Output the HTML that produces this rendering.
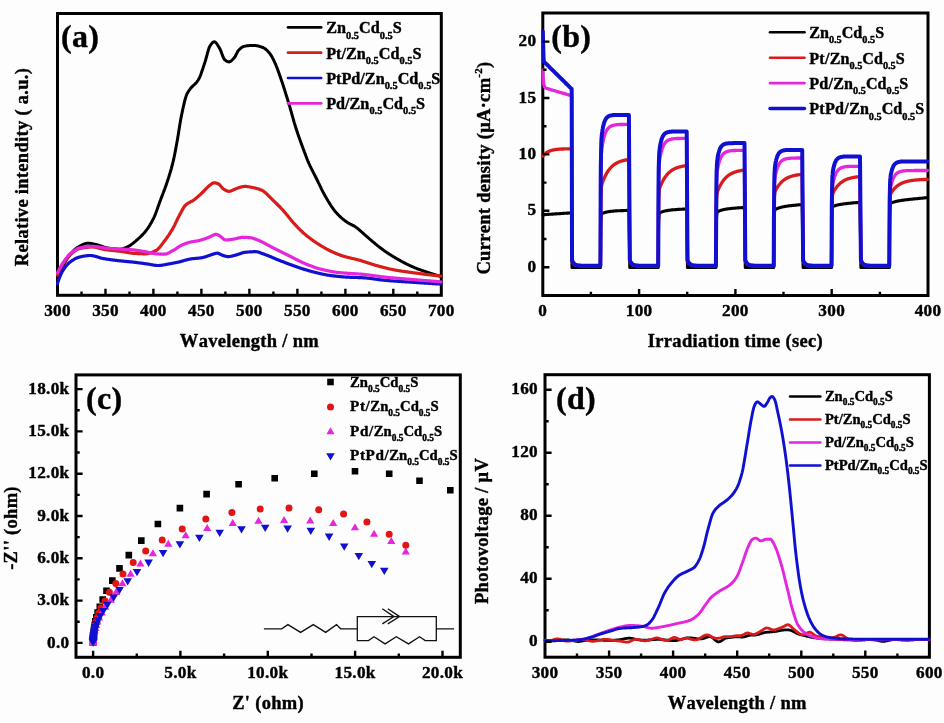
<!DOCTYPE html>
<html lang="en">
<head>
<meta charset="utf-8">
<title>Figure: PL spectra, photocurrent, EIS and SPV of Zn0.5Cd0.5S samples</title>
<style>
html,body{margin:0;padding:0;background:#fdfdfd;}
body{width:944px;height:723px;overflow:hidden;}
svg{display:block;}
svg text{font-family:"Liberation Serif", serif;font-weight:bold;fill:#000;font-kerning:none;letter-spacing:0.3px;stroke:#000;stroke-width:0.4px;stroke-linejoin:round;}
svg text.lg{letter-spacing:0;}
</style>
</head>
<body>
<svg width="944" height="723" viewBox="0 0 944 723">
<defs><filter id="soft" x="0" y="0" width="100%" height="100%" filterUnits="objectBoundingBox" color-interpolation-filters="sRGB"><feGaussianBlur stdDeviation="0.55"/></filter></defs>
<rect x="0" y="0" width="944" height="723" fill="#fdfdfd"/>
<g filter="url(#soft)">
<rect x="0" y="0" width="944" height="723" fill="#fdfdfd"/>
<g id="panel-a">
<rect x="57.5" y="13.5" width="383.8" height="281.8" fill="none" stroke="#000" stroke-width="3"/>
<clipPath id="clipA"><rect x="56" y="13.5" width="386.8" height="281.8"/></clipPath>
<g clip-path="url(#clipA)">
<polyline points="57.4,277.1 57.9,276 58.4,275 58.9,273.9 59.4,272.9 59.9,271.9 60.4,270.9 60.9,269.9 61.4,268.9 61.9,268 62.4,267 62.9,266.1 63.4,265.2 63.9,264.3 64.4,263.4 64.9,262.5 65.4,261.6 65.9,260.8 66.4,259.9 66.9,259.1 67.4,258.3 67.9,257.5 68.4,256.8 68.9,256.2 69.4,255.5 69.9,254.9 70.4,254.3 70.9,253.7 71.4,253.1 71.9,252.5 72.4,252 72.9,251.4 73.4,250.9 73.9,250.4 74.4,249.9 74.9,249.4 75.4,249 75.9,248.6 76.4,248.2 76.9,247.9 77.4,247.6 77.9,247.3 78.4,247 78.9,246.7 79.4,246.4 79.9,246.1 80.4,245.8 80.9,245.5 81.4,245.3 81.9,245 82.4,244.8 82.9,244.5 83.4,244.3 83.9,244.1 84.4,243.9 84.9,243.7 85.4,243.6 85.9,243.5 86.4,243.4 86.9,243.3 87.4,243.2 87.9,243.2 88.4,243.2 88.9,243.2 89.4,243.3 89.9,243.3 90.4,243.4 90.9,243.4 91.4,243.5 91.9,243.6 92.4,243.7 92.9,243.8 93.4,243.9 93.9,244.1 94.4,244.2 94.9,244.3 95.4,244.4 95.9,244.5 96.4,244.7 96.9,244.8 97.4,244.9 97.9,245 98.4,245.2 98.9,245.3 99.4,245.5 99.9,245.7 100.4,245.8 100.9,246 101.4,246.2 101.9,246.4 102.4,246.6 102.9,246.7 103.4,246.9 103.9,247.1 104.4,247.2 104.9,247.4 105.4,247.5 105.9,247.6 106.4,247.8 106.9,247.9 107.4,247.9 107.9,248 108.4,248.1 108.9,248.2 109.4,248.2 109.9,248.3 110.4,248.4 110.9,248.5 111.4,248.5 111.9,248.6 112.4,248.7 112.9,248.7 113.4,248.8 113.9,248.8 114.4,248.9 114.9,248.9 115.4,249 115.9,249 116.4,249.1 116.9,249.1 117.4,249.1 117.9,249.2 118.4,249.2 118.9,249.2 119.4,249.2 119.9,249.2 120.4,249.2 120.9,249.1 121.4,249.1 121.9,249 122.4,248.9 122.9,248.7 123.4,248.6 123.9,248.4 124.4,248.2 124.9,248 125.4,247.8 125.9,247.6 126.4,247.3 126.9,247.1 127.4,246.9 127.9,246.6 128.4,246.4 128.9,246.2 129.4,245.9 129.9,245.6 130.4,245.3 130.9,244.9 131.4,244.6 131.9,244.2 132.4,243.8 132.9,243.4 133.4,243 133.9,242.6 134.4,242.2 134.9,241.7 135.4,241.3 135.9,240.9 136.4,240.4 136.9,240 137.4,239.6 137.9,239.1 138.4,238.7 138.9,238.2 139.4,237.8 139.9,237.3 140.4,236.9 140.9,236.4 141.4,235.9 141.9,235.4 142.4,234.9 142.9,234.4 143.4,233.8 143.9,233.3 144.4,232.7 144.9,232.1 145.4,231.5 145.9,230.8 146.4,230.2 146.9,229.5 147.4,228.8 147.9,228.1 148.4,227.3 148.9,226.6 149.4,225.8 149.9,225 150.4,224.1 150.9,223.3 151.4,222.4 151.9,221.5 152.4,220.6 152.9,219.6 153.4,218.6 153.9,217.6 154.4,216.5 154.9,215.3 155.4,214.1 155.9,212.8 156.4,211.5 156.9,210.1 157.4,208.7 157.9,207.2 158.4,205.8 158.9,204.4 159.4,203 159.9,201.6 160.4,200.3 160.9,198.9 161.4,197.6 161.9,196.3 162.4,195.1 162.9,193.8 163.4,192.5 163.9,191.1 164.4,189.8 164.9,188.5 165.4,187.1 165.9,185.7 166.4,184.2 166.9,182.7 167.4,181.2 167.9,179.7 168.4,178.2 168.9,176.6 169.4,175 169.9,173.4 170.4,171.8 170.9,170 171.4,168.3 171.9,166.4 172.4,164.5 172.9,162.5 173.4,160.4 173.9,158.1 174.4,155.7 174.9,153.2 175.4,150.6 175.9,147.9 176.4,145.2 176.9,142.5 177.4,139.7 177.9,136.8 178.4,133.7 178.9,130.5 179.4,127.4 179.9,124.3 180.4,121.3 180.9,118.5 181.4,115.9 181.9,113.5 182.4,111.1 182.9,108.8 183.4,106.5 183.9,104.3 184.4,102.2 184.9,100.2 185.4,98.5 185.9,96.8 186.4,95.4 186.9,94.2 187.4,93.2 187.9,92.3 188.4,91.5 188.9,90.7 189.4,90 189.9,89.3 190.4,88.6 190.9,88 191.4,87.4 191.9,86.9 192.4,86.4 192.9,85.9 193.4,85.5 193.9,85 194.4,84.5 194.9,84.1 195.4,83.6 195.9,83 196.4,82.5 196.9,81.9 197.4,81.2 197.9,80.5 198.4,79.7 198.9,78.8 199.4,77.8 199.9,76.7 200.4,75.5 200.9,74.2 201.4,72.8 201.9,71.3 202.4,69.9 202.9,68.4 203.4,66.9 203.9,65.4 204.4,63.9 204.9,62.4 205.4,60.8 205.9,59 206.4,57.1 206.9,55.3 207.4,53.4 207.9,51.6 208.4,49.9 208.9,48.4 209.4,47.1 209.9,46.2 210.4,45.4 210.9,44.7 211.4,44 211.9,43.3 212.4,42.8 212.9,42.3 213.4,42 213.9,41.8 214.4,41.8 214.9,42 215.4,42.3 215.9,42.8 216.4,43.3 216.9,44 217.4,44.7 217.9,45.5 218.4,46.3 218.9,47.1 219.4,47.9 219.9,48.8 220.4,49.9 220.9,51.1 221.4,52.4 221.9,53.8 222.4,55.1 222.9,56.4 223.4,57.6 223.9,58.6 224.4,59.4 224.9,59.9 225.4,60.3 225.9,60.6 226.4,61 226.9,61.3 227.4,61.5 227.9,61.7 228.4,61.8 228.9,61.9 229.4,61.9 229.9,61.7 230.4,61.5 230.9,61.1 231.4,60.7 231.9,60.3 232.4,59.8 232.9,59.3 233.4,58.7 233.9,58.1 234.4,57.6 234.9,56.9 235.4,56 235.9,55.1 236.4,54.1 236.9,53.1 237.4,52.1 237.9,51.2 238.4,50.5 238.9,50 239.4,49.5 239.9,49 240.4,48.5 240.9,48.1 241.4,47.7 241.9,47.3 242.4,47 242.9,46.8 243.4,46.5 243.9,46.4 244.4,46.3 244.9,46.2 245.4,46.1 245.9,46 246.4,45.9 246.9,45.8 247.4,45.8 247.9,45.7 248.4,45.7 248.9,45.6 249.4,45.6 249.9,45.6 250.4,45.6 250.9,45.6 251.4,45.6 251.9,45.6 252.4,45.6 252.9,45.6 253.4,45.6 253.9,45.6 254.4,45.6 254.9,45.6 255.4,45.6 255.9,45.6 256.4,45.7 256.9,45.8 257.4,45.8 257.9,45.9 258.4,46.1 258.9,46.2 259.4,46.3 259.9,46.5 260.4,46.6 260.9,46.8 261.4,47 261.9,47.2 262.4,47.3 262.9,47.5 263.4,47.7 263.9,48 264.4,48.3 264.9,48.6 265.4,49 265.9,49.4 266.4,49.8 266.9,50.3 267.4,50.8 267.9,51.3 268.4,51.9 268.9,52.5 269.4,53 269.9,53.6 270.4,54.3 270.9,55.1 271.4,55.9 271.9,56.7 272.4,57.7 272.9,58.6 273.4,59.6 273.9,60.7 274.4,61.7 274.9,62.8 275.4,63.9 275.9,65 276.4,66.3 276.9,67.5 277.4,68.8 277.9,70.2 278.4,71.6 278.9,73 279.4,74.4 279.9,75.8 280.4,77.3 280.9,78.7 281.4,80.2 281.9,81.7 282.4,83.1 282.9,84.6 283.4,86.2 283.9,87.7 284.4,89.3 284.9,90.9 285.4,92.5 285.9,94.1 286.4,95.7 286.9,97.3 287.4,98.9 287.9,100.6 288.4,102.2 288.9,103.9 289.4,105.5 289.9,107.2 290.4,109 290.9,110.7 291.4,112.5 291.9,114.3 292.4,116.1 292.9,117.8 293.4,119.6 293.9,121.3 294.4,123.1 294.9,124.7 295.4,126.4 295.9,128 296.4,129.5 296.9,131 297.4,132.5 297.9,134 298.4,135.5 298.9,136.9 299.4,138.3 299.9,139.7 300.4,141.1 300.9,142.5 301.4,143.9 301.9,145.2 302.4,146.6 302.9,147.9 303.4,149.3 303.9,150.6 304.4,152 304.9,153.3 305.4,154.6 305.9,156 306.4,157.3 306.9,158.6 307.4,159.8 307.9,161.1 308.4,162.2 308.9,163.4 309.4,164.5 309.9,165.6 310.4,166.6 310.9,167.7 311.4,168.7 311.9,169.7 312.4,170.7 312.9,171.7 313.4,172.7 313.9,173.6 314.4,174.6 314.9,175.6 315.4,176.5 315.9,177.5 316.4,178.5 316.9,179.5 317.4,180.5 317.9,181.5 318.4,182.6 318.9,183.6 319.4,184.6 319.9,185.7 320.4,186.7 320.9,187.7 321.4,188.8 321.9,189.8 322.4,190.8 322.9,191.8 323.4,192.8 323.9,193.7 324.4,194.6 324.9,195.5 325.4,196.4 325.9,197.3 326.4,198.1 326.9,199 327.4,199.8 327.9,200.7 328.4,201.5 328.9,202.3 329.4,203.1 329.9,203.9 330.4,204.7 330.9,205.5 331.4,206.3 331.9,207 332.4,207.7 332.9,208.4 333.4,209.1 333.9,209.8 334.4,210.5 334.9,211.1 335.4,211.7 335.9,212.3 336.4,212.8 336.9,213.4 337.4,213.9 337.9,214.4 338.4,215 338.9,215.5 339.4,216 339.9,216.4 340.4,216.9 340.9,217.4 341.4,217.8 341.9,218.3 342.4,218.7 342.9,219.1 343.4,219.5 343.9,219.9 344.4,220.3 344.9,220.7 345.4,221.1 345.9,221.4 346.4,221.8 346.9,222.1 347.4,222.5 347.9,222.8 348.4,223 348.9,223.3 349.4,223.6 349.9,223.8 350.4,224.1 350.9,224.3 351.4,224.6 351.9,224.8 352.4,225.1 352.9,225.3 353.4,225.6 353.9,225.9 354.4,226.2 354.9,226.5 355.4,226.8 355.9,227.2 356.4,227.5 356.9,227.9 357.4,228.3 357.9,228.7 358.4,229.1 358.9,229.6 359.4,230 359.9,230.4 360.4,230.9 360.9,231.3 361.4,231.8 361.9,232.2 362.4,232.7 362.9,233.1 363.4,233.5 363.9,234 364.4,234.4 364.9,234.8 365.4,235.3 365.9,235.7 366.4,236.1 366.9,236.6 367.4,237 367.9,237.5 368.4,237.9 368.9,238.3 369.4,238.8 369.9,239.2 370.4,239.7 370.9,240.1 371.4,240.5 371.9,240.9 372.4,241.4 372.9,241.8 373.4,242.2 373.9,242.6 374.4,243 374.9,243.4 375.4,243.9 375.9,244.3 376.4,244.7 376.9,245.1 377.4,245.5 377.9,245.9 378.4,246.3 378.9,246.7 379.4,247.1 379.9,247.5 380.4,247.9 380.9,248.3 381.4,248.6 381.9,249 382.4,249.4 382.9,249.7 383.4,250.1 383.9,250.5 384.4,250.8 384.9,251.2 385.4,251.5 385.9,251.8 386.4,252.2 386.9,252.5 387.4,252.9 387.9,253.2 388.4,253.5 388.9,253.9 389.4,254.2 389.9,254.5 390.4,254.8 390.9,255.1 391.4,255.5 391.9,255.8 392.4,256.1 392.9,256.4 393.4,256.7 393.9,257 394.4,257.3 394.9,257.6 395.4,257.9 395.9,258.2 396.4,258.5 396.9,258.8 397.4,259 397.9,259.3 398.4,259.6 398.9,259.9 399.4,260.2 399.9,260.4 400.4,260.7 400.9,261 401.4,261.3 401.9,261.5 402.4,261.8 402.9,262.1 403.4,262.3 403.9,262.6 404.4,262.8 404.9,263.1 405.4,263.4 405.9,263.6 406.4,263.9 406.9,264.1 407.4,264.4 407.9,264.6 408.4,264.9 408.9,265.1 409.4,265.3 409.9,265.6 410.4,265.8 410.9,266 411.4,266.3 411.9,266.5 412.4,266.7 412.9,266.9 413.4,267.1 413.9,267.3 414.4,267.6 414.9,267.8 415.4,268 415.9,268.2 416.4,268.4 416.9,268.6 417.4,268.8 417.9,269 418.4,269.1 418.9,269.3 419.4,269.5 419.9,269.7 420.4,269.9 420.9,270.1 421.4,270.2 421.9,270.4 422.4,270.6 422.9,270.8 423.4,270.9 423.9,271.1 424.4,271.3 424.9,271.4 425.4,271.6 425.9,271.8 426.4,271.9 426.9,272.1 427.4,272.3 427.9,272.4 428.4,272.6 428.9,272.8 429.4,272.9 429.9,273.1 430.4,273.3 430.9,273.4 431.4,273.6 431.9,273.7 432.4,273.9 432.9,274.1 433.4,274.2 433.9,274.4 434.4,274.5 434.9,274.7 435.4,274.8 435.9,275 436.4,275.1 436.9,275.3 437.4,275.4 437.9,275.6 438.4,275.7 438.9,275.9 439.4,276 439.9,276.2 440.4,276.3 440.9,276.5 441,276.5" fill="none" stroke="#000000" stroke-width="3" stroke-linejoin="round" stroke-linecap="round" />
<polyline points="57.4,275 57.9,273.9 58.4,272.7 58.9,271.6 59.4,270.6 59.9,269.5 60.4,268.5 60.9,267.5 61.4,266.6 61.9,265.7 62.4,264.9 62.9,264.1 63.4,263.3 63.9,262.6 64.4,261.8 64.9,261.1 65.4,260.4 65.9,259.7 66.4,259 66.9,258.4 67.4,257.8 67.9,257.2 68.4,256.6 68.9,256 69.4,255.5 69.9,255 70.4,254.5 70.9,254.1 71.4,253.6 71.9,253.2 72.4,252.8 72.9,252.4 73.4,252 73.9,251.6 74.4,251.2 74.9,250.9 75.4,250.5 75.9,250.2 76.4,249.9 76.9,249.6 77.4,249.3 77.9,249.1 78.4,248.9 78.9,248.7 79.4,248.6 79.9,248.5 80.4,248.4 80.9,248.3 81.4,248.2 81.9,248.1 82.4,248 82.9,247.9 83.4,247.8 83.9,247.7 84.4,247.6 84.9,247.6 85.4,247.5 85.9,247.4 86.4,247.4 86.9,247.3 87.4,247.3 87.9,247.2 88.4,247.2 88.9,247.1 89.4,247.1 89.9,247.1 90.4,247 90.9,247 91.4,247 91.9,247 92.4,247 92.9,247 93.4,247 93.9,247.1 94.4,247.1 94.9,247.2 95.4,247.3 95.9,247.4 96.4,247.5 96.9,247.6 97.4,247.7 97.9,247.8 98.4,248 98.9,248.1 99.4,248.2 99.9,248.4 100.4,248.5 100.9,248.7 101.4,248.8 101.9,248.9 102.4,249 102.9,249.2 103.4,249.3 103.9,249.4 104.4,249.5 104.9,249.6 105.4,249.6 105.9,249.7 106.4,249.8 106.9,249.9 107.4,249.9 107.9,250 108.4,250 108.9,250.1 109.4,250.2 109.9,250.2 110.4,250.3 110.9,250.3 111.4,250.4 111.9,250.4 112.4,250.5 112.9,250.5 113.4,250.6 113.9,250.6 114.4,250.7 114.9,250.7 115.4,250.8 115.9,250.8 116.4,250.9 116.9,250.9 117.4,251 117.9,251.1 118.4,251.1 118.9,251.2 119.4,251.2 119.9,251.3 120.4,251.4 120.9,251.4 121.4,251.5 121.9,251.6 122.4,251.7 122.9,251.7 123.4,251.8 123.9,251.9 124.4,252 124.9,252.1 125.4,252.2 125.9,252.2 126.4,252.3 126.9,252.4 127.4,252.5 127.9,252.6 128.4,252.7 128.9,252.7 129.4,252.8 129.9,252.9 130.4,253 130.9,253 131.4,253.1 131.9,253.2 132.4,253.2 132.9,253.3 133.4,253.3 133.9,253.3 134.4,253.4 134.9,253.4 135.4,253.4 135.9,253.5 136.4,253.5 136.9,253.5 137.4,253.6 137.9,253.6 138.4,253.6 138.9,253.6 139.4,253.7 139.9,253.7 140.4,253.7 140.9,253.7 141.4,253.7 141.9,253.7 142.4,253.8 142.9,253.8 143.4,253.8 143.9,253.8 144.4,253.8 144.9,253.8 145.4,253.8 145.9,253.8 146.4,253.8 146.9,253.7 147.4,253.6 147.9,253.6 148.4,253.5 148.9,253.3 149.4,253.2 149.9,253.1 150.4,252.9 150.9,252.7 151.4,252.6 151.9,252.4 152.4,252.2 152.9,252 153.4,251.8 153.9,251.5 154.4,251.3 154.9,251.1 155.4,250.8 155.9,250.6 156.4,250.3 156.9,250 157.4,249.6 157.9,249.2 158.4,248.7 158.9,248.2 159.4,247.6 159.9,247 160.4,246.4 160.9,245.7 161.4,245.1 161.9,244.4 162.4,243.8 162.9,243.1 163.4,242.4 163.9,241.7 164.4,241.1 164.9,240.5 165.4,239.8 165.9,239.1 166.4,238.4 166.9,237.8 167.4,237 167.9,236.3 168.4,235.6 168.9,234.9 169.4,234.1 169.9,233.3 170.4,232.5 170.9,231.7 171.4,230.9 171.9,230.1 172.4,229.3 172.9,228.4 173.4,227.5 173.9,226.6 174.4,225.6 174.9,224.6 175.4,223.5 175.9,222.4 176.4,221.4 176.9,220.3 177.4,219.3 177.9,218.2 178.4,217.2 178.9,216.3 179.4,215.3 179.9,214.4 180.4,213.5 180.9,212.5 181.4,211.5 181.9,210.6 182.4,209.7 182.9,208.8 183.4,208 183.9,207.2 184.4,206.5 184.9,205.8 185.4,205.3 185.9,204.8 186.4,204.4 186.9,204 187.4,203.7 187.9,203.3 188.4,203 188.9,202.8 189.4,202.5 189.9,202.2 190.4,202 190.9,201.7 191.4,201.4 191.9,201.2 192.4,200.9 192.9,200.6 193.4,200.3 193.9,199.9 194.4,199.6 194.9,199.2 195.4,198.8 195.9,198.4 196.4,198 196.9,197.6 197.4,197.1 197.9,196.7 198.4,196.2 198.9,195.8 199.4,195.3 199.9,194.8 200.4,194.4 200.9,193.9 201.4,193.4 201.9,193 202.4,192.5 202.9,192 203.4,191.5 203.9,191 204.4,190.5 204.9,189.9 205.4,189.4 205.9,188.8 206.4,188.3 206.9,187.8 207.4,187.3 207.9,186.8 208.4,186.4 208.9,186 209.4,185.6 209.9,185.2 210.4,184.8 210.9,184.4 211.4,184 211.9,183.7 212.4,183.4 212.9,183.1 213.4,182.9 213.9,182.8 214.4,182.8 214.9,182.8 215.4,182.9 215.9,183 216.4,183.2 216.9,183.3 217.4,183.5 217.9,183.7 218.4,183.9 218.9,184.2 219.4,184.6 219.9,185.1 220.4,185.6 220.9,186.3 221.4,186.9 221.9,187.5 222.4,188.1 222.9,188.6 223.4,189 223.9,189.3 224.4,189.6 224.9,189.9 225.4,190.2 225.9,190.4 226.4,190.6 226.9,190.9 227.4,191 227.9,191.2 228.4,191.3 228.9,191.3 229.4,191.3 229.9,191.2 230.4,191.1 230.9,191 231.4,190.8 231.9,190.6 232.4,190.4 232.9,190.1 233.4,189.9 233.9,189.6 234.4,189.4 234.9,189.2 235.4,189 235.9,188.8 236.4,188.6 236.9,188.4 237.4,188.3 237.9,188.1 238.4,187.9 238.9,187.8 239.4,187.6 239.9,187.4 240.4,187.3 240.9,187.1 241.4,187 241.9,186.8 242.4,186.7 242.9,186.6 243.4,186.5 243.9,186.5 244.4,186.4 244.9,186.4 245.4,186.4 245.9,186.4 246.4,186.5 246.9,186.5 247.4,186.6 247.9,186.6 248.4,186.7 248.9,186.8 249.4,186.9 249.9,187 250.4,187.1 250.9,187.2 251.4,187.3 251.9,187.4 252.4,187.5 252.9,187.6 253.4,187.7 253.9,187.8 254.4,187.9 254.9,188 255.4,188.1 255.9,188.2 256.4,188.4 256.9,188.5 257.4,188.7 257.9,188.8 258.4,189 258.9,189.1 259.4,189.3 259.9,189.5 260.4,189.7 260.9,189.9 261.4,190.1 261.9,190.3 262.4,190.5 262.9,190.8 263.4,191.1 263.9,191.5 264.4,191.9 264.9,192.3 265.4,192.7 265.9,193.1 266.4,193.6 266.9,194.1 267.4,194.6 267.9,195.1 268.4,195.6 268.9,196.1 269.4,196.7 269.9,197.2 270.4,197.7 270.9,198.2 271.4,198.7 271.9,199.2 272.4,199.7 272.9,200.2 273.4,200.7 273.9,201.1 274.4,201.6 274.9,202.1 275.4,202.6 275.9,203 276.4,203.5 276.9,204 277.4,204.5 277.9,205 278.4,205.5 278.9,206 279.4,206.5 279.9,207 280.4,207.5 280.9,208.1 281.4,208.6 281.9,209.1 282.4,209.6 282.9,210.2 283.4,210.7 283.9,211.3 284.4,211.9 284.9,212.5 285.4,213 285.9,213.6 286.4,214.3 286.9,214.9 287.4,215.5 287.9,216.1 288.4,216.7 288.9,217.4 289.4,218 289.9,218.6 290.4,219.2 290.9,219.9 291.4,220.5 291.9,221 292.4,221.6 292.9,222.2 293.4,222.8 293.9,223.3 294.4,223.9 294.9,224.4 295.4,224.9 295.9,225.5 296.4,226 296.9,226.5 297.4,227.1 297.9,227.6 298.4,228.1 298.9,228.6 299.4,229.1 299.9,229.6 300.4,230.1 300.9,230.6 301.4,231.1 301.9,231.5 302.4,232 302.9,232.5 303.4,232.9 303.9,233.4 304.4,233.8 304.9,234.2 305.4,234.6 305.9,235 306.4,235.5 306.9,235.9 307.4,236.3 307.9,236.7 308.4,237.1 308.9,237.4 309.4,237.8 309.9,238.2 310.4,238.6 310.9,239 311.4,239.3 311.9,239.7 312.4,240.1 312.9,240.4 313.4,240.8 313.9,241.1 314.4,241.5 314.9,241.8 315.4,242.1 315.9,242.5 316.4,242.8 316.9,243.1 317.4,243.5 317.9,243.8 318.4,244.1 318.9,244.4 319.4,244.7 319.9,245.1 320.4,245.4 320.9,245.7 321.4,246 321.9,246.3 322.4,246.6 322.9,246.9 323.4,247.2 323.9,247.5 324.4,247.8 324.9,248.1 325.4,248.3 325.9,248.6 326.4,248.9 326.9,249.2 327.4,249.4 327.9,249.7 328.4,250 328.9,250.2 329.4,250.5 329.9,250.7 330.4,250.9 330.9,251.2 331.4,251.4 331.9,251.6 332.4,251.9 332.9,252.1 333.4,252.3 333.9,252.6 334.4,252.8 334.9,253 335.4,253.2 335.9,253.4 336.4,253.6 336.9,253.8 337.4,254.1 337.9,254.2 338.4,254.4 338.9,254.6 339.4,254.8 339.9,255 340.4,255.2 340.9,255.4 341.4,255.5 341.9,255.7 342.4,255.9 342.9,256 343.4,256.2 343.9,256.3 344.4,256.5 344.9,256.6 345.4,256.8 345.9,256.9 346.4,257 346.9,257.2 347.4,257.3 347.9,257.4 348.4,257.5 348.9,257.6 349.4,257.8 349.9,257.9 350.4,258 350.9,258.1 351.4,258.2 351.9,258.4 352.4,258.5 352.9,258.6 353.4,258.7 353.9,258.8 354.4,258.9 354.9,259 355.4,259.2 355.9,259.3 356.4,259.4 356.9,259.5 357.4,259.7 357.9,259.8 358.4,259.9 358.9,260.1 359.4,260.2 359.9,260.3 360.4,260.5 360.9,260.6 361.4,260.8 361.9,260.9 362.4,261.1 362.9,261.2 363.4,261.4 363.9,261.6 364.4,261.7 364.9,261.9 365.4,262 365.9,262.2 366.4,262.4 366.9,262.5 367.4,262.7 367.9,262.9 368.4,263 368.9,263.2 369.4,263.3 369.9,263.5 370.4,263.7 370.9,263.8 371.4,264 371.9,264.2 372.4,264.3 372.9,264.5 373.4,264.6 373.9,264.8 374.4,264.9 374.9,265.1 375.4,265.2 375.9,265.4 376.4,265.5 376.9,265.6 377.4,265.8 377.9,265.9 378.4,266.1 378.9,266.2 379.4,266.3 379.9,266.5 380.4,266.6 380.9,266.7 381.4,266.9 381.9,267 382.4,267.1 382.9,267.3 383.4,267.4 383.9,267.5 384.4,267.7 384.9,267.8 385.4,267.9 385.9,268 386.4,268.2 386.9,268.3 387.4,268.4 387.9,268.5 388.4,268.7 388.9,268.8 389.4,268.9 389.9,269 390.4,269.1 390.9,269.2 391.4,269.3 391.9,269.4 392.4,269.5 392.9,269.6 393.4,269.7 393.9,269.8 394.4,269.9 394.9,270 395.4,270.1 395.9,270.2 396.4,270.3 396.9,270.3 397.4,270.4 397.9,270.5 398.4,270.6 398.9,270.7 399.4,270.8 399.9,270.8 400.4,270.9 400.9,271 401.4,271.1 401.9,271.1 402.4,271.2 402.9,271.3 403.4,271.4 403.9,271.4 404.4,271.5 404.9,271.6 405.4,271.7 405.9,271.7 406.4,271.8 406.9,271.9 407.4,271.9 407.9,272 408.4,272.1 408.9,272.1 409.4,272.2 409.9,272.3 410.4,272.3 410.9,272.4 411.4,272.5 411.9,272.6 412.4,272.6 412.9,272.7 413.4,272.8 413.9,272.8 414.4,272.9 414.9,273 415.4,273 415.9,273.1 416.4,273.2 416.9,273.2 417.4,273.3 417.9,273.4 418.4,273.4 418.9,273.5 419.4,273.5 419.9,273.6 420.4,273.7 420.9,273.7 421.4,273.8 421.9,273.9 422.4,273.9 422.9,274 423.4,274.1 423.9,274.1 424.4,274.2 424.9,274.3 425.4,274.3 425.9,274.4 426.4,274.4 426.9,274.5 427.4,274.6 427.9,274.6 428.4,274.7 428.9,274.7 429.4,274.8 429.9,274.9 430.4,274.9 430.9,275 431.4,275 431.9,275.1 432.4,275.2 432.9,275.2 433.4,275.3 433.9,275.3 434.4,275.4 434.9,275.4 435.4,275.5 435.9,275.6 436.4,275.6 436.9,275.7 437.4,275.7 437.9,275.8 438.4,275.8 438.9,275.9 439.4,275.9 439.9,276 440.4,276 440.9,276.1 441,276.1" fill="none" stroke="#d81c1c" stroke-width="3.2" stroke-linejoin="round" stroke-linecap="round" />
<polyline points="57.4,283.5 57.9,282.1 58.4,280.7 58.9,279.3 59.4,277.9 59.9,276.7 60.4,275.4 60.9,274.3 61.4,273.2 61.9,272.2 62.4,271.3 62.9,270.5 63.4,269.7 63.9,269 64.4,268.3 64.9,267.6 65.4,266.9 65.9,266.3 66.4,265.7 66.9,265.1 67.4,264.6 67.9,264 68.4,263.5 68.9,263.1 69.4,262.6 69.9,262.2 70.4,261.8 70.9,261.4 71.4,261.1 71.9,260.7 72.4,260.4 72.9,260.1 73.4,259.8 73.9,259.5 74.4,259.2 74.9,258.9 75.4,258.6 75.9,258.4 76.4,258.1 76.9,257.9 77.4,257.7 77.9,257.5 78.4,257.4 78.9,257.2 79.4,257.1 79.9,257 80.4,256.8 80.9,256.7 81.4,256.6 81.9,256.5 82.4,256.4 82.9,256.3 83.4,256.2 83.9,256.1 84.4,256 84.9,256 85.4,255.9 85.9,255.8 86.4,255.8 86.9,255.7 87.4,255.6 87.9,255.6 88.4,255.6 88.9,255.5 89.4,255.5 89.9,255.5 90.4,255.5 90.9,255.5 91.4,255.5 91.9,255.6 92.4,255.7 92.9,255.8 93.4,255.8 93.9,256 94.4,256.1 94.9,256.2 95.4,256.3 95.9,256.5 96.4,256.6 96.9,256.8 97.4,257 97.9,257.1 98.4,257.3 98.9,257.4 99.4,257.6 99.9,257.7 100.4,257.9 100.9,258 101.4,258.2 101.9,258.3 102.4,258.4 102.9,258.5 103.4,258.6 103.9,258.7 104.4,258.7 104.9,258.8 105.4,258.9 105.9,259 106.4,259.1 106.9,259.1 107.4,259.2 107.9,259.3 108.4,259.4 108.9,259.4 109.4,259.5 109.9,259.6 110.4,259.7 110.9,259.7 111.4,259.8 111.9,259.9 112.4,259.9 112.9,260 113.4,260.1 113.9,260.1 114.4,260.2 114.9,260.2 115.4,260.3 115.9,260.4 116.4,260.4 116.9,260.5 117.4,260.6 117.9,260.6 118.4,260.7 118.9,260.7 119.4,260.8 119.9,260.8 120.4,260.9 120.9,260.9 121.4,261 121.9,261 122.4,261.1 122.9,261.1 123.4,261.2 123.9,261.2 124.4,261.3 124.9,261.3 125.4,261.4 125.9,261.4 126.4,261.5 126.9,261.5 127.4,261.6 127.9,261.6 128.4,261.7 128.9,261.7 129.4,261.8 129.9,261.8 130.4,261.8 130.9,261.9 131.4,261.9 131.9,262 132.4,262 132.9,262.1 133.4,262.2 133.9,262.2 134.4,262.3 134.9,262.3 135.4,262.4 135.9,262.4 136.4,262.5 136.9,262.6 137.4,262.6 137.9,262.7 138.4,262.8 138.9,262.8 139.4,262.9 139.9,263 140.4,263 140.9,263.1 141.4,263.2 141.9,263.2 142.4,263.3 142.9,263.4 143.4,263.4 143.9,263.5 144.4,263.6 144.9,263.6 145.4,263.7 145.9,263.8 146.4,263.8 146.9,263.9 147.4,264 147.9,264.1 148.4,264.1 148.9,264.2 149.4,264.3 149.9,264.4 150.4,264.5 150.9,264.6 151.4,264.7 151.9,264.8 152.4,264.9 152.9,264.9 153.4,265 153.9,265.1 154.4,265.2 154.9,265.3 155.4,265.3 155.9,265.4 156.4,265.4 156.9,265.5 157.4,265.5 157.9,265.5 158.4,265.5 158.9,265.5 159.4,265.5 159.9,265.4 160.4,265.4 160.9,265.3 161.4,265.3 161.9,265.2 162.4,265.1 162.9,265 163.4,265 163.9,264.9 164.4,264.8 164.9,264.7 165.4,264.6 165.9,264.5 166.4,264.4 166.9,264.3 167.4,264.2 167.9,264.1 168.4,264 168.9,263.9 169.4,263.9 169.9,263.8 170.4,263.7 170.9,263.6 171.4,263.5 171.9,263.4 172.4,263.3 172.9,263.2 173.4,263.1 173.9,263 174.4,262.9 174.9,262.8 175.4,262.7 175.9,262.6 176.4,262.5 176.9,262.4 177.4,262.3 177.9,262.2 178.4,262.1 178.9,262 179.4,261.9 179.9,261.7 180.4,261.6 180.9,261.5 181.4,261.3 181.9,261.2 182.4,261 182.9,260.9 183.4,260.7 183.9,260.6 184.4,260.4 184.9,260.3 185.4,260.2 185.9,260 186.4,259.9 186.9,259.7 187.4,259.6 187.9,259.5 188.4,259.4 188.9,259.3 189.4,259.2 189.9,259.1 190.4,259 190.9,258.9 191.4,258.9 191.9,258.8 192.4,258.7 192.9,258.7 193.4,258.6 193.9,258.6 194.4,258.5 194.9,258.5 195.4,258.4 195.9,258.4 196.4,258.3 196.9,258.3 197.4,258.3 197.9,258.2 198.4,258.2 198.9,258.1 199.4,258 199.9,258 200.4,257.9 200.9,257.9 201.4,257.8 201.9,257.7 202.4,257.6 202.9,257.5 203.4,257.4 203.9,257.3 204.4,257.1 204.9,257 205.4,256.8 205.9,256.7 206.4,256.5 206.9,256.3 207.4,256.1 207.9,255.9 208.4,255.8 208.9,255.6 209.4,255.4 209.9,255.2 210.4,255.1 210.9,254.9 211.4,254.8 211.9,254.6 212.4,254.4 212.9,254.3 213.4,254.1 213.9,253.9 214.4,253.8 214.9,253.6 215.4,253.5 215.9,253.4 216.4,253.3 216.9,253.2 217.4,253.2 217.9,253.2 218.4,253.4 218.9,253.6 219.4,253.8 219.9,254.1 220.4,254.4 220.9,254.6 221.4,254.8 221.9,255 222.4,255.2 222.9,255.4 223.4,255.5 223.9,255.7 224.4,255.9 224.9,256 225.4,256.2 225.9,256.3 226.4,256.4 226.9,256.5 227.4,256.6 227.9,256.6 228.4,256.6 228.9,256.6 229.4,256.5 229.9,256.5 230.4,256.4 230.9,256.3 231.4,256.2 231.9,256.1 232.4,256 232.9,255.8 233.4,255.7 233.9,255.6 234.4,255.4 234.9,255.3 235.4,255.2 235.9,255 236.4,254.9 236.9,254.8 237.4,254.6 237.9,254.5 238.4,254.3 238.9,254.1 239.4,253.9 239.9,253.7 240.4,253.5 240.9,253.4 241.4,253.2 241.9,253 242.4,252.8 242.9,252.7 243.4,252.6 243.9,252.4 244.4,252.4 244.9,252.3 245.4,252.3 245.9,252.2 246.4,252.2 246.9,252.1 247.4,252.1 247.9,252 248.4,252 248.9,252 249.4,251.9 249.9,251.9 250.4,251.9 250.9,251.8 251.4,251.8 251.9,251.8 252.4,251.8 252.9,251.7 253.4,251.7 253.9,251.7 254.4,251.7 254.9,251.7 255.4,251.7 255.9,251.7 256.4,251.7 256.9,251.8 257.4,251.9 257.9,252 258.4,252.1 258.9,252.3 259.4,252.4 259.9,252.6 260.4,252.8 260.9,253 261.4,253.2 261.9,253.4 262.4,253.6 262.9,253.8 263.4,254 263.9,254.1 264.4,254.3 264.9,254.5 265.4,254.7 265.9,254.8 266.4,255 266.9,255.2 267.4,255.4 267.9,255.6 268.4,255.8 268.9,256 269.4,256.2 269.9,256.4 270.4,256.6 270.9,256.8 271.4,257.1 271.9,257.3 272.4,257.5 272.9,257.7 273.4,257.9 273.9,258.1 274.4,258.3 274.9,258.6 275.4,258.8 275.9,259 276.4,259.2 276.9,259.4 277.4,259.6 277.9,259.8 278.4,260 278.9,260.2 279.4,260.4 279.9,260.6 280.4,260.8 280.9,261 281.4,261.2 281.9,261.4 282.4,261.6 282.9,261.8 283.4,261.9 283.9,262.1 284.4,262.3 284.9,262.5 285.4,262.7 285.9,262.9 286.4,263.1 286.9,263.3 287.4,263.5 287.9,263.7 288.4,263.8 288.9,264 289.4,264.2 289.9,264.4 290.4,264.6 290.9,264.8 291.4,265 291.9,265.1 292.4,265.3 292.9,265.5 293.4,265.7 293.9,265.8 294.4,266 294.9,266.2 295.4,266.4 295.9,266.5 296.4,266.7 296.9,266.9 297.4,267 297.9,267.2 298.4,267.4 298.9,267.6 299.4,267.7 299.9,267.9 300.4,268.1 300.9,268.2 301.4,268.4 301.9,268.6 302.4,268.7 302.9,268.9 303.4,269 303.9,269.2 304.4,269.4 304.9,269.5 305.4,269.7 305.9,269.8 306.4,270 306.9,270.1 307.4,270.3 307.9,270.4 308.4,270.6 308.9,270.7 309.4,270.9 309.9,271 310.4,271.2 310.9,271.3 311.4,271.4 311.9,271.6 312.4,271.7 312.9,271.8 313.4,272 313.9,272.1 314.4,272.2 314.9,272.3 315.4,272.5 315.9,272.6 316.4,272.7 316.9,272.8 317.4,272.9 317.9,273.1 318.4,273.2 318.9,273.3 319.4,273.4 319.9,273.5 320.4,273.7 320.9,273.8 321.4,273.9 321.9,274 322.4,274.1 322.9,274.2 323.4,274.3 323.9,274.4 324.4,274.5 324.9,274.6 325.4,274.7 325.9,274.8 326.4,274.9 326.9,275 327.4,275.1 327.9,275.1 328.4,275.2 328.9,275.3 329.4,275.4 329.9,275.4 330.4,275.5 330.9,275.6 331.4,275.6 331.9,275.7 332.4,275.8 332.9,275.8 333.4,275.9 333.9,275.9 334.4,276 334.9,276.1 335.4,276.1 335.9,276.2 336.4,276.2 336.9,276.3 337.4,276.3 337.9,276.4 338.4,276.4 338.9,276.5 339.4,276.5 339.9,276.6 340.4,276.6 340.9,276.7 341.4,276.7 341.9,276.8 342.4,276.8 342.9,276.8 343.4,276.9 343.9,276.9 344.4,277 344.9,277 345.4,277 345.9,277.1 346.4,277.1 346.9,277.1 347.4,277.1 347.9,277.2 348.4,277.2 348.9,277.2 349.4,277.2 349.9,277.3 350.4,277.3 350.9,277.3 351.4,277.3 351.9,277.3 352.4,277.4 352.9,277.4 353.4,277.4 353.9,277.4 354.4,277.4 354.9,277.4 355.4,277.5 355.9,277.5 356.4,277.5 356.9,277.5 357.4,277.5 357.9,277.5 358.4,277.6 358.9,277.6 359.4,277.6 359.9,277.6 360.4,277.6 360.9,277.7 361.4,277.7 361.9,277.7 362.4,277.7 362.9,277.8 363.4,277.8 363.9,277.8 364.4,277.9 364.9,277.9 365.4,277.9 365.9,278 366.4,278 366.9,278.1 367.4,278.1 367.9,278.2 368.4,278.2 368.9,278.3 369.4,278.3 369.9,278.4 370.4,278.5 370.9,278.5 371.4,278.6 371.9,278.7 372.4,278.7 372.9,278.8 373.4,278.9 373.9,278.9 374.4,279 374.9,279.1 375.4,279.1 375.9,279.2 376.4,279.3 376.9,279.3 377.4,279.4 377.9,279.5 378.4,279.6 378.9,279.6 379.4,279.7 379.9,279.8 380.4,279.8 380.9,279.9 381.4,279.9 381.9,280 382.4,280.1 382.9,280.1 383.4,280.2 383.9,280.2 384.4,280.3 384.9,280.3 385.4,280.4 385.9,280.4 386.4,280.4 386.9,280.5 387.4,280.5 387.9,280.6 388.4,280.6 388.9,280.6 389.4,280.7 389.9,280.7 390.4,280.8 390.9,280.8 391.4,280.8 391.9,280.9 392.4,280.9 392.9,281 393.4,281 393.9,281 394.4,281.1 394.9,281.1 395.4,281.1 395.9,281.2 396.4,281.2 396.9,281.2 397.4,281.3 397.9,281.3 398.4,281.3 398.9,281.4 399.4,281.4 399.9,281.5 400.4,281.5 400.9,281.5 401.4,281.5 401.9,281.6 402.4,281.6 402.9,281.6 403.4,281.7 403.9,281.7 404.4,281.7 404.9,281.8 405.4,281.8 405.9,281.8 406.4,281.9 406.9,281.9 407.4,281.9 407.9,282 408.4,282 408.9,282 409.4,282.1 409.9,282.1 410.4,282.1 410.9,282.2 411.4,282.2 411.9,282.2 412.4,282.3 412.9,282.3 413.4,282.3 413.9,282.4 414.4,282.4 414.9,282.4 415.4,282.5 415.9,282.5 416.4,282.5 416.9,282.6 417.4,282.6 417.9,282.6 418.4,282.7 418.9,282.7 419.4,282.7 419.9,282.8 420.4,282.8 420.9,282.8 421.4,282.9 421.9,282.9 422.4,282.9 422.9,283 423.4,283 423.9,283 424.4,283.1 424.9,283.1 425.4,283.1 425.9,283.2 426.4,283.2 426.9,283.2 427.4,283.2 427.9,283.3 428.4,283.3 428.9,283.3 429.4,283.4 429.9,283.4 430.4,283.4 430.9,283.5 431.4,283.5 431.9,283.5 432.4,283.6 432.9,283.6 433.4,283.6 433.9,283.7 434.4,283.7 434.9,283.7 435.4,283.8 435.9,283.8 436.4,283.8 436.9,283.8 437.4,283.9 437.9,283.9 438.4,283.9 438.9,284 439.4,284 439.9,284 440.4,284.1 440.9,284.1 441,284.1" fill="none" stroke="#1010d0" stroke-width="3.2" stroke-linejoin="round" stroke-linecap="round" />
<polyline points="57.4,272.9 57.9,271.9 58.4,270.9 58.9,269.9 59.4,269 59.9,268 60.4,267.1 60.9,266.2 61.4,265.4 61.9,264.5 62.4,263.8 62.9,263 63.4,262.3 63.9,261.5 64.4,260.8 64.9,260.1 65.4,259.4 65.9,258.7 66.4,258 66.9,257.4 67.4,256.7 67.9,256.1 68.4,255.5 68.9,255 69.4,254.4 69.9,253.9 70.4,253.5 70.9,253 71.4,252.6 71.9,252.3 72.4,251.9 72.9,251.5 73.4,251.1 73.9,250.8 74.4,250.4 74.9,250.1 75.4,249.8 75.9,249.5 76.4,249.2 76.9,248.9 77.4,248.7 77.9,248.5 78.4,248.3 78.9,248.1 79.4,248 79.9,247.9 80.4,247.8 80.9,247.7 81.4,247.6 81.9,247.5 82.4,247.4 82.9,247.3 83.4,247.2 83.9,247.1 84.4,247.1 84.9,247 85.4,246.9 85.9,246.8 86.4,246.8 86.9,246.7 87.4,246.7 87.9,246.6 88.4,246.6 88.9,246.5 89.4,246.5 89.9,246.5 90.4,246.4 90.9,246.4 91.4,246.4 91.9,246.4 92.4,246.4 92.9,246.4 93.4,246.4 93.9,246.4 94.4,246.5 94.9,246.5 95.4,246.5 95.9,246.6 96.4,246.6 96.9,246.7 97.4,246.8 97.9,246.8 98.4,246.9 98.9,247 99.4,247.1 99.9,247.1 100.4,247.2 100.9,247.3 101.4,247.4 101.9,247.5 102.4,247.6 102.9,247.6 103.4,247.7 103.9,247.8 104.4,247.9 104.9,248 105.4,248 105.9,248.1 106.4,248.2 106.9,248.3 107.4,248.3 107.9,248.4 108.4,248.4 108.9,248.5 109.4,248.5 109.9,248.5 110.4,248.6 110.9,248.6 111.4,248.6 111.9,248.7 112.4,248.7 112.9,248.7 113.4,248.8 113.9,248.8 114.4,248.8 114.9,248.8 115.4,248.9 115.9,248.9 116.4,248.9 116.9,248.9 117.4,248.9 117.9,249 118.4,249 118.9,249 119.4,249 119.9,249 120.4,249.1 120.9,249.1 121.4,249.1 121.9,249.1 122.4,249.1 122.9,249.2 123.4,249.2 123.9,249.2 124.4,249.2 124.9,249.3 125.4,249.3 125.9,249.3 126.4,249.3 126.9,249.4 127.4,249.4 127.9,249.4 128.4,249.5 128.9,249.5 129.4,249.5 129.9,249.6 130.4,249.6 130.9,249.6 131.4,249.7 131.9,249.7 132.4,249.8 132.9,249.8 133.4,249.9 133.9,249.9 134.4,250 134.9,250.1 135.4,250.1 135.9,250.2 136.4,250.3 136.9,250.3 137.4,250.4 137.9,250.5 138.4,250.6 138.9,250.6 139.4,250.7 139.9,250.8 140.4,250.9 140.9,251 141.4,251 141.9,251.1 142.4,251.2 142.9,251.3 143.4,251.4 143.9,251.5 144.4,251.5 144.9,251.6 145.4,251.7 145.9,251.8 146.4,251.9 146.9,252 147.4,252.1 147.9,252.2 148.4,252.3 148.9,252.5 149.4,252.6 149.9,252.7 150.4,252.8 150.9,252.9 151.4,253.1 151.9,253.2 152.4,253.3 152.9,253.4 153.4,253.5 153.9,253.6 154.4,253.6 154.9,253.7 155.4,253.8 155.9,253.8 156.4,253.8 156.9,253.9 157.4,253.9 157.9,253.9 158.4,254 158.9,254 159.4,254 159.9,254.1 160.4,254.1 160.9,254.1 161.4,254.1 161.9,254.2 162.4,254.2 162.9,254.2 163.4,254.2 163.9,254.2 164.4,254.2 164.9,254.2 165.4,254.1 165.9,254 166.4,253.9 166.9,253.7 167.4,253.5 167.9,253.3 168.4,253.1 168.9,252.8 169.4,252.5 169.9,252.3 170.4,252 170.9,251.7 171.4,251.4 171.9,251.1 172.4,250.9 172.9,250.6 173.4,250.3 173.9,250.1 174.4,249.8 174.9,249.4 175.4,249.1 175.9,248.8 176.4,248.4 176.9,248.1 177.4,247.7 177.9,247.4 178.4,247.1 178.9,246.7 179.4,246.4 179.9,246.1 180.4,245.8 180.9,245.5 181.4,245.3 181.9,245.1 182.4,244.8 182.9,244.6 183.4,244.4 183.9,244.2 184.4,244 184.9,243.8 185.4,243.6 185.9,243.4 186.4,243.2 186.9,243 187.4,242.9 187.9,242.7 188.4,242.6 188.9,242.4 189.4,242.3 189.9,242.2 190.4,242.1 190.9,242 191.4,241.9 191.9,241.8 192.4,241.7 192.9,241.6 193.4,241.5 193.9,241.5 194.4,241.4 194.9,241.3 195.4,241.2 195.9,241.2 196.4,241.1 196.9,241 197.4,240.9 197.9,240.8 198.4,240.7 198.9,240.6 199.4,240.4 199.9,240.3 200.4,240.2 200.9,240 201.4,239.9 201.9,239.7 202.4,239.6 202.9,239.4 203.4,239.2 203.9,239.1 204.4,238.9 204.9,238.7 205.4,238.6 205.9,238.4 206.4,238.2 206.9,238 207.4,237.8 207.9,237.7 208.4,237.5 208.9,237.3 209.4,237.1 209.9,236.9 210.4,236.6 210.9,236.4 211.4,236.1 211.9,235.8 212.4,235.6 212.9,235.3 213.4,235.1 213.9,234.9 214.4,234.7 214.9,234.5 215.4,234.4 215.9,234.3 216.4,234.3 216.9,234.4 217.4,234.6 217.9,234.8 218.4,235.1 218.9,235.4 219.4,235.7 219.9,236 220.4,236.4 220.9,236.8 221.4,237.2 221.9,237.7 222.4,238.1 222.9,238.5 223.4,238.9 223.9,239.3 224.4,239.6 224.9,239.8 225.4,240 225.9,240 226.4,240 226.9,240 227.4,239.9 227.9,239.9 228.4,239.9 228.9,239.8 229.4,239.7 229.9,239.7 230.4,239.6 230.9,239.5 231.4,239.5 231.9,239.4 232.4,239.3 232.9,239.2 233.4,239.1 233.9,239.1 234.4,239 234.9,238.9 235.4,238.8 235.9,238.7 236.4,238.6 236.9,238.4 237.4,238.3 237.9,238.2 238.4,238 238.9,237.9 239.4,237.8 239.9,237.7 240.4,237.6 240.9,237.5 241.4,237.4 241.9,237.3 242.4,237.3 242.9,237.3 243.4,237.3 243.9,237.3 244.4,237.3 244.9,237.3 245.4,237.4 245.9,237.4 246.4,237.4 246.9,237.4 247.4,237.5 247.9,237.5 248.4,237.6 248.9,237.6 249.4,237.6 249.9,237.7 250.4,237.7 250.9,237.8 251.4,237.9 251.9,238 252.4,238.1 252.9,238.3 253.4,238.4 253.9,238.6 254.4,238.8 254.9,239 255.4,239.1 255.9,239.3 256.4,239.5 256.9,239.7 257.4,239.9 257.9,240.1 258.4,240.3 258.9,240.5 259.4,240.7 259.9,240.9 260.4,241.1 260.9,241.4 261.4,241.6 261.9,241.9 262.4,242.1 262.9,242.4 263.4,242.6 263.9,242.9 264.4,243.2 264.9,243.4 265.4,243.7 265.9,244 266.4,244.3 266.9,244.5 267.4,244.8 267.9,245.1 268.4,245.4 268.9,245.6 269.4,245.9 269.9,246.1 270.4,246.4 270.9,246.7 271.4,246.9 271.9,247.2 272.4,247.4 272.9,247.7 273.4,247.9 273.9,248.2 274.4,248.4 274.9,248.7 275.4,248.9 275.9,249.2 276.4,249.4 276.9,249.7 277.4,249.9 277.9,250.2 278.4,250.4 278.9,250.7 279.4,250.9 279.9,251.2 280.4,251.4 280.9,251.7 281.4,251.9 281.9,252.2 282.4,252.4 282.9,252.7 283.4,252.9 283.9,253.2 284.4,253.4 284.9,253.7 285.4,253.9 285.9,254.2 286.4,254.4 286.9,254.7 287.4,254.9 287.9,255.2 288.4,255.4 288.9,255.7 289.4,255.9 289.9,256.2 290.4,256.4 290.9,256.7 291.4,257 291.9,257.2 292.4,257.5 292.9,257.7 293.4,258 293.9,258.3 294.4,258.5 294.9,258.8 295.4,259 295.9,259.3 296.4,259.6 296.9,259.8 297.4,260.1 297.9,260.3 298.4,260.6 298.9,260.8 299.4,261.1 299.9,261.3 300.4,261.6 300.9,261.8 301.4,262 301.9,262.3 302.4,262.5 302.9,262.7 303.4,262.9 303.9,263.1 304.4,263.3 304.9,263.5 305.4,263.8 305.9,264 306.4,264.2 306.9,264.4 307.4,264.6 307.9,264.8 308.4,265 308.9,265.2 309.4,265.4 309.9,265.6 310.4,265.8 310.9,265.9 311.4,266.1 311.9,266.3 312.4,266.5 312.9,266.7 313.4,266.9 313.9,267 314.4,267.2 314.9,267.4 315.4,267.6 315.9,267.7 316.4,267.9 316.9,268.1 317.4,268.2 317.9,268.4 318.4,268.5 318.9,268.7 319.4,268.8 319.9,268.9 320.4,269.1 320.9,269.2 321.4,269.3 321.9,269.4 322.4,269.6 322.9,269.7 323.4,269.8 323.9,269.9 324.4,270 324.9,270.2 325.4,270.3 325.9,270.4 326.4,270.5 326.9,270.6 327.4,270.7 327.9,270.8 328.4,270.9 328.9,271 329.4,271.1 329.9,271.2 330.4,271.3 330.9,271.4 331.4,271.5 331.9,271.6 332.4,271.7 332.9,271.8 333.4,271.8 333.9,271.9 334.4,272 334.9,272.1 335.4,272.1 335.9,272.2 336.4,272.3 336.9,272.3 337.4,272.4 337.9,272.5 338.4,272.5 338.9,272.6 339.4,272.6 339.9,272.7 340.4,272.7 340.9,272.8 341.4,272.8 341.9,272.9 342.4,272.9 342.9,272.9 343.4,273 343.9,273 344.4,273.1 344.9,273.1 345.4,273.1 345.9,273.2 346.4,273.2 346.9,273.2 347.4,273.3 347.9,273.3 348.4,273.3 348.9,273.4 349.4,273.4 349.9,273.4 350.4,273.5 350.9,273.5 351.4,273.5 351.9,273.6 352.4,273.6 352.9,273.6 353.4,273.7 353.9,273.7 354.4,273.7 354.9,273.7 355.4,273.8 355.9,273.8 356.4,273.8 356.9,273.9 357.4,273.9 357.9,273.9 358.4,274 358.9,274 359.4,274 359.9,274.1 360.4,274.1 360.9,274.2 361.4,274.2 361.9,274.2 362.4,274.3 362.9,274.3 363.4,274.4 363.9,274.4 364.4,274.5 364.9,274.5 365.4,274.6 365.9,274.6 366.4,274.7 366.9,274.8 367.4,274.8 367.9,274.9 368.4,274.9 368.9,275 369.4,275.1 369.9,275.1 370.4,275.2 370.9,275.3 371.4,275.3 371.9,275.4 372.4,275.5 372.9,275.5 373.4,275.6 373.9,275.7 374.4,275.8 374.9,275.8 375.4,275.9 375.9,276 376.4,276 376.9,276.1 377.4,276.2 377.9,276.2 378.4,276.3 378.9,276.4 379.4,276.4 379.9,276.5 380.4,276.6 380.9,276.6 381.4,276.7 381.9,276.8 382.4,276.8 382.9,276.9 383.4,276.9 383.9,277 384.4,277.1 384.9,277.1 385.4,277.2 385.9,277.2 386.4,277.3 386.9,277.3 387.4,277.4 387.9,277.4 388.4,277.5 388.9,277.5 389.4,277.6 389.9,277.6 390.4,277.7 390.9,277.7 391.4,277.8 391.9,277.8 392.4,277.8 392.9,277.9 393.4,277.9 393.9,278 394.4,278 394.9,278.1 395.4,278.1 395.9,278.2 396.4,278.2 396.9,278.2 397.4,278.3 397.9,278.3 398.4,278.4 398.9,278.4 399.4,278.5 399.9,278.5 400.4,278.5 400.9,278.6 401.4,278.6 401.9,278.7 402.4,278.7 402.9,278.8 403.4,278.8 403.9,278.8 404.4,278.9 404.9,278.9 405.4,279 405.9,279 406.4,279 406.9,279.1 407.4,279.1 407.9,279.2 408.4,279.2 408.9,279.2 409.4,279.3 409.9,279.3 410.4,279.4 410.9,279.4 411.4,279.4 411.9,279.5 412.4,279.5 412.9,279.6 413.4,279.6 413.9,279.7 414.4,279.7 414.9,279.7 415.4,279.8 415.9,279.8 416.4,279.9 416.9,279.9 417.4,279.9 417.9,280 418.4,280 418.9,280.1 419.4,280.1 419.9,280.1 420.4,280.2 420.9,280.2 421.4,280.3 421.9,280.3 422.4,280.3 422.9,280.4 423.4,280.4 423.9,280.5 424.4,280.5 424.9,280.5 425.4,280.6 425.9,280.6 426.4,280.7 426.9,280.7 427.4,280.7 427.9,280.8 428.4,280.8 428.9,280.9 429.4,280.9 429.9,280.9 430.4,281 430.9,281 431.4,281.1 431.9,281.1 432.4,281.1 432.9,281.2 433.4,281.2 433.9,281.3 434.4,281.3 434.9,281.3 435.4,281.4 435.9,281.4 436.4,281.5 436.9,281.5 437.4,281.5 437.9,281.6 438.4,281.6 438.9,281.6 439.4,281.7 439.9,281.7 440.4,281.8 440.9,281.8 441,281.8" fill="none" stroke="#e426dc" stroke-width="3.2" stroke-linejoin="round" stroke-linecap="round" />
</g>
<path d="M105.5 295.3V288.7M153.4 295.3V288.7M201.4 295.3V288.7M249.4 295.3V288.7M297.4 295.3V288.7M345.4 295.3V288.7M393.3 295.3V288.7" stroke="#000" stroke-width="2.4" fill="none"/>
<path d="M81.5 295.3V291.6M129.5 295.3V291.6M177.4 295.3V291.6M225.4 295.3V291.6M273.4 295.3V291.6M321.4 295.3V291.6M369.3 295.3V291.6M417.3 295.3V291.6" stroke="#000" stroke-width="2.4" fill="none"/>
<text x="57.5" y="316.4" font-size="17.2" text-anchor="middle" >300</text>
<text x="105.5" y="316.4" font-size="17.2" text-anchor="middle" >350</text>
<text x="153.4" y="316.4" font-size="17.2" text-anchor="middle" >400</text>
<text x="201.4" y="316.4" font-size="17.2" text-anchor="middle" >450</text>
<text x="249.4" y="316.4" font-size="17.2" text-anchor="middle" >500</text>
<text x="297.4" y="316.4" font-size="17.2" text-anchor="middle" >550</text>
<text x="345.4" y="316.4" font-size="17.2" text-anchor="middle" >600</text>
<text x="393.3" y="316.4" font-size="17.2" text-anchor="middle" >650</text>
<text x="441.3" y="316.4" font-size="17.2" text-anchor="middle" >700</text>
<text x="249.4" y="347.4" font-size="18.5" text-anchor="middle" >Wavelength / nm</text>
<text transform="translate(28 167) rotate(-90)" font-size="18.5" text-anchor="middle">Relative intendity ( a.u.)</text>
<text x="61" y="47" font-size="32" text-anchor="start" >(a)</text>
<line x1="288" y1="27.4" x2="321.2" y2="27.4" stroke="#000000" stroke-width="2.7" stroke-linecap="round"/>
<text x="326.2" y="33.2" font-size="16.2" text-anchor="start" class="lg">Zn<tspan font-size="10.4" dy="5.3">0.5</tspan><tspan dy="-5.3">Cd</tspan><tspan font-size="10.4" dy="5.3">0.5</tspan><tspan dy="-5.3">S</tspan></text>
<line x1="288" y1="52.7" x2="321.2" y2="52.7" stroke="#d81c1c" stroke-width="2.7" stroke-linecap="round"/>
<text x="326.2" y="58.5" font-size="16.2" text-anchor="start" class="lg">Pt/Zn<tspan font-size="10.4" dy="5.3">0.5</tspan><tspan dy="-5.3">Cd</tspan><tspan font-size="10.4" dy="5.3">0.5</tspan><tspan dy="-5.3">S</tspan></text>
<line x1="288" y1="78" x2="321.2" y2="78" stroke="#1010d0" stroke-width="2.7" stroke-linecap="round"/>
<text x="326.2" y="83.8" font-size="16.2" text-anchor="start" class="lg">PtPd/Zn<tspan font-size="10.4" dy="5.3">0.5</tspan><tspan dy="-5.3">Cd</tspan><tspan font-size="10.4" dy="5.3">0.5</tspan><tspan dy="-5.3">S</tspan></text>
<line x1="288" y1="103.3" x2="321.2" y2="103.3" stroke="#e426dc" stroke-width="2.7" stroke-linecap="round"/>
<text x="326.2" y="109.1" font-size="16.2" text-anchor="start" class="lg">Pd/Zn<tspan font-size="10.4" dy="5.3">0.5</tspan><tspan dy="-5.3">Cd</tspan><tspan font-size="10.4" dy="5.3">0.5</tspan><tspan dy="-5.3">S</tspan></text>
</g>
<g id="panel-b">
<rect x="542.8" y="13" width="385.2" height="282.5" fill="none" stroke="#000" stroke-width="3"/>
<clipPath id="clipB"><rect x="541.3" y="13" width="388.2" height="282.5"/></clipPath>
<g clip-path="url(#clipB)">
<polyline points="542.8,214.7 543,214.7 543.3,214.7 543.5,214.7 543.8,214.7 544,214.7 544.2,214.7 544.5,214.6 544.7,214.6 545,214.6 545.2,214.6 545.4,214.6 545.7,214.6 545.9,214.5 546.2,214.5 546.4,214.5 546.7,214.5 546.9,214.5 547.1,214.5 547.4,214.4 547.6,214.4 547.9,214.4 548.1,214.4 548.3,214.4 548.6,214.4 548.8,214.3 549.1,214.3 549.3,214.3 549.5,214.3 549.8,214.3 550,214.3 550.3,214.3 550.5,214.2 550.7,214.2 551,214.2 551.2,214.2 551.5,214.2 551.7,214.2 551.9,214.1 552.2,214.1 552.4,214.1 552.7,214.1 552.9,214.1 553.2,214.1 553.4,214 553.6,214 553.9,214 554.1,214 554.4,214 554.6,214 554.8,213.9 555.1,213.9 555.3,213.9 555.6,213.9 555.8,213.9 556,213.9 556.3,213.9 556.5,213.8 556.8,213.8 557,213.8 557.2,213.8 557.5,213.8 557.7,213.8 558,213.7 558.2,213.7 558.4,213.7 558.7,213.7 558.9,213.7 559.2,213.7 559.4,213.6 559.7,213.6 559.9,213.6 560.1,213.6 560.4,213.6 560.6,213.6 560.9,213.5 561.1,213.5 561.3,213.5 561.6,213.5 561.8,213.5 562.1,213.5 562.3,213.5 562.5,213.4 562.8,213.4 563,213.4 563.3,213.4 563.5,213.4 563.7,213.4 564,213.3 564.2,213.3 564.5,213.3 564.7,213.3 564.9,213.3 565.2,213.3 565.4,213.2 565.7,213.2 565.9,213.2 566.2,213.2 566.4,213.2 566.6,213.2 566.9,213.1 567.1,213.1 567.4,213.1 567.6,213.1 567.8,213.1 568.1,213.1 568.3,213.1 568.6,213 568.8,213 569,213 569.3,213 569.5,213 569.8,213 570,212.9 570.2,212.9 570.5,212.9 570.7,212.9 571,212.9 571.2,212.9 571.4,212.8 571.7,212.8 572,267.5 572.5,267.5 572.9,267.5 573.4,267.5 573.9,267.5 574.4,267.5 574.9,267.5 575.3,267.5 575.8,267.5 576.3,267.5 576.8,267.5 577.3,267.5 577.8,267.5 578.2,267.5 578.7,267.5 579.2,267.5 579.7,267.5 580.2,267.5 580.6,267.5 581.1,267.5 581.6,267.5 582.1,267.5 582.6,267.5 583.1,267.5 583.5,267.5 584,267.5 584.5,267.5 585,267.5 585.5,267.5 585.9,267.5 586.4,267.5 586.9,267.5 587.4,267.5 587.9,267.5 588.3,267.5 588.8,267.5 589.3,267.5 589.8,267.5 590.3,267.5 590.8,267.5 591.2,267.5 591.7,267.5 592.2,267.5 592.7,267.5 593.2,267.5 593.6,267.5 594.1,267.5 594.6,267.5 595.1,267.5 595.6,267.5 596.1,267.5 596.5,267.5 597,267.5 597.5,267.5 598,267.5 598.5,267.5 598.9,267.5 599.4,267.5 599.9,267.5 600.4,267.5 600.5,257.6 600.6,240.6 600.7,230.2 600.8,223.9 601,220 601.1,217.6 601.2,216.2 601.3,215.2 601.4,214.7 601.6,214.3 601.7,214 601.8,213.9 601.9,213.7 602,213.6 602.2,213.5 602.3,213.5 602.4,213.4 602.5,213.4 602.7,213.3 602.8,213.2 602.9,213.2 603,213.1 603.1,213.1 603.3,213 603.4,213 603.6,212.9 603.9,212.8 604.1,212.7 604.3,212.7 604.6,212.6 604.8,212.5 605.1,212.4 605.3,212.4 605.5,212.3 605.8,212.2 606,212.2 606.3,212.1 606.5,212.1 606.7,212 607,212 607.2,211.9 607.5,211.9 607.7,211.8 607.9,211.8 608.2,211.7 608.4,211.7 608.7,211.7 608.9,211.6 609.2,211.6 609.4,211.5 609.6,211.5 609.9,211.5 610.1,211.4 610.4,211.4 610.6,211.4 610.8,211.3 611.1,211.3 611.3,211.3 611.6,211.3 611.8,211.2 612,211.2 612.3,211.2 612.5,211.2 612.8,211.1 613,211.1 613.2,211.1 613.5,211.1 613.7,211.1 614,211 614.2,211 614.4,211 614.7,211 614.9,211 615.2,210.9 615.4,210.9 615.7,210.9 615.9,210.9 616.1,210.9 616.4,210.9 616.6,210.9 616.9,210.8 617.1,210.8 617.3,210.8 617.6,210.8 617.8,210.8 618.1,210.8 618.3,210.8 618.5,210.8 618.8,210.7 619,210.7 619.3,210.7 619.5,210.7 619.7,210.7 620,210.7 620.2,210.7 620.5,210.7 620.7,210.7 620.9,210.6 621.2,210.6 621.4,210.6 621.7,210.6 621.9,210.6 622.2,210.6 622.4,210.6 622.6,210.6 622.9,210.6 623.1,210.6 623.4,210.6 623.6,210.5 623.8,210.5 624.1,210.5 624.3,210.5 624.6,210.5 624.8,210.5 625,210.5 625.3,210.5 625.5,210.5 625.8,210.5 626,210.5 626.2,210.5 626.5,210.5 626.7,210.4 627,210.4 627.2,210.4 627.4,210.4 627.7,210.4 627.9,210.4 628.2,210.4 628.4,210.4 628.7,210.4 628.9,210.4 629.8,267.5 630.2,267.5 630.7,267.5 631.2,267.5 631.7,267.5 632.2,267.5 632.6,267.5 633.1,267.5 633.6,267.5 634.1,267.5 634.6,267.5 635.1,267.5 635.5,267.5 636,267.5 636.5,267.5 637,267.5 637.5,267.5 637.9,267.5 638.4,267.5 638.9,267.5 639.4,267.5 639.9,267.5 640.4,267.5 640.8,267.5 641.3,267.5 641.8,267.5 642.3,267.5 642.8,267.5 643.2,267.5 643.7,267.5 644.2,267.5 644.7,267.5 645.2,267.5 645.6,267.5 646.1,267.5 646.6,267.5 647.1,267.5 647.6,267.5 648.1,267.5 648.5,267.5 649,267.5 649.5,267.5 650,267.5 650.5,267.5 650.9,267.5 651.4,267.5 651.9,267.5 652.4,267.5 652.9,267.5 653.4,267.5 653.8,267.5 654.3,267.5 654.8,267.5 655.3,267.5 655.8,267.5 656.2,267.5 656.7,267.5 657.2,267.5 657.7,267.5 658.2,267.5 658.3,257.5 658.4,240.2 658.5,229.7 658.6,223.3 658.7,219.3 658.9,216.9 659,215.4 659.1,214.5 659.2,213.9 659.3,213.5 659.5,213.3 659.6,213.1 659.7,212.9 659.8,212.8 659.9,212.8 660.1,212.7 660.2,212.6 660.3,212.5 660.4,212.5 660.6,212.4 660.7,212.4 660.8,212.3 660.9,212.3 661,212.2 661.2,212.2 661.4,212.1 661.6,212 661.9,211.9 662.1,211.8 662.4,211.7 662.6,211.6 662.8,211.6 663.1,211.5 663.3,211.4 663.6,211.4 663.8,211.3 664,211.2 664.3,211.2 664.5,211.1 664.8,211 665,211 665.2,210.9 665.5,210.9 665.7,210.8 666,210.8 666.2,210.7 666.4,210.7 666.7,210.6 666.9,210.6 667.2,210.6 667.4,210.5 667.7,210.5 667.9,210.4 668.1,210.4 668.4,210.4 668.6,210.3 668.9,210.3 669.1,210.3 669.3,210.2 669.6,210.2 669.8,210.2 670.1,210.1 670.3,210.1 670.5,210.1 670.8,210 671,210 671.3,210 671.5,210 671.7,209.9 672,209.9 672.2,209.9 672.5,209.9 672.7,209.8 672.9,209.8 673.2,209.8 673.4,209.8 673.7,209.8 673.9,209.7 674.2,209.7 674.4,209.7 674.6,209.7 674.9,209.7 675.1,209.6 675.4,209.6 675.6,209.6 675.8,209.6 676.1,209.6 676.3,209.5 676.6,209.5 676.8,209.5 677,209.5 677.3,209.5 677.5,209.5 677.8,209.4 678,209.4 678.2,209.4 678.5,209.4 678.7,209.4 679,209.4 679.2,209.3 679.4,209.3 679.7,209.3 679.9,209.3 680.2,209.3 680.4,209.3 680.7,209.3 680.9,209.2 681.1,209.2 681.4,209.2 681.6,209.2 681.9,209.2 682.1,209.2 682.3,209.2 682.6,209.1 682.8,209.1 683.1,209.1 683.3,209.1 683.5,209.1 683.8,209.1 684,209.1 684.3,209.1 684.5,209 684.7,209 685,209 685.2,209 685.5,209 685.7,209 685.9,209 686.2,209 686.4,208.9 686.7,208.9 687.5,267.5 688,267.5 688.5,267.5 689,267.5 689.5,267.5 689.9,267.5 690.4,267.5 690.9,267.5 691.4,267.5 691.9,267.5 692.4,267.5 692.8,267.5 693.3,267.5 693.8,267.5 694.3,267.5 694.8,267.5 695.2,267.5 695.7,267.5 696.2,267.5 696.7,267.5 697.2,267.5 697.7,267.5 698.1,267.5 698.6,267.5 699.1,267.5 699.6,267.5 700.1,267.5 700.5,267.5 701,267.5 701.5,267.5 702,267.5 702.5,267.5 702.9,267.5 703.4,267.5 703.9,267.5 704.4,267.5 704.9,267.5 705.4,267.5 705.8,267.5 706.3,267.5 706.8,267.5 707.3,267.5 707.8,267.5 708.2,267.5 708.7,267.5 709.2,267.5 709.7,267.5 710.2,267.5 710.7,267.5 711.1,267.5 711.6,267.5 712.1,267.5 712.6,267.5 713.1,267.5 713.5,267.5 714,267.5 714.5,267.5 715,267.5 715.5,267.5 715.9,267.5 716,257.3 716.2,239.7 716.3,228.9 716.4,222.4 716.5,218.4 716.6,215.9 716.8,214.4 716.9,213.4 717,212.8 717.1,212.4 717.2,212.2 717.4,212 717.5,211.9 717.6,211.7 717.7,211.7 717.8,211.6 718,211.5 718.1,211.4 718.2,211.4 718.3,211.3 718.5,211.3 718.6,211.2 718.7,211.2 718.8,211.1 718.9,211.1 719.2,211 719.4,210.9 719.7,210.8 719.9,210.7 720.1,210.6 720.4,210.5 720.6,210.4 720.9,210.3 721.1,210.3 721.3,210.2 721.6,210.1 721.8,210.1 722.1,210 722.3,209.9 722.5,209.9 722.8,209.8 723,209.7 723.3,209.7 723.5,209.6 723.7,209.6 724,209.5 724.2,209.5 724.5,209.4 724.7,209.4 725,209.3 725.2,209.3 725.4,209.2 725.7,209.2 725.9,209.2 726.2,209.1 726.4,209.1 726.6,209 726.9,209 727.1,209 727.4,208.9 727.6,208.9 727.8,208.9 728.1,208.8 728.3,208.8 728.6,208.8 728.8,208.7 729,208.7 729.3,208.7 729.5,208.7 729.8,208.6 730,208.6 730.2,208.6 730.5,208.5 730.7,208.5 731,208.5 731.2,208.5 731.5,208.4 731.7,208.4 731.9,208.4 732.2,208.4 732.4,208.4 732.7,208.3 732.9,208.3 733.1,208.3 733.4,208.3 733.6,208.2 733.9,208.2 734.1,208.2 734.3,208.2 734.6,208.2 734.8,208.1 735.1,208.1 735.3,208.1 735.5,208.1 735.8,208.1 736,208 736.3,208 736.5,208 736.7,208 737,208 737.2,208 737.5,207.9 737.7,207.9 738,207.9 738.2,207.9 738.4,207.9 738.7,207.9 738.9,207.8 739.2,207.8 739.4,207.8 739.6,207.8 739.9,207.8 740.1,207.8 740.4,207.7 740.6,207.7 740.8,207.7 741.1,207.7 741.3,207.7 741.6,207.7 741.8,207.6 742,207.6 742.3,207.6 742.5,207.6 742.8,207.6 743,207.6 743.2,207.5 743.5,207.5 743.7,207.5 744,207.5 744.2,207.5 744.5,207.5 745.3,267.5 745.8,267.5 746.3,267.5 746.8,267.5 747.2,267.5 747.7,267.5 748.2,267.5 748.7,267.5 749.2,267.5 749.7,267.5 750.1,267.5 750.6,267.5 751.1,267.5 751.6,267.5 752.1,267.5 752.5,267.5 753,267.5 753.5,267.5 754,267.5 754.5,267.5 754.9,267.5 755.4,267.5 755.9,267.5 756.4,267.5 756.9,267.5 757.4,267.5 757.8,267.5 758.3,267.5 758.8,267.5 759.3,267.5 759.8,267.5 760.2,267.5 760.7,267.5 761.2,267.5 761.7,267.5 762.2,267.5 762.7,267.5 763.1,267.5 763.6,267.5 764.1,267.5 764.6,267.5 765.1,267.5 765.5,267.5 766,267.5 766.5,267.5 767,267.5 767.5,267.5 767.9,267.5 768.4,267.5 768.9,267.5 769.4,267.5 769.9,267.5 770.4,267.5 770.8,267.5 771.3,267.5 771.8,267.5 772.3,267.5 772.8,267.5 773.2,267.5 773.7,267.5 773.8,256.9 773.9,238.6 774.1,227.4 774.2,220.6 774.3,216.5 774.4,213.9 774.5,212.3 774.7,211.3 774.8,210.7 774.9,210.3 775,210 775.1,209.8 775.3,209.7 775.4,209.6 775.5,209.5 775.6,209.4 775.7,209.3 775.9,209.2 776,209.2 776.1,209.1 776.2,209 776.4,209 776.5,208.9 776.6,208.9 776.7,208.8 777,208.7 777.2,208.6 777.4,208.5 777.7,208.4 777.9,208.3 778.2,208.2 778.4,208.1 778.6,208 778.9,207.9 779.1,207.9 779.4,207.8 779.6,207.7 779.8,207.6 780.1,207.6 780.3,207.5 780.6,207.4 780.8,207.4 781,207.3 781.3,207.2 781.5,207.2 781.8,207.1 782,207.1 782.2,207 782.5,206.9 782.7,206.9 783,206.8 783.2,206.8 783.5,206.7 783.7,206.7 783.9,206.7 784.2,206.6 784.4,206.6 784.7,206.5 784.9,206.5 785.1,206.4 785.4,206.4 785.6,206.4 785.9,206.3 786.1,206.3 786.3,206.2 786.6,206.2 786.8,206.2 787.1,206.1 787.3,206.1 787.5,206.1 787.8,206 788,206 788.3,206 788.5,205.9 788.8,205.9 789,205.9 789.2,205.8 789.5,205.8 789.7,205.8 790,205.8 790.2,205.7 790.4,205.7 790.7,205.7 790.9,205.6 791.2,205.6 791.4,205.6 791.6,205.6 791.9,205.5 792.1,205.5 792.4,205.5 792.6,205.5 792.8,205.4 793.1,205.4 793.3,205.4 793.6,205.4 793.8,205.3 794,205.3 794.3,205.3 794.5,205.3 794.8,205.2 795,205.2 795.3,205.2 795.5,205.2 795.7,205.1 796,205.1 796.2,205.1 796.5,205.1 796.7,205 796.9,205 797.2,205 797.4,205 797.7,205 797.9,204.9 798.1,204.9 798.4,204.9 798.6,204.9 798.9,204.8 799.1,204.8 799.3,204.8 799.6,204.8 799.8,204.8 800.1,204.7 800.3,204.7 800.5,204.7 800.8,204.7 801,204.7 801.3,204.6 801.5,204.6 801.8,204.6 802,204.6 802.2,204.5 803.1,267.5 803.6,267.5 804.1,267.5 804.5,267.5 805,267.5 805.5,267.5 806,267.5 806.5,267.5 807,267.5 807.4,267.5 807.9,267.5 808.4,267.5 808.9,267.5 809.4,267.5 809.8,267.5 810.3,267.5 810.8,267.5 811.3,267.5 811.8,267.5 812.2,267.5 812.7,267.5 813.2,267.5 813.7,267.5 814.2,267.5 814.7,267.5 815.1,267.5 815.6,267.5 816.1,267.5 816.6,267.5 817.1,267.5 817.5,267.5 818,267.5 818.5,267.5 819,267.5 819.5,267.5 820,267.5 820.4,267.5 820.9,267.5 821.4,267.5 821.9,267.5 822.4,267.5 822.8,267.5 823.3,267.5 823.8,267.5 824.3,267.5 824.8,267.5 825.2,267.5 825.7,267.5 826.2,267.5 826.7,267.5 827.2,267.5 827.7,267.5 828.1,267.5 828.6,267.5 829.1,267.5 829.6,267.5 830.1,267.5 830.5,267.5 831,267.5 831.5,267.5 831.6,256.3 831.7,236.9 831.8,225.1 832,217.9 832.1,213.5 832.2,210.9 832.3,209.2 832.4,208.2 832.6,207.5 832.7,207.1 832.8,206.9 832.9,206.7 833,206.6 833.2,206.5 833.3,206.4 833.4,206.3 833.5,206.2 833.7,206.2 833.8,206.1 833.9,206.1 834,206.1 834.1,206 834.3,206 834.4,205.9 834.5,205.9 834.7,205.8 835,205.7 835.2,205.6 835.5,205.6 835.7,205.5 835.9,205.4 836.2,205.4 836.4,205.3 836.7,205.2 836.9,205.2 837.1,205.1 837.4,205 837.6,205 837.9,204.9 838.1,204.9 838.3,204.8 838.6,204.8 838.8,204.7 839.1,204.7 839.3,204.6 839.5,204.6 839.8,204.5 840,204.5 840.3,204.4 840.5,204.4 840.8,204.4 841,204.3 841.2,204.3 841.5,204.2 841.7,204.2 842,204.2 842.2,204.1 842.4,204.1 842.7,204.1 842.9,204 843.2,204 843.4,204 843.6,203.9 843.9,203.9 844.1,203.9 844.4,203.8 844.6,203.8 844.8,203.8 845.1,203.7 845.3,203.7 845.6,203.7 845.8,203.6 846,203.6 846.3,203.6 846.5,203.6 846.8,203.5 847,203.5 847.3,203.5 847.5,203.5 847.7,203.4 848,203.4 848.2,203.4 848.5,203.3 848.7,203.3 848.9,203.3 849.2,203.3 849.4,203.2 849.7,203.2 849.9,203.2 850.1,203.2 850.4,203.2 850.6,203.1 850.9,203.1 851.1,203.1 851.3,203.1 851.6,203 851.8,203 852.1,203 852.3,203 852.5,202.9 852.8,202.9 853,202.9 853.3,202.9 853.5,202.9 853.8,202.8 854,202.8 854.2,202.8 854.5,202.8 854.7,202.7 855,202.7 855.2,202.7 855.4,202.7 855.7,202.7 855.9,202.6 856.2,202.6 856.4,202.6 856.6,202.6 856.9,202.6 857.1,202.5 857.4,202.5 857.6,202.5 857.8,202.5 858.1,202.5 858.3,202.4 858.6,202.4 858.8,202.4 859,202.4 859.3,202.3 859.5,202.3 859.8,202.3 860,202.3 860.9,267.5 861.4,267.5 861.8,267.5 862.3,267.5 862.8,267.5 863.3,267.5 863.8,267.5 864.2,267.5 864.7,267.5 865.2,267.5 865.7,267.5 866.2,267.5 866.7,267.5 867.1,267.5 867.6,267.5 868.1,267.5 868.6,267.5 869.1,267.5 869.5,267.5 870,267.5 870.5,267.5 871,267.5 871.5,267.5 872,267.5 872.4,267.5 872.9,267.5 873.4,267.5 873.9,267.5 874.4,267.5 874.8,267.5 875.3,267.5 875.8,267.5 876.3,267.5 876.8,267.5 877.2,267.5 877.7,267.5 878.2,267.5 878.7,267.5 879.2,267.5 879.7,267.5 880.1,267.5 880.6,267.5 881.1,267.5 881.6,267.5 882.1,267.5 882.5,267.5 883,267.5 883.5,267.5 884,267.5 884.5,267.5 885,267.5 885.4,267.5 885.9,267.5 886.4,267.5 886.9,267.5 887.4,267.5 887.8,267.5 888.3,267.5 888.8,267.5 889.3,267.5 889.4,255.7 889.5,235.3 889.6,222.8 889.7,215.3 889.9,210.6 890,207.8 890.1,206.1 890.2,205 890.3,204.3 890.5,203.9 890.6,203.6 890.7,203.4 890.8,203.3 890.9,203.2 891.1,203.1 891.2,203 891.3,202.9 891.4,202.9 891.6,202.8 891.7,202.8 891.8,202.7 891.9,202.7 892,202.6 892.2,202.6 892.3,202.5 892.5,202.5 892.8,202.4 893,202.3 893.2,202.2 893.5,202.1 893.7,202.1 894,202 894.2,201.9 894.4,201.8 894.7,201.8 894.9,201.7 895.2,201.6 895.4,201.6 895.6,201.5 895.9,201.5 896.1,201.4 896.4,201.3 896.6,201.3 896.8,201.2 897.1,201.2 897.3,201.1 897.6,201.1 897.8,201 898.1,201 898.3,200.9 898.5,200.9 898.8,200.9 899,200.8 899.3,200.8 899.5,200.7 899.7,200.7 900,200.6 900.2,200.6 900.5,200.6 900.7,200.5 900.9,200.5 901.2,200.4 901.4,200.4 901.7,200.4 901.9,200.3 902.1,200.3 902.4,200.3 902.6,200.2 902.9,200.2 903.1,200.2 903.3,200.1 903.6,200.1 903.8,200.1 904.1,200 904.3,200 904.6,200 904.8,200 905,199.9 905.3,199.9 905.5,199.9 905.8,199.8 906,199.8 906.2,199.8 906.5,199.7 906.7,199.7 907,199.7 907.2,199.7 907.4,199.6 907.7,199.6 907.9,199.6 908.2,199.6 908.4,199.5 908.6,199.5 908.9,199.5 909.1,199.4 909.4,199.4 909.6,199.4 909.8,199.4 910.1,199.3 910.3,199.3 910.6,199.3 910.8,199.3 911.1,199.2 911.3,199.2 911.5,199.2 911.8,199.2 912,199.1 912.3,199.1 912.5,199.1 912.7,199.1 913,199 913.2,199 913.5,199 913.7,199 913.9,198.9 914.2,198.9 914.4,198.9 914.7,198.9 914.9,198.9 915.1,198.8 915.4,198.8 915.6,198.8 915.9,198.8 916.1,198.7 916.3,198.7 916.6,198.7 916.8,198.7 917.1,198.6 917.3,198.6 917.6,198.6 917.8,198.6 918,198.5 918.3,198.5 918.5,198.5 918.8,198.5 919,198.5 919.2,198.4 919.5,198.4 919.7,198.4 920,198.4 920.2,198.3 920.4,198.3 920.7,198.3 920.9,198.3 921.2,198.2 921.4,198.2 921.6,198.2 921.9,198.2 922.1,198.2 922.4,198.1 922.6,198.1 922.8,198.1 923.1,198.1 923.3,198 923.6,198 923.8,198 924.1,198 924.3,197.9 924.5,197.9 924.8,197.9 925,197.9 925.3,197.9 925.5,197.8 925.7,197.8 926,197.8 926.2,197.8 926.5,197.7 926.7,197.7 926.9,197.7 927.2,197.7 927.4,197.7" fill="none" stroke="#000000" stroke-width="3.1" stroke-linejoin="round" stroke-linecap="round" />
<polyline points="542.8,156.1 543,155.8 543.3,155.5 543.5,155.2 543.8,155 544,154.7 544.2,154.5 544.5,154.2 544.7,154 545,153.8 545.2,153.6 545.4,153.4 545.7,153.2 545.9,153 546.2,152.9 546.4,152.7 546.7,152.5 546.9,152.4 547.1,152.2 547.4,152.1 547.6,151.9 547.9,151.8 548.1,151.7 548.3,151.6 548.6,151.5 548.8,151.3 549.1,151.2 549.3,151.1 549.5,151 549.8,151 550,150.9 550.3,150.8 550.5,150.7 550.7,150.6 551,150.5 551.2,150.5 551.5,150.4 551.7,150.3 551.9,150.3 552.2,150.2 552.4,150.1 552.7,150.1 552.9,150 553.2,150 553.4,149.9 553.6,149.9 553.9,149.8 554.1,149.8 554.4,149.8 554.6,149.7 554.8,149.7 555.1,149.6 555.3,149.6 555.6,149.6 555.8,149.5 556,149.5 556.3,149.5 556.5,149.4 556.8,149.4 557,149.4 557.2,149.4 557.5,149.3 557.7,149.3 558,149.3 558.2,149.3 558.4,149.2 558.7,149.2 558.9,149.2 559.2,149.2 559.4,149.2 559.7,149.2 559.9,149.1 560.1,149.1 560.4,149.1 560.6,149.1 560.9,149.1 561.1,149.1 561.3,149.1 561.6,149 561.8,149 562.1,149 562.3,149 562.5,149 562.8,149 563,149 563.3,149 563.5,149 563.7,149 564,148.9 564.2,148.9 564.5,148.9 564.7,148.9 564.9,148.9 565.2,148.9 565.4,148.9 565.7,148.9 565.9,148.9 566.2,148.9 566.4,148.9 566.6,148.9 566.9,148.9 567.1,148.9 567.4,148.9 567.6,148.9 567.8,148.9 568.1,148.9 568.3,148.8 568.6,148.8 568.8,148.8 569,148.8 569.3,148.8 569.5,148.8 569.8,148.8 570,148.8 570.2,148.8 570.5,148.8 570.7,148.8 571,148.8 571.2,148.8 571.4,148.8 571.7,148.8 572,261.3 572.5,262.3 572.9,263 573.4,263.6 573.9,264 574.4,264.4 574.9,264.7 575.3,264.9 575.8,265.1 576.3,265.3 576.8,265.4 577.3,265.5 577.8,265.6 578.2,265.6 578.7,265.7 579.2,265.7 579.7,265.7 580.2,265.8 580.6,265.8 581.1,265.8 581.6,265.8 582.1,265.8 582.6,265.8 583.1,265.8 583.5,265.8 584,265.8 584.5,265.8 585,265.8 585.5,265.8 585.9,265.8 586.4,265.8 586.9,265.8 587.4,265.8 587.9,265.8 588.3,265.8 588.8,265.8 589.3,265.8 589.8,265.8 590.3,265.8 590.8,265.8 591.2,265.8 591.7,265.8 592.2,265.8 592.7,265.8 593.2,265.8 593.6,265.8 594.1,265.8 594.6,265.8 595.1,265.8 595.6,265.8 596.1,265.8 596.5,265.8 597,265.8 597.5,265.8 598,265.8 598.5,265.8 598.9,265.8 599.4,265.8 599.9,265.8 600.4,265.8 600.5,253 600.6,227.5 600.7,211.8 600.8,202.1 601,196 601.1,192.2 601.2,189.7 601.3,188 601.4,186.8 601.6,186 601.7,185.3 601.8,184.8 601.9,184.3 602,183.9 602.2,183.5 602.3,183.1 602.4,182.8 602.5,182.4 602.7,182.1 602.8,181.8 602.9,181.4 603,181.1 603.1,180.8 603.3,180.5 603.4,180.2 603.6,179.6 603.9,179 604.1,178.4 604.3,177.9 604.6,177.4 604.8,176.8 605.1,176.3 605.3,175.8 605.5,175.4 605.8,174.9 606,174.4 606.3,174 606.5,173.6 606.7,173.2 607,172.7 607.2,172.4 607.5,172 607.7,171.6 607.9,171.2 608.2,170.9 608.4,170.5 608.7,170.2 608.9,169.9 609.2,169.6 609.4,169.3 609.6,169 609.9,168.7 610.1,168.4 610.4,168.1 610.6,167.8 610.8,167.6 611.1,167.3 611.3,167.1 611.6,166.8 611.8,166.6 612,166.4 612.3,166.2 612.5,165.9 612.8,165.7 613,165.5 613.2,165.3 613.5,165.1 613.7,165 614,164.8 614.2,164.6 614.4,164.4 614.7,164.3 614.9,164.1 615.2,163.9 615.4,163.8 615.7,163.6 615.9,163.5 616.1,163.4 616.4,163.2 616.6,163.1 616.9,163 617.1,162.8 617.3,162.7 617.6,162.6 617.8,162.5 618.1,162.4 618.3,162.2 618.5,162.1 618.8,162 619,161.9 619.3,161.8 619.5,161.7 619.7,161.7 620,161.6 620.2,161.5 620.5,161.4 620.7,161.3 620.9,161.2 621.2,161.1 621.4,161.1 621.7,161 621.9,160.9 622.2,160.8 622.4,160.8 622.6,160.7 622.9,160.6 623.1,160.6 623.4,160.5 623.6,160.5 623.8,160.4 624.1,160.4 624.3,160.3 624.6,160.2 624.8,160.2 625,160.1 625.3,160.1 625.5,160 625.8,160 626,160 626.2,159.9 626.5,159.9 626.7,159.8 627,159.8 627.2,159.7 627.4,159.7 627.7,159.7 627.9,159.6 628.2,159.6 628.4,159.6 628.7,159.5 628.9,159.5 629.8,261.3 630.2,262.3 630.7,263 631.2,263.6 631.7,264 632.2,264.4 632.6,264.7 633.1,264.9 633.6,265.1 634.1,265.3 634.6,265.4 635.1,265.5 635.5,265.6 636,265.6 636.5,265.7 637,265.7 637.5,265.7 637.9,265.8 638.4,265.8 638.9,265.8 639.4,265.8 639.9,265.8 640.4,265.8 640.8,265.8 641.3,265.8 641.8,265.8 642.3,265.8 642.8,265.8 643.2,265.8 643.7,265.8 644.2,265.8 644.7,265.8 645.2,265.8 645.6,265.8 646.1,265.8 646.6,265.8 647.1,265.8 647.6,265.8 648.1,265.8 648.5,265.8 649,265.8 649.5,265.8 650,265.8 650.5,265.8 650.9,265.8 651.4,265.8 651.9,265.8 652.4,265.8 652.9,265.8 653.4,265.8 653.8,265.8 654.3,265.8 654.8,265.8 655.3,265.8 655.8,265.8 656.2,265.8 656.7,265.8 657.2,265.8 657.7,265.8 658.2,265.8 658.3,253.6 658.4,229.3 658.5,214.3 658.6,205 658.7,199.2 658.9,195.6 659,193.2 659.1,191.6 659.2,190.5 659.3,189.7 659.5,189.1 659.6,188.6 659.7,188.2 659.8,187.8 659.9,187.4 660.1,187.1 660.2,186.8 660.3,186.5 660.4,186.1 660.6,185.8 660.7,185.5 660.8,185.3 660.9,185 661,184.7 661.2,184.4 661.4,183.9 661.6,183.3 661.9,182.8 662.1,182.3 662.4,181.8 662.6,181.4 662.8,180.9 663.1,180.5 663.3,180 663.6,179.6 663.8,179.2 664,178.8 664.3,178.4 664.5,178 664.8,177.6 665,177.3 665.2,176.9 665.5,176.6 665.7,176.3 666,175.9 666.2,175.6 666.4,175.3 666.7,175 666.9,174.7 667.2,174.5 667.4,174.2 667.7,173.9 667.9,173.7 668.1,173.4 668.4,173.2 668.6,172.9 668.9,172.7 669.1,172.5 669.3,172.3 669.6,172.1 669.8,171.9 670.1,171.7 670.3,171.5 670.5,171.3 670.8,171.1 671,170.9 671.3,170.7 671.5,170.6 671.7,170.4 672,170.2 672.2,170.1 672.5,169.9 672.7,169.8 672.9,169.6 673.2,169.5 673.4,169.4 673.7,169.2 673.9,169.1 674.2,169 674.4,168.9 674.6,168.7 674.9,168.6 675.1,168.5 675.4,168.4 675.6,168.3 675.8,168.2 676.1,168.1 676.3,168 676.6,167.9 676.8,167.8 677,167.7 677.3,167.6 677.5,167.6 677.8,167.5 678,167.4 678.2,167.3 678.5,167.2 678.7,167.2 679,167.1 679.2,167 679.4,167 679.7,166.9 679.9,166.8 680.2,166.8 680.4,166.7 680.7,166.6 680.9,166.6 681.1,166.5 681.4,166.5 681.6,166.4 681.9,166.4 682.1,166.3 682.3,166.3 682.6,166.2 682.8,166.2 683.1,166.1 683.3,166.1 683.5,166.1 683.8,166 684,166 684.3,165.9 684.5,165.9 684.7,165.9 685,165.8 685.2,165.8 685.5,165.8 685.7,165.7 685.9,165.7 686.2,165.7 686.4,165.6 686.7,165.6 687.5,261.3 688,262.3 688.5,263 689,263.6 689.5,264 689.9,264.4 690.4,264.7 690.9,264.9 691.4,265.1 691.9,265.3 692.4,265.4 692.8,265.5 693.3,265.6 693.8,265.6 694.3,265.7 694.8,265.7 695.2,265.7 695.7,265.8 696.2,265.8 696.7,265.8 697.2,265.8 697.7,265.8 698.1,265.8 698.6,265.8 699.1,265.8 699.6,265.8 700.1,265.8 700.5,265.8 701,265.8 701.5,265.8 702,265.8 702.5,265.8 702.9,265.8 703.4,265.8 703.9,265.8 704.4,265.8 704.9,265.8 705.4,265.8 705.8,265.8 706.3,265.8 706.8,265.8 707.3,265.8 707.8,265.8 708.2,265.8 708.7,265.8 709.2,265.8 709.7,265.8 710.2,265.8 710.7,265.8 711.1,265.8 711.6,265.8 712.1,265.8 712.6,265.8 713.1,265.8 713.5,265.8 714,265.8 714.5,265.8 715,265.8 715.5,265.8 715.9,265.8 716,254.2 716.2,231 716.3,216.6 716.4,207.8 716.5,202.2 716.6,198.7 716.8,196.4 716.9,194.9 717,193.9 717.1,193.1 717.2,192.5 717.4,192.1 717.5,191.6 717.6,191.3 717.7,190.9 717.8,190.6 718,190.3 718.1,190 718.2,189.7 718.3,189.4 718.5,189.1 718.6,188.9 718.7,188.6 718.8,188.3 718.9,188.1 719.2,187.5 719.4,187 719.7,186.5 719.9,186.1 720.1,185.6 720.4,185.1 720.6,184.7 720.9,184.3 721.1,183.9 721.3,183.4 721.6,183.1 721.8,182.7 722.1,182.3 722.3,181.9 722.5,181.6 722.8,181.2 723,180.9 723.3,180.6 723.5,180.3 723.7,180 724,179.7 724.2,179.4 724.5,179.1 724.7,178.8 725,178.5 725.2,178.3 725.4,178 725.7,177.8 725.9,177.5 726.2,177.3 726.4,177.1 726.6,176.9 726.9,176.7 727.1,176.4 727.4,176.2 727.6,176 727.8,175.9 728.1,175.7 728.3,175.5 728.6,175.3 728.8,175.1 729,175 729.3,174.8 729.5,174.7 729.8,174.5 730,174.4 730.2,174.2 730.5,174.1 730.7,173.9 731,173.8 731.2,173.7 731.5,173.5 731.7,173.4 731.9,173.3 732.2,173.2 732.4,173.1 732.7,173 732.9,172.9 733.1,172.8 733.4,172.6 733.6,172.6 733.9,172.5 734.1,172.4 734.3,172.3 734.6,172.2 734.8,172.1 735.1,172 735.3,171.9 735.5,171.9 735.8,171.8 736,171.7 736.3,171.6 736.5,171.6 736.7,171.5 737,171.4 737.2,171.4 737.5,171.3 737.7,171.2 738,171.2 738.2,171.1 738.4,171.1 738.7,171 738.9,171 739.2,170.9 739.4,170.9 739.6,170.8 739.9,170.8 740.1,170.7 740.4,170.7 740.6,170.6 740.8,170.6 741.1,170.5 741.3,170.5 741.6,170.5 741.8,170.4 742,170.4 742.3,170.3 742.5,170.3 742.8,170.3 743,170.2 743.2,170.2 743.5,170.2 743.7,170.2 744,170.1 744.2,170.1 744.5,170.1 745.3,261.3 745.8,262.3 746.3,263 746.8,263.6 747.2,264 747.7,264.4 748.2,264.7 748.7,264.9 749.2,265.1 749.7,265.3 750.1,265.4 750.6,265.5 751.1,265.6 751.6,265.6 752.1,265.7 752.5,265.7 753,265.7 753.5,265.8 754,265.8 754.5,265.8 754.9,265.8 755.4,265.8 755.9,265.8 756.4,265.8 756.9,265.8 757.4,265.8 757.8,265.8 758.3,265.8 758.8,265.8 759.3,265.8 759.8,265.8 760.2,265.8 760.7,265.8 761.2,265.8 761.7,265.8 762.2,265.8 762.7,265.8 763.1,265.8 763.6,265.8 764.1,265.8 764.6,265.8 765.1,265.8 765.5,265.8 766,265.8 766.5,265.8 767,265.8 767.5,265.8 767.9,265.8 768.4,265.8 768.9,265.8 769.4,265.8 769.9,265.8 770.4,265.8 770.8,265.8 771.3,265.8 771.8,265.8 772.3,265.8 772.8,265.8 773.2,265.8 773.7,265.8 773.8,254 773.9,230.3 774.1,215.8 774.2,206.8 774.3,201.3 774.4,197.8 774.5,195.6 774.7,194.1 774.8,193.1 774.9,192.4 775,191.9 775.1,191.5 775.3,191.2 775.4,190.9 775.5,190.6 775.6,190.3 775.7,190.1 775.9,189.9 776,189.6 776.1,189.4 776.2,189.2 776.4,189 776.5,188.8 776.6,188.5 776.7,188.3 777,187.9 777.2,187.5 777.4,187.2 777.7,186.8 777.9,186.4 778.2,186.1 778.4,185.7 778.6,185.4 778.9,185.1 779.1,184.8 779.4,184.4 779.6,184.2 779.8,183.9 780.1,183.6 780.3,183.3 780.6,183 780.8,182.8 781,182.5 781.3,182.3 781.5,182 781.8,181.8 782,181.6 782.2,181.4 782.5,181.2 782.7,180.9 783,180.7 783.2,180.5 783.5,180.4 783.7,180.2 783.9,180 784.2,179.8 784.4,179.6 784.7,179.5 784.9,179.3 785.1,179.2 785.4,179 785.6,178.9 785.9,178.7 786.1,178.6 786.3,178.4 786.6,178.3 786.8,178.2 787.1,178 787.3,177.9 787.5,177.8 787.8,177.7 788,177.6 788.3,177.5 788.5,177.4 788.8,177.3 789,177.2 789.2,177.1 789.5,177 789.7,176.9 790,176.8 790.2,176.7 790.4,176.6 790.7,176.5 790.9,176.4 791.2,176.4 791.4,176.3 791.6,176.2 791.9,176.1 792.1,176.1 792.4,176 792.6,175.9 792.8,175.9 793.1,175.8 793.3,175.7 793.6,175.7 793.8,175.6 794,175.6 794.3,175.5 794.5,175.5 794.8,175.4 795,175.4 795.3,175.3 795.5,175.3 795.7,175.2 796,175.2 796.2,175.1 796.5,175.1 796.7,175 796.9,175 797.2,175 797.4,174.9 797.7,174.9 797.9,174.9 798.1,174.8 798.4,174.8 798.6,174.8 798.9,174.7 799.1,174.7 799.3,174.7 799.6,174.6 799.8,174.6 800.1,174.6 800.3,174.5 800.5,174.5 800.8,174.5 801,174.5 801.3,174.4 801.5,174.4 801.8,174.4 802,174.4 802.2,174.4 803.1,261.3 803.6,262.3 804.1,263 804.5,263.6 805,264 805.5,264.4 806,264.7 806.5,264.9 807,265.1 807.4,265.3 807.9,265.4 808.4,265.5 808.9,265.6 809.4,265.6 809.8,265.7 810.3,265.7 810.8,265.7 811.3,265.8 811.8,265.8 812.2,265.8 812.7,265.8 813.2,265.8 813.7,265.8 814.2,265.8 814.7,265.8 815.1,265.8 815.6,265.8 816.1,265.8 816.6,265.8 817.1,265.8 817.5,265.8 818,265.8 818.5,265.8 819,265.8 819.5,265.8 820,265.8 820.4,265.8 820.9,265.8 821.4,265.8 821.9,265.8 822.4,265.8 822.8,265.8 823.3,265.8 823.8,265.8 824.3,265.8 824.8,265.8 825.2,265.8 825.7,265.8 826.2,265.8 826.7,265.8 827.2,265.8 827.7,265.8 828.1,265.8 828.6,265.8 829.1,265.8 829.6,265.8 830.1,265.8 830.5,265.8 831,265.8 831.5,265.8 831.6,254.3 831.7,231.2 831.8,217 832,208.3 832.1,202.9 832.2,199.5 832.3,197.3 832.4,195.9 832.6,194.9 832.7,194.2 832.8,193.7 832.9,193.3 833,193 833.2,192.7 833.3,192.4 833.4,192.2 833.5,191.9 833.7,191.7 833.8,191.5 833.9,191.3 834,191.1 834.1,190.8 834.3,190.6 834.4,190.4 834.5,190.2 834.7,189.8 835,189.5 835.2,189.1 835.5,188.7 835.7,188.4 835.9,188 836.2,187.7 836.4,187.4 836.7,187 836.9,186.7 837.1,186.4 837.4,186.2 837.6,185.9 837.9,185.6 838.1,185.3 838.3,185.1 838.6,184.8 838.8,184.6 839.1,184.3 839.3,184.1 839.5,183.9 839.8,183.6 840,183.4 840.3,183.2 840.5,183 840.8,182.8 841,182.6 841.2,182.4 841.5,182.3 841.7,182.1 842,181.9 842.2,181.8 842.4,181.6 842.7,181.4 842.9,181.3 843.2,181.1 843.4,181 843.6,180.8 843.9,180.7 844.1,180.6 844.4,180.4 844.6,180.3 844.8,180.2 845.1,180.1 845.3,180 845.6,179.8 845.8,179.7 846,179.6 846.3,179.5 846.5,179.4 846.8,179.3 847,179.2 847.3,179.1 847.5,179 847.7,179 848,178.9 848.2,178.8 848.5,178.7 848.7,178.6 848.9,178.6 849.2,178.5 849.4,178.4 849.7,178.3 849.9,178.3 850.1,178.2 850.4,178.1 850.6,178.1 850.9,178 851.1,178 851.3,177.9 851.6,177.8 851.8,177.8 852.1,177.7 852.3,177.7 852.5,177.6 852.8,177.6 853,177.5 853.3,177.5 853.5,177.4 853.8,177.4 854,177.4 854.2,177.3 854.5,177.3 854.7,177.2 855,177.2 855.2,177.2 855.4,177.1 855.7,177.1 855.9,177 856.2,177 856.4,177 856.6,177 856.9,176.9 857.1,176.9 857.4,176.9 857.6,176.8 857.8,176.8 858.1,176.8 858.3,176.8 858.6,176.7 858.8,176.7 859,176.7 859.3,176.7 859.5,176.6 859.8,176.6 860,176.6 860.9,261.3 861.4,262.3 861.8,263 862.3,263.6 862.8,264 863.3,264.4 863.8,264.7 864.2,264.9 864.7,265.1 865.2,265.3 865.7,265.4 866.2,265.5 866.7,265.6 867.1,265.6 867.6,265.7 868.1,265.7 868.6,265.7 869.1,265.8 869.5,265.8 870,265.8 870.5,265.8 871,265.8 871.5,265.8 872,265.8 872.4,265.8 872.9,265.8 873.4,265.8 873.9,265.8 874.4,265.8 874.8,265.8 875.3,265.8 875.8,265.8 876.3,265.8 876.8,265.8 877.2,265.8 877.7,265.8 878.2,265.8 878.7,265.8 879.2,265.8 879.7,265.8 880.1,265.8 880.6,265.8 881.1,265.8 881.6,265.8 882.1,265.8 882.5,265.8 883,265.8 883.5,265.8 884,265.8 884.5,265.8 885,265.8 885.4,265.8 885.9,265.8 886.4,265.8 886.9,265.8 887.4,265.8 887.8,265.8 888.3,265.8 888.8,265.8 889.3,265.8 889.4,254.3 889.5,231.2 889.6,217.1 889.7,208.4 889.9,203 890,199.7 890.1,197.6 890.2,196.2 890.3,195.3 890.5,194.6 890.6,194.2 890.7,193.8 890.8,193.5 890.9,193.3 891.1,193 891.2,192.8 891.3,192.6 891.4,192.4 891.6,192.2 891.7,192.1 891.8,191.9 891.9,191.7 892,191.5 892.2,191.4 892.3,191.2 892.5,190.9 892.8,190.5 893,190.2 893.2,189.9 893.5,189.6 893.7,189.4 894,189.1 894.2,188.8 894.4,188.5 894.7,188.3 894.9,188 895.2,187.8 895.4,187.6 895.6,187.3 895.9,187.1 896.1,186.9 896.4,186.7 896.6,186.5 896.8,186.3 897.1,186.1 897.3,185.9 897.6,185.7 897.8,185.5 898.1,185.4 898.3,185.2 898.5,185 898.8,184.9 899,184.7 899.3,184.6 899.5,184.4 899.7,184.3 900,184.1 900.2,184 900.5,183.9 900.7,183.7 900.9,183.6 901.2,183.5 901.4,183.4 901.7,183.3 901.9,183.2 902.1,183.1 902.4,182.9 902.6,182.8 902.9,182.7 903.1,182.6 903.3,182.6 903.6,182.5 903.8,182.4 904.1,182.3 904.3,182.2 904.6,182.1 904.8,182 905,182 905.3,181.9 905.5,181.8 905.8,181.7 906,181.7 906.2,181.6 906.5,181.5 906.7,181.5 907,181.4 907.2,181.4 907.4,181.3 907.7,181.2 907.9,181.2 908.2,181.1 908.4,181.1 908.6,181 908.9,181 909.1,180.9 909.4,180.9 909.6,180.8 909.8,180.8 910.1,180.7 910.3,180.7 910.6,180.7 910.8,180.6 911.1,180.6 911.3,180.6 911.5,180.5 911.8,180.5 912,180.4 912.3,180.4 912.5,180.4 912.7,180.3 913,180.3 913.2,180.3 913.5,180.3 913.7,180.2 913.9,180.2 914.2,180.2 914.4,180.1 914.7,180.1 914.9,180.1 915.1,180.1 915.4,180 915.6,180 915.9,180 916.1,180 916.3,180 916.6,179.9 916.8,179.9 917.1,179.9 917.3,179.9 917.6,179.9 917.8,179.8 918,179.8 918.3,179.8 918.5,179.8 918.8,179.8 919,179.8 919.2,179.7 919.5,179.7 919.7,179.7 920,179.7 920.2,179.7 920.4,179.7 920.7,179.7 920.9,179.7 921.2,179.6 921.4,179.6 921.6,179.6 921.9,179.6 922.1,179.6 922.4,179.6 922.6,179.6 922.8,179.6 923.1,179.6 923.3,179.5 923.6,179.5 923.8,179.5 924.1,179.5 924.3,179.5 924.5,179.5 924.8,179.5 925,179.5 925.3,179.5 925.5,179.5 925.7,179.5 926,179.5 926.2,179.5 926.5,179.4 926.7,179.4 926.9,179.4 927.2,179.4 927.4,179.4" fill="none" stroke="#d81c1c" stroke-width="3.3" stroke-linejoin="round" stroke-linecap="round" />
<polyline points="542.8,69.8 543,75.8 543.3,79.8 543.5,82.5 543.8,84.3 544,85.5 544.2,86.3 544.5,86.8 544.7,87.2 545,87.5 545.2,87.7 545.4,87.9 545.7,88 545.9,88.1 546.2,88.2 546.4,88.3 546.7,88.4 546.9,88.5 547.1,88.5 547.4,88.6 547.6,88.7 547.9,88.8 548.1,88.8 548.3,88.9 548.6,89 548.8,89 549.1,89.1 549.3,89.2 549.5,89.3 549.8,89.3 550,89.4 550.3,89.5 550.5,89.5 550.7,89.6 551,89.7 551.2,89.8 551.5,89.8 551.7,89.9 551.9,90 552.2,90 552.4,90.1 552.7,90.2 552.9,90.2 553.2,90.3 553.4,90.4 553.6,90.5 553.9,90.5 554.1,90.6 554.4,90.7 554.6,90.7 554.8,90.8 555.1,90.9 555.3,90.9 555.6,91 555.8,91.1 556,91.2 556.3,91.2 556.5,91.3 556.8,91.4 557,91.4 557.2,91.5 557.5,91.6 557.7,91.7 558,91.7 558.2,91.8 558.4,91.9 558.7,91.9 558.9,92 559.2,92.1 559.4,92.1 559.7,92.2 559.9,92.3 560.1,92.4 560.4,92.4 560.6,92.5 560.9,92.6 561.1,92.6 561.3,92.7 561.6,92.8 561.8,92.9 562.1,92.9 562.3,93 562.5,93.1 562.8,93.1 563,93.2 563.3,93.3 563.5,93.3 563.7,93.4 564,93.5 564.2,93.6 564.5,93.6 564.7,93.7 564.9,93.8 565.2,93.8 565.4,93.9 565.7,94 565.9,94.1 566.2,94.1 566.4,94.2 566.6,94.3 566.9,94.3 567.1,94.4 567.4,94.5 567.6,94.5 567.8,94.6 568.1,94.7 568.3,94.8 568.6,94.8 568.8,94.9 569,95 569.3,95 569.5,95.1 569.8,95.2 570,95.3 570.2,95.3 570.5,95.4 570.7,95.5 571,95.5 571.2,95.6 571.4,95.7 571.7,95.7 572,260.7 572.5,261.7 572.9,262.5 573.4,263.2 573.9,263.7 574.4,264.1 574.9,264.4 575.3,264.7 575.8,264.9 576.3,265.1 576.8,265.2 577.3,265.3 577.8,265.4 578.2,265.5 578.7,265.5 579.2,265.6 579.7,265.6 580.2,265.6 580.6,265.6 581.1,265.7 581.6,265.7 582.1,265.7 582.6,265.7 583.1,265.7 583.5,265.7 584,265.7 584.5,265.7 585,265.7 585.5,265.7 585.9,265.7 586.4,265.7 586.9,265.7 587.4,265.7 587.9,265.7 588.3,265.7 588.8,265.7 589.3,265.7 589.8,265.7 590.3,265.7 590.8,265.7 591.2,265.7 591.7,265.7 592.2,265.7 592.7,265.7 593.2,265.7 593.6,265.7 594.1,265.7 594.6,265.7 595.1,265.7 595.6,265.7 596.1,265.7 596.5,265.7 597,265.7 597.5,265.7 598,265.7 598.5,265.7 598.9,265.7 599.4,265.7 599.9,265.7 600.4,265.7 600.5,247.8 600.6,212.7 600.7,190.7 600.8,176.8 601,167.8 601.1,162 601.2,158 601.3,155.2 601.4,153.2 601.6,151.6 601.7,150.3 601.8,149.2 601.9,148.2 602,147.3 602.2,146.4 602.3,145.7 602.4,144.9 602.5,144.2 602.7,143.5 602.8,142.9 602.9,142.2 603,141.6 603.1,141 603.3,140.5 603.4,139.9 603.6,138.9 603.9,137.9 604.1,137 604.3,136.1 604.6,135.4 604.8,134.6 605.1,133.9 605.3,133.3 605.5,132.7 605.8,132.1 606,131.6 606.3,131.1 606.5,130.7 606.7,130.3 607,129.9 607.2,129.5 607.5,129.2 607.7,128.8 607.9,128.5 608.2,128.3 608.4,128 608.7,127.8 608.9,127.5 609.2,127.3 609.4,127.1 609.6,126.9 609.9,126.8 610.1,126.6 610.4,126.5 610.6,126.3 610.8,126.2 611.1,126.1 611.3,126 611.6,125.9 611.8,125.8 612,125.7 612.3,125.6 612.5,125.5 612.8,125.4 613,125.4 613.2,125.3 613.5,125.2 613.7,125.2 614,125.1 614.2,125.1 614.4,125 614.7,125 614.9,124.9 615.2,124.9 615.4,124.9 615.7,124.8 615.9,124.8 616.1,124.8 616.4,124.8 616.6,124.7 616.9,124.7 617.1,124.7 617.3,124.7 617.6,124.7 617.8,124.6 618.1,124.6 618.3,124.6 618.5,124.6 618.8,124.6 619,124.6 619.3,124.6 619.5,124.5 619.7,124.5 620,124.5 620.2,124.5 620.5,124.5 620.7,124.5 620.9,124.5 621.2,124.5 621.4,124.5 621.7,124.5 621.9,124.5 622.2,124.5 622.4,124.5 622.6,124.5 622.9,124.5 623.1,124.4 623.4,124.4 623.6,124.4 623.8,124.4 624.1,124.4 624.3,124.4 624.6,124.4 624.8,124.4 625,124.4 625.3,124.4 625.5,124.4 625.8,124.4 626,124.4 626.2,124.4 626.5,124.4 626.7,124.4 627,124.4 627.2,124.4 627.4,124.4 627.7,124.4 627.9,124.4 628.2,124.4 628.4,124.4 628.7,124.4 628.9,124.4 629.8,260.7 630.2,261.7 630.7,262.5 631.2,263.2 631.7,263.7 632.2,264.1 632.6,264.4 633.1,264.7 633.6,264.9 634.1,265.1 634.6,265.2 635.1,265.3 635.5,265.4 636,265.5 636.5,265.5 637,265.6 637.5,265.6 637.9,265.6 638.4,265.6 638.9,265.7 639.4,265.7 639.9,265.7 640.4,265.7 640.8,265.7 641.3,265.7 641.8,265.7 642.3,265.7 642.8,265.7 643.2,265.7 643.7,265.7 644.2,265.7 644.7,265.7 645.2,265.7 645.6,265.7 646.1,265.7 646.6,265.7 647.1,265.7 647.6,265.7 648.1,265.7 648.5,265.7 649,265.7 649.5,265.7 650,265.7 650.5,265.7 650.9,265.7 651.4,265.7 651.9,265.7 652.4,265.7 652.9,265.7 653.4,265.7 653.8,265.7 654.3,265.7 654.8,265.7 655.3,265.7 655.8,265.7 656.2,265.7 656.7,265.7 657.2,265.7 657.7,265.7 658.2,265.7 658.3,249.7 658.4,218 658.5,198.2 658.6,185.6 658.7,177.6 658.9,172.3 659,168.7 659.1,166.2 659.2,164.3 659.3,162.9 659.5,161.7 659.6,160.7 659.7,159.8 659.8,159 659.9,158.3 660.1,157.6 660.2,156.9 660.3,156.2 660.4,155.6 660.6,155 660.7,154.5 660.8,153.9 660.9,153.4 661,152.9 661.2,152.4 661.4,151.4 661.6,150.6 661.9,149.7 662.1,149 662.4,148.3 662.6,147.6 662.8,147 663.1,146.4 663.3,145.9 663.6,145.4 663.8,144.9 664,144.5 664.3,144.1 664.5,143.7 664.8,143.3 665,143 665.2,142.7 665.5,142.4 665.7,142.1 666,141.9 666.2,141.6 666.4,141.4 666.7,141.2 666.9,141 667.2,140.8 667.4,140.7 667.7,140.5 667.9,140.4 668.1,140.3 668.4,140.1 668.6,140 668.9,139.9 669.1,139.8 669.3,139.7 669.6,139.6 669.8,139.5 670.1,139.5 670.3,139.4 670.5,139.3 670.8,139.3 671,139.2 671.3,139.1 671.5,139.1 671.7,139 672,139 672.2,139 672.5,138.9 672.7,138.9 672.9,138.8 673.2,138.8 673.4,138.8 673.7,138.8 673.9,138.7 674.2,138.7 674.4,138.7 674.6,138.7 674.9,138.6 675.1,138.6 675.4,138.6 675.6,138.6 675.8,138.6 676.1,138.6 676.3,138.6 676.6,138.5 676.8,138.5 677,138.5 677.3,138.5 677.5,138.5 677.8,138.5 678,138.5 678.2,138.5 678.5,138.5 678.7,138.5 679,138.5 679.2,138.5 679.4,138.5 679.7,138.4 679.9,138.4 680.2,138.4 680.4,138.4 680.7,138.4 680.9,138.4 681.1,138.4 681.4,138.4 681.6,138.4 681.9,138.4 682.1,138.4 682.3,138.4 682.6,138.4 682.8,138.4 683.1,138.4 683.3,138.4 683.5,138.4 683.8,138.4 684,138.4 684.3,138.4 684.5,138.4 684.7,138.4 685,138.4 685.2,138.4 685.5,138.4 685.7,138.4 685.9,138.4 686.2,138.4 686.4,138.4 686.7,138.4 687.5,260.7 688,261.7 688.5,262.5 689,263.2 689.5,263.7 689.9,264.1 690.4,264.4 690.9,264.7 691.4,264.9 691.9,265.1 692.4,265.2 692.8,265.3 693.3,265.4 693.8,265.5 694.3,265.5 694.8,265.6 695.2,265.6 695.7,265.6 696.2,265.6 696.7,265.7 697.2,265.7 697.7,265.7 698.1,265.7 698.6,265.7 699.1,265.7 699.6,265.7 700.1,265.7 700.5,265.7 701,265.7 701.5,265.7 702,265.7 702.5,265.7 702.9,265.7 703.4,265.7 703.9,265.7 704.4,265.7 704.9,265.7 705.4,265.7 705.8,265.7 706.3,265.7 706.8,265.7 707.3,265.7 707.8,265.7 708.2,265.7 708.7,265.7 709.2,265.7 709.7,265.7 710.2,265.7 710.7,265.7 711.1,265.7 711.6,265.7 712.1,265.7 712.6,265.7 713.1,265.7 713.5,265.7 714,265.7 714.5,265.7 715,265.7 715.5,265.7 715.9,265.7 716,251.3 716.2,222.6 716.3,204.6 716.4,193.2 716.5,185.9 716.6,181.1 716.8,177.9 716.9,175.6 717,173.9 717.1,172.6 717.2,171.5 717.4,170.6 717.5,169.8 717.6,169.1 717.7,168.4 717.8,167.7 718,167.1 718.1,166.5 718.2,166 718.3,165.4 718.5,164.9 718.6,164.4 718.7,164 718.8,163.5 718.9,163 719.2,162.2 719.4,161.4 719.7,160.6 719.9,160 720.1,159.3 720.4,158.7 720.6,158.1 720.9,157.6 721.1,157.1 721.3,156.7 721.6,156.3 721.8,155.9 722.1,155.5 722.3,155.1 722.5,154.8 722.8,154.5 723,154.2 723.3,154 723.5,153.7 723.7,153.5 724,153.3 724.2,153.1 724.5,152.9 724.7,152.7 725,152.6 725.2,152.4 725.4,152.3 725.7,152.2 725.9,152 726.2,151.9 726.4,151.8 726.6,151.7 726.9,151.6 727.1,151.5 727.4,151.5 727.6,151.4 727.8,151.3 728.1,151.2 728.3,151.2 728.6,151.1 728.8,151.1 729,151 729.3,151 729.5,150.9 729.8,150.9 730,150.9 730.2,150.8 730.5,150.8 730.7,150.8 731,150.7 731.2,150.7 731.5,150.7 731.7,150.7 731.9,150.6 732.2,150.6 732.4,150.6 732.7,150.6 732.9,150.6 733.1,150.6 733.4,150.5 733.6,150.5 733.9,150.5 734.1,150.5 734.3,150.5 734.6,150.5 734.8,150.5 735.1,150.5 735.3,150.5 735.5,150.4 735.8,150.4 736,150.4 736.3,150.4 736.5,150.4 736.7,150.4 737,150.4 737.2,150.4 737.5,150.4 737.7,150.4 738,150.4 738.2,150.4 738.4,150.4 738.7,150.4 738.9,150.4 739.2,150.4 739.4,150.4 739.6,150.4 739.9,150.4 740.1,150.4 740.4,150.4 740.6,150.4 740.8,150.4 741.1,150.4 741.3,150.4 741.6,150.4 741.8,150.4 742,150.4 742.3,150.4 742.5,150.4 742.8,150.4 743,150.4 743.2,150.4 743.5,150.3 743.7,150.3 744,150.3 744.2,150.3 744.5,150.3 745.3,260.7 745.8,261.7 746.3,262.5 746.8,263.2 747.2,263.7 747.7,264.1 748.2,264.4 748.7,264.7 749.2,264.9 749.7,265.1 750.1,265.2 750.6,265.3 751.1,265.4 751.6,265.5 752.1,265.5 752.5,265.6 753,265.6 753.5,265.6 754,265.6 754.5,265.7 754.9,265.7 755.4,265.7 755.9,265.7 756.4,265.7 756.9,265.7 757.4,265.7 757.8,265.7 758.3,265.7 758.8,265.7 759.3,265.7 759.8,265.7 760.2,265.7 760.7,265.7 761.2,265.7 761.7,265.7 762.2,265.7 762.7,265.7 763.1,265.7 763.6,265.7 764.1,265.7 764.6,265.7 765.1,265.7 765.5,265.7 766,265.7 766.5,265.7 767,265.7 767.5,265.7 767.9,265.7 768.4,265.7 768.9,265.7 769.4,265.7 769.9,265.7 770.4,265.7 770.8,265.7 771.3,265.7 771.8,265.7 772.3,265.7 772.8,265.7 773.2,265.7 773.7,265.7 773.8,252.4 773.9,225.5 774.1,208.7 774.2,198.1 774.3,191.2 774.4,186.8 774.5,183.7 774.7,181.6 774.8,180 774.9,178.8 775,177.8 775.1,176.9 775.3,176.2 775.4,175.5 775.5,174.9 775.6,174.3 775.7,173.7 775.9,173.2 776,172.6 776.1,172.1 776.2,171.6 776.4,171.2 776.5,170.7 776.6,170.3 776.7,169.9 777,169.1 777.2,168.3 777.4,167.6 777.7,167 777.9,166.4 778.2,165.8 778.4,165.3 778.6,164.8 778.9,164.4 779.1,163.9 779.4,163.5 779.6,163.2 779.8,162.8 780.1,162.5 780.3,162.2 780.6,161.9 780.8,161.7 781,161.4 781.3,161.2 781.5,161 781.8,160.8 782,160.6 782.2,160.4 782.5,160.3 782.7,160.1 783,160 783.2,159.8 783.5,159.7 783.7,159.6 783.9,159.5 784.2,159.4 784.4,159.3 784.7,159.2 784.9,159.1 785.1,159.1 785.4,159 785.6,158.9 785.9,158.9 786.1,158.8 786.3,158.7 786.6,158.7 786.8,158.7 787.1,158.6 787.3,158.6 787.5,158.5 787.8,158.5 788,158.5 788.3,158.4 788.5,158.4 788.8,158.4 789,158.4 789.2,158.3 789.5,158.3 789.7,158.3 790,158.3 790.2,158.3 790.4,158.2 790.7,158.2 790.9,158.2 791.2,158.2 791.4,158.2 791.6,158.2 791.9,158.2 792.1,158.1 792.4,158.1 792.6,158.1 792.8,158.1 793.1,158.1 793.3,158.1 793.6,158.1 793.8,158.1 794,158.1 794.3,158.1 794.5,158.1 794.8,158.1 795,158.1 795.3,158.1 795.5,158.1 795.7,158.1 796,158.1 796.2,158.1 796.5,158 796.7,158 796.9,158 797.2,158 797.4,158 797.7,158 797.9,158 798.1,158 798.4,158 798.6,158 798.9,158 799.1,158 799.3,158 799.6,158 799.8,158 800.1,158 800.3,158 800.5,158 800.8,158 801,158 801.3,158 801.5,158 801.8,158 802,158 802.2,158 803.1,260.7 803.6,261.7 804.1,262.5 804.5,263.2 805,263.7 805.5,264.1 806,264.4 806.5,264.7 807,264.9 807.4,265.1 807.9,265.2 808.4,265.3 808.9,265.4 809.4,265.5 809.8,265.5 810.3,265.6 810.8,265.6 811.3,265.6 811.8,265.6 812.2,265.7 812.7,265.7 813.2,265.7 813.7,265.7 814.2,265.7 814.7,265.7 815.1,265.7 815.6,265.7 816.1,265.7 816.6,265.7 817.1,265.7 817.5,265.7 818,265.7 818.5,265.7 819,265.7 819.5,265.7 820,265.7 820.4,265.7 820.9,265.7 821.4,265.7 821.9,265.7 822.4,265.7 822.8,265.7 823.3,265.7 823.8,265.7 824.3,265.7 824.8,265.7 825.2,265.7 825.7,265.7 826.2,265.7 826.7,265.7 827.2,265.7 827.7,265.7 828.1,265.7 828.6,265.7 829.1,265.7 829.6,265.7 830.1,265.7 830.5,265.7 831,265.7 831.5,265.7 831.6,253.5 831.7,228.6 831.8,213.1 832,203.3 832.1,197 832.2,192.8 832.3,190 832.4,188 832.6,186.6 832.7,185.5 832.8,184.5 832.9,183.8 833,183.1 833.2,182.4 833.3,181.8 833.4,181.3 833.5,180.7 833.7,180.2 833.8,179.8 833.9,179.3 834,178.9 834.1,178.4 834.3,178 834.4,177.6 834.5,177.2 834.7,176.5 835,175.8 835.2,175.2 835.5,174.6 835.7,174 835.9,173.5 836.2,173 836.4,172.5 836.7,172.1 836.9,171.7 837.1,171.4 837.4,171 837.6,170.7 837.9,170.4 838.1,170.1 838.3,169.9 838.6,169.6 838.8,169.4 839.1,169.2 839.3,169 839.5,168.8 839.8,168.6 840,168.5 840.3,168.3 840.5,168.2 840.8,168 841,167.9 841.2,167.8 841.5,167.7 841.7,167.6 842,167.5 842.2,167.4 842.4,167.4 842.7,167.3 842.9,167.2 843.2,167.1 843.4,167.1 843.6,167 843.9,167 844.1,166.9 844.4,166.9 844.6,166.8 844.8,166.8 845.1,166.8 845.3,166.7 845.6,166.7 845.8,166.7 846,166.6 846.3,166.6 846.5,166.6 846.8,166.6 847,166.5 847.3,166.5 847.5,166.5 847.7,166.5 848,166.5 848.2,166.5 848.5,166.4 848.7,166.4 848.9,166.4 849.2,166.4 849.4,166.4 849.7,166.4 849.9,166.4 850.1,166.4 850.4,166.4 850.6,166.3 850.9,166.3 851.1,166.3 851.3,166.3 851.6,166.3 851.8,166.3 852.1,166.3 852.3,166.3 852.5,166.3 852.8,166.3 853,166.3 853.3,166.3 853.5,166.3 853.8,166.3 854,166.3 854.2,166.3 854.5,166.3 854.7,166.3 855,166.3 855.2,166.3 855.4,166.3 855.7,166.3 855.9,166.3 856.2,166.3 856.4,166.3 856.6,166.3 856.9,166.3 857.1,166.3 857.4,166.3 857.6,166.3 857.8,166.3 858.1,166.3 858.3,166.3 858.6,166.3 858.8,166.3 859,166.3 859.3,166.3 859.5,166.3 859.8,166.3 860,166.3 860.9,260.7 861.4,261.7 861.8,262.5 862.3,263.2 862.8,263.7 863.3,264.1 863.8,264.4 864.2,264.7 864.7,264.9 865.2,265.1 865.7,265.2 866.2,265.3 866.7,265.4 867.1,265.5 867.6,265.5 868.1,265.6 868.6,265.6 869.1,265.6 869.5,265.6 870,265.7 870.5,265.7 871,265.7 871.5,265.7 872,265.7 872.4,265.7 872.9,265.7 873.4,265.7 873.9,265.7 874.4,265.7 874.8,265.7 875.3,265.7 875.8,265.7 876.3,265.7 876.8,265.7 877.2,265.7 877.7,265.7 878.2,265.7 878.7,265.7 879.2,265.7 879.7,265.7 880.1,265.7 880.6,265.7 881.1,265.7 881.6,265.7 882.1,265.7 882.5,265.7 883,265.7 883.5,265.7 884,265.7 884.5,265.7 885,265.7 885.4,265.7 885.9,265.7 886.4,265.7 886.9,265.7 887.4,265.7 887.8,265.7 888.3,265.7 888.8,265.7 889.3,265.7 889.4,254.1 889.5,230.3 889.6,215.4 889.7,206 889.9,199.9 890,196 890.1,193.3 890.2,191.4 890.3,190 890.5,188.9 890.6,188 890.7,187.3 890.8,186.6 890.9,186 891.1,185.5 891.2,184.9 891.3,184.4 891.4,183.9 891.6,183.5 891.7,183 891.8,182.6 891.9,182.2 892,181.8 892.2,181.4 892.3,181 892.5,180.3 892.8,179.7 893,179.1 893.2,178.5 893.5,178 893.7,177.5 894,177 894.2,176.6 894.4,176.2 894.7,175.8 894.9,175.4 895.2,175.1 895.4,174.8 895.6,174.5 895.9,174.2 896.1,174 896.4,173.8 896.6,173.5 896.8,173.3 897.1,173.1 897.3,173 897.6,172.8 897.8,172.7 898.1,172.5 898.3,172.4 898.5,172.3 898.8,172.1 899,172 899.3,171.9 899.5,171.8 899.7,171.8 900,171.7 900.2,171.6 900.5,171.5 900.7,171.5 900.9,171.4 901.2,171.3 901.4,171.3 901.7,171.2 901.9,171.2 902.1,171.1 902.4,171.1 902.6,171.1 902.9,171 903.1,171 903.3,171 903.6,170.9 903.8,170.9 904.1,170.9 904.3,170.9 904.6,170.8 904.8,170.8 905,170.8 905.3,170.8 905.5,170.8 905.8,170.7 906,170.7 906.2,170.7 906.5,170.7 906.7,170.7 907,170.7 907.2,170.7 907.4,170.7 907.7,170.7 907.9,170.6 908.2,170.6 908.4,170.6 908.6,170.6 908.9,170.6 909.1,170.6 909.4,170.6 909.6,170.6 909.8,170.6 910.1,170.6 910.3,170.6 910.6,170.6 910.8,170.6 911.1,170.6 911.3,170.6 911.5,170.6 911.8,170.6 912,170.6 912.3,170.6 912.5,170.6 912.7,170.6 913,170.6 913.2,170.6 913.5,170.6 913.7,170.6 913.9,170.6 914.2,170.5 914.4,170.5 914.7,170.5 914.9,170.5 915.1,170.5 915.4,170.5 915.6,170.5 915.9,170.5 916.1,170.5 916.3,170.5 916.6,170.5 916.8,170.5 917.1,170.5 917.3,170.5 917.6,170.5 917.8,170.5 918,170.5 918.3,170.5 918.5,170.5 918.8,170.5 919,170.5 919.2,170.5 919.5,170.5 919.7,170.5 920,170.5 920.2,170.5 920.4,170.5 920.7,170.5 920.9,170.5 921.2,170.5 921.4,170.5 921.6,170.5 921.9,170.5 922.1,170.5 922.4,170.5 922.6,170.5 922.8,170.5 923.1,170.5 923.3,170.5 923.6,170.5 923.8,170.5 924.1,170.5 924.3,170.5 924.5,170.5 924.8,170.5 925,170.5 925.3,170.5 925.5,170.5 925.7,170.5 926,170.5 926.2,170.5 926.5,170.5 926.7,170.5 926.9,170.5 927.2,170.5 927.4,170.5" fill="none" stroke="#e426dc" stroke-width="3.3" stroke-linejoin="round" stroke-linecap="round" />
<polyline points="542.8,31.4 543,39.8 543.3,48.1 543.5,56.4 543.8,61.4 544,61.7 544.2,61.9 544.5,62.1 544.7,62.4 545,62.6 545.2,62.9 545.4,63.1 545.7,63.3 545.9,63.6 546.2,63.8 546.4,64 546.7,64.3 546.9,64.5 547.1,64.8 547.4,65 547.6,65.2 547.9,65.5 548.1,65.7 548.3,65.9 548.6,66.2 548.8,66.4 549.1,66.7 549.3,66.9 549.5,67.1 549.8,67.4 550,67.6 550.3,67.8 550.5,68.1 550.7,68.3 551,68.6 551.2,68.8 551.5,69 551.7,69.3 551.9,69.5 552.2,69.7 552.4,70 552.7,70.2 552.9,70.5 553.2,70.7 553.4,70.9 553.6,71.2 553.9,71.4 554.1,71.6 554.4,71.9 554.6,72.1 554.8,72.4 555.1,72.6 555.3,72.8 555.6,73.1 555.8,73.3 556,73.5 556.3,73.8 556.5,74 556.8,74.3 557,74.5 557.2,74.7 557.5,75 557.7,75.2 558,75.4 558.2,75.7 558.4,75.9 558.7,76.2 558.9,76.4 559.2,76.6 559.4,76.9 559.7,77.1 559.9,77.3 560.1,77.6 560.4,77.8 560.6,78.1 560.9,78.3 561.1,78.5 561.3,78.8 561.6,79 561.8,79.2 562.1,79.5 562.3,79.7 562.5,80 562.8,80.2 563,80.4 563.3,80.7 563.5,80.9 563.7,81.1 564,81.4 564.2,81.6 564.5,81.9 564.7,82.1 564.9,82.3 565.2,82.6 565.4,82.8 565.7,83 565.9,83.3 566.2,83.5 566.4,83.8 566.6,84 566.9,84.2 567.1,84.5 567.4,84.7 567.6,84.9 567.8,85.2 568.1,85.4 568.3,85.7 568.6,85.9 568.8,86.1 569,86.4 569.3,86.6 569.5,86.8 569.8,87.1 570,87.3 570.2,87.6 570.5,87.8 570.7,88 571,88.3 571.2,88.5 571.4,88.7 571.7,89 572,260.1 572.5,261.2 572.9,262.2 573.4,262.9 573.9,263.5 574.4,263.9 574.9,264.3 575.3,264.6 575.8,264.8 576.3,265 576.8,265.2 577.3,265.3 577.8,265.4 578.2,265.4 578.7,265.5 579.2,265.5 579.7,265.6 580.2,265.6 580.6,265.6 581.1,265.7 581.6,265.7 582.1,265.7 582.6,265.7 583.1,265.7 583.5,265.7 584,265.7 584.5,265.7 585,265.7 585.5,265.7 585.9,265.7 586.4,265.7 586.9,265.7 587.4,265.7 587.9,265.7 588.3,265.7 588.8,265.7 589.3,265.7 589.8,265.7 590.3,265.7 590.8,265.7 591.2,265.7 591.7,265.7 592.2,265.7 592.7,265.7 593.2,265.7 593.6,265.7 594.1,265.7 594.6,265.7 595.1,265.7 595.6,265.7 596.1,265.7 596.5,265.7 597,265.7 597.5,265.7 598,265.7 598.5,265.7 598.9,265.7 599.4,265.7 599.9,265.7 600.4,265.7 600.5,245.7 600.6,206.6 600.7,182.1 600.8,166.4 601,156.4 601.1,149.7 601.2,145.2 601.3,142 601.4,139.7 601.6,137.8 601.7,136.4 601.8,135.1 601.9,134 602,133 602.2,132.1 602.3,131.3 602.4,130.5 602.5,129.7 602.7,129 602.8,128.4 602.9,127.7 603,127.1 603.1,126.6 603.3,126 603.4,125.5 603.6,124.5 603.9,123.6 604.1,122.8 604.3,122.1 604.6,121.5 604.8,120.9 605.1,120.3 605.3,119.8 605.5,119.4 605.8,119 606,118.6 606.3,118.3 606.5,117.9 606.7,117.7 607,117.4 607.2,117.2 607.5,117 607.7,116.8 607.9,116.6 608.2,116.5 608.4,116.3 608.7,116.2 608.9,116.1 609.2,116 609.4,115.9 609.6,115.8 609.9,115.7 610.1,115.6 610.4,115.6 610.6,115.5 610.8,115.5 611.1,115.4 611.3,115.4 611.6,115.3 611.8,115.3 612,115.3 612.3,115.2 612.5,115.2 612.8,115.2 613,115.1 613.2,115.1 613.5,115.1 613.7,115.1 614,115.1 614.2,115.1 614.4,115 614.7,115 614.9,115 615.2,115 615.4,115 615.7,115 615.9,115 616.1,115 616.4,115 616.6,115 616.9,115 617.1,115 617.3,115 617.6,115 617.8,115 618.1,114.9 618.3,114.9 618.5,114.9 618.8,114.9 619,114.9 619.3,114.9 619.5,114.9 619.7,114.9 620,114.9 620.2,114.9 620.5,114.9 620.7,114.9 620.9,114.9 621.2,114.9 621.4,114.9 621.7,114.9 621.9,114.9 622.2,114.9 622.4,114.9 622.6,114.9 622.9,114.9 623.1,114.9 623.4,114.9 623.6,114.9 623.8,114.9 624.1,114.9 624.3,114.9 624.6,114.9 624.8,114.9 625,114.9 625.3,114.9 625.5,114.9 625.8,114.9 626,114.9 626.2,114.9 626.5,114.9 626.7,114.9 627,114.9 627.2,114.9 627.4,114.9 627.7,114.9 627.9,114.9 628.2,114.9 628.4,114.9 628.7,114.9 628.9,114.9 629.8,260.1 630.2,261.2 630.7,262.2 631.2,262.9 631.7,263.5 632.2,263.9 632.6,264.3 633.1,264.6 633.6,264.8 634.1,265 634.6,265.2 635.1,265.3 635.5,265.4 636,265.4 636.5,265.5 637,265.5 637.5,265.6 637.9,265.6 638.4,265.6 638.9,265.7 639.4,265.7 639.9,265.7 640.4,265.7 640.8,265.7 641.3,265.7 641.8,265.7 642.3,265.7 642.8,265.7 643.2,265.7 643.7,265.7 644.2,265.7 644.7,265.7 645.2,265.7 645.6,265.7 646.1,265.7 646.6,265.7 647.1,265.7 647.6,265.7 648.1,265.7 648.5,265.7 649,265.7 649.5,265.7 650,265.7 650.5,265.7 650.9,265.7 651.4,265.7 651.9,265.7 652.4,265.7 652.9,265.7 653.4,265.7 653.8,265.7 654.3,265.7 654.8,265.7 655.3,265.7 655.8,265.7 656.2,265.7 656.7,265.7 657.2,265.7 657.7,265.7 658.2,265.7 658.3,248 658.4,213.2 658.5,191.3 658.6,177.4 658.7,168.4 658.9,162.5 659,158.5 659.1,155.7 659.2,153.6 659.3,151.9 659.5,150.6 659.6,149.5 659.7,148.5 659.8,147.6 659.9,146.8 660.1,146.1 660.2,145.4 660.3,144.7 660.4,144.1 660.6,143.5 660.7,142.9 660.8,142.4 660.9,141.9 661,141.4 661.2,140.9 661.4,140.1 661.6,139.3 661.9,138.6 662.1,137.9 662.4,137.3 662.6,136.8 662.8,136.3 663.1,135.9 663.3,135.5 663.6,135.1 663.8,134.8 664,134.5 664.3,134.2 664.5,134 664.8,133.7 665,133.5 665.2,133.3 665.5,133.2 665.7,133 666,132.9 666.2,132.8 666.4,132.6 666.7,132.5 666.9,132.4 667.2,132.4 667.4,132.3 667.7,132.2 667.9,132.1 668.1,132.1 668.4,132 668.6,132 668.9,131.9 669.1,131.9 669.3,131.9 669.6,131.8 669.8,131.8 670.1,131.8 670.3,131.7 670.5,131.7 670.8,131.7 671,131.7 671.3,131.7 671.5,131.7 671.7,131.6 672,131.6 672.2,131.6 672.5,131.6 672.7,131.6 672.9,131.6 673.2,131.6 673.4,131.6 673.7,131.6 673.9,131.6 674.2,131.6 674.4,131.5 674.6,131.5 674.9,131.5 675.1,131.5 675.4,131.5 675.6,131.5 675.8,131.5 676.1,131.5 676.3,131.5 676.6,131.5 676.8,131.5 677,131.5 677.3,131.5 677.5,131.5 677.8,131.5 678,131.5 678.2,131.5 678.5,131.5 678.7,131.5 679,131.5 679.2,131.5 679.4,131.5 679.7,131.5 679.9,131.5 680.2,131.5 680.4,131.5 680.7,131.5 680.9,131.5 681.1,131.5 681.4,131.5 681.6,131.5 681.9,131.5 682.1,131.5 682.3,131.5 682.6,131.5 682.8,131.5 683.1,131.5 683.3,131.5 683.5,131.5 683.8,131.5 684,131.5 684.3,131.5 684.5,131.5 684.7,131.5 685,131.5 685.2,131.5 685.5,131.5 685.7,131.5 685.9,131.5 686.2,131.5 686.4,131.5 686.7,131.5 687.5,260.1 688,261.2 688.5,262.2 689,262.9 689.5,263.5 689.9,263.9 690.4,264.3 690.9,264.6 691.4,264.8 691.9,265 692.4,265.2 692.8,265.3 693.3,265.4 693.8,265.4 694.3,265.5 694.8,265.5 695.2,265.6 695.7,265.6 696.2,265.6 696.7,265.7 697.2,265.7 697.7,265.7 698.1,265.7 698.6,265.7 699.1,265.7 699.6,265.7 700.1,265.7 700.5,265.7 701,265.7 701.5,265.7 702,265.7 702.5,265.7 702.9,265.7 703.4,265.7 703.9,265.7 704.4,265.7 704.9,265.7 705.4,265.7 705.8,265.7 706.3,265.7 706.8,265.7 707.3,265.7 707.8,265.7 708.2,265.7 708.7,265.7 709.2,265.7 709.7,265.7 710.2,265.7 710.7,265.7 711.1,265.7 711.6,265.7 712.1,265.7 712.6,265.7 713.1,265.7 713.5,265.7 714,265.7 714.5,265.7 715,265.7 715.5,265.7 715.9,265.7 716,249.7 716.2,217.8 716.3,197.8 716.4,185.1 716.5,176.9 716.6,171.5 716.8,167.8 716.9,165.2 717,163.3 717.1,161.8 717.2,160.6 717.4,159.6 717.5,158.7 717.6,157.9 717.7,157.1 717.8,156.4 718,155.8 718.1,155.2 718.2,154.6 718.3,154.1 718.5,153.6 718.6,153.1 718.7,152.6 718.8,152.2 718.9,151.7 719.2,150.9 719.4,150.2 719.7,149.6 719.9,149 720.1,148.4 720.4,148 720.6,147.5 720.9,147.1 721.1,146.7 721.3,146.4 721.6,146.1 721.8,145.8 722.1,145.6 722.3,145.4 722.5,145.2 722.8,145 723,144.8 723.3,144.6 723.5,144.5 723.7,144.4 724,144.3 724.2,144.2 724.5,144.1 724.7,144 725,143.9 725.2,143.8 725.4,143.8 725.7,143.7 725.9,143.6 726.2,143.6 726.4,143.6 726.6,143.5 726.9,143.5 727.1,143.4 727.4,143.4 727.6,143.4 727.8,143.4 728.1,143.3 728.3,143.3 728.6,143.3 728.8,143.3 729,143.3 729.3,143.3 729.5,143.2 729.8,143.2 730,143.2 730.2,143.2 730.5,143.2 730.7,143.2 731,143.2 731.2,143.2 731.5,143.2 731.7,143.2 731.9,143.2 732.2,143.2 732.4,143.2 732.7,143.2 732.9,143.2 733.1,143.1 733.4,143.1 733.6,143.1 733.9,143.1 734.1,143.1 734.3,143.1 734.6,143.1 734.8,143.1 735.1,143.1 735.3,143.1 735.5,143.1 735.8,143.1 736,143.1 736.3,143.1 736.5,143.1 736.7,143.1 737,143.1 737.2,143.1 737.5,143.1 737.7,143.1 738,143.1 738.2,143.1 738.4,143.1 738.7,143.1 738.9,143.1 739.2,143.1 739.4,143.1 739.6,143.1 739.9,143.1 740.1,143.1 740.4,143.1 740.6,143.1 740.8,143.1 741.1,143.1 741.3,143.1 741.6,143.1 741.8,143.1 742,143.1 742.3,143.1 742.5,143.1 742.8,143.1 743,143.1 743.2,143.1 743.5,143.1 743.7,143.1 744,143.1 744.2,143.1 744.5,143.1 745.3,260.1 745.8,261.2 746.3,262.2 746.8,262.9 747.2,263.5 747.7,263.9 748.2,264.3 748.7,264.6 749.2,264.8 749.7,265 750.1,265.2 750.6,265.3 751.1,265.4 751.6,265.4 752.1,265.5 752.5,265.5 753,265.6 753.5,265.6 754,265.6 754.5,265.7 754.9,265.7 755.4,265.7 755.9,265.7 756.4,265.7 756.9,265.7 757.4,265.7 757.8,265.7 758.3,265.7 758.8,265.7 759.3,265.7 759.8,265.7 760.2,265.7 760.7,265.7 761.2,265.7 761.7,265.7 762.2,265.7 762.7,265.7 763.1,265.7 763.6,265.7 764.1,265.7 764.6,265.7 765.1,265.7 765.5,265.7 766,265.7 766.5,265.7 767,265.7 767.5,265.7 767.9,265.7 768.4,265.7 768.9,265.7 769.4,265.7 769.9,265.7 770.4,265.7 770.8,265.7 771.3,265.7 771.8,265.7 772.3,265.7 772.8,265.7 773.2,265.7 773.7,265.7 773.8,250.6 773.9,220.5 774.1,201.6 774.2,189.6 774.3,181.8 774.4,176.7 774.5,173.2 774.7,170.8 774.8,169 774.9,167.5 775,166.4 775.1,165.4 775.3,164.6 775.4,163.8 775.5,163.1 775.6,162.5 775.7,161.9 775.9,161.3 776,160.8 776.1,160.2 776.2,159.8 776.4,159.3 776.5,158.9 776.6,158.4 776.7,158 777,157.3 777.2,156.6 777.4,156 777.7,155.4 777.9,154.9 778.2,154.5 778.4,154 778.6,153.7 778.9,153.3 779.1,153 779.4,152.7 779.6,152.5 779.8,152.2 780.1,152 780.3,151.8 780.6,151.6 780.8,151.5 781,151.3 781.3,151.2 781.5,151.1 781.8,151 782,150.9 782.2,150.8 782.5,150.7 782.7,150.6 783,150.6 783.2,150.5 783.5,150.4 783.7,150.4 783.9,150.3 784.2,150.3 784.4,150.3 784.7,150.2 784.9,150.2 785.1,150.2 785.4,150.1 785.6,150.1 785.9,150.1 786.1,150.1 786.3,150.1 786.6,150 786.8,150 787.1,150 787.3,150 787.5,150 787.8,150 788,150 788.3,150 788.5,150 788.8,150 789,149.9 789.2,149.9 789.5,149.9 789.7,149.9 790,149.9 790.2,149.9 790.4,149.9 790.7,149.9 790.9,149.9 791.2,149.9 791.4,149.9 791.6,149.9 791.9,149.9 792.1,149.9 792.4,149.9 792.6,149.9 792.8,149.9 793.1,149.9 793.3,149.9 793.6,149.9 793.8,149.9 794,149.9 794.3,149.9 794.5,149.9 794.8,149.9 795,149.9 795.3,149.9 795.5,149.9 795.7,149.9 796,149.9 796.2,149.9 796.5,149.9 796.7,149.9 796.9,149.9 797.2,149.9 797.4,149.9 797.7,149.9 797.9,149.9 798.1,149.9 798.4,149.9 798.6,149.9 798.9,149.9 799.1,149.9 799.3,149.9 799.6,149.9 799.8,149.9 800.1,149.9 800.3,149.9 800.5,149.9 800.8,149.9 801,149.9 801.3,149.9 801.5,149.9 801.8,149.9 802,149.9 802.2,149.9 803.1,260.1 803.6,261.2 804.1,262.2 804.5,262.9 805,263.5 805.5,263.9 806,264.3 806.5,264.6 807,264.8 807.4,265 807.9,265.2 808.4,265.3 808.9,265.4 809.4,265.4 809.8,265.5 810.3,265.5 810.8,265.6 811.3,265.6 811.8,265.6 812.2,265.7 812.7,265.7 813.2,265.7 813.7,265.7 814.2,265.7 814.7,265.7 815.1,265.7 815.6,265.7 816.1,265.7 816.6,265.7 817.1,265.7 817.5,265.7 818,265.7 818.5,265.7 819,265.7 819.5,265.7 820,265.7 820.4,265.7 820.9,265.7 821.4,265.7 821.9,265.7 822.4,265.7 822.8,265.7 823.3,265.7 823.8,265.7 824.3,265.7 824.8,265.7 825.2,265.7 825.7,265.7 826.2,265.7 826.7,265.7 827.2,265.7 827.7,265.7 828.1,265.7 828.6,265.7 829.1,265.7 829.6,265.7 830.1,265.7 830.5,265.7 831,265.7 831.5,265.7 831.6,251.5 831.7,223.1 831.8,205.3 832,193.9 832.1,186.6 832.2,181.7 832.3,178.5 832.4,176.1 832.6,174.4 832.7,173.1 832.8,172 832.9,171.1 833,170.3 833.2,169.6 833.3,168.9 833.4,168.3 833.5,167.7 833.7,167.2 833.8,166.7 833.9,166.2 834,165.8 834.1,165.3 834.3,164.9 834.4,164.5 834.5,164.1 834.7,163.4 835,162.8 835.2,162.2 835.5,161.7 835.7,161.2 835.9,160.7 836.2,160.4 836.4,160 836.7,159.7 836.9,159.4 837.1,159.1 837.4,158.9 837.6,158.6 837.9,158.4 838.1,158.2 838.3,158.1 838.6,157.9 838.8,157.8 839.1,157.7 839.3,157.6 839.5,157.5 839.8,157.4 840,157.3 840.3,157.2 840.5,157.1 840.8,157.1 841,157 841.2,157 841.5,156.9 841.7,156.9 842,156.8 842.2,156.8 842.4,156.8 842.7,156.7 842.9,156.7 843.2,156.7 843.4,156.6 843.6,156.6 843.9,156.6 844.1,156.6 844.4,156.6 844.6,156.6 844.8,156.6 845.1,156.5 845.3,156.5 845.6,156.5 845.8,156.5 846,156.5 846.3,156.5 846.5,156.5 846.8,156.5 847,156.5 847.3,156.5 847.5,156.5 847.7,156.5 848,156.5 848.2,156.5 848.5,156.5 848.7,156.5 848.9,156.5 849.2,156.5 849.4,156.5 849.7,156.4 849.9,156.4 850.1,156.4 850.4,156.4 850.6,156.4 850.9,156.4 851.1,156.4 851.3,156.4 851.6,156.4 851.8,156.4 852.1,156.4 852.3,156.4 852.5,156.4 852.8,156.4 853,156.4 853.3,156.4 853.5,156.4 853.8,156.4 854,156.4 854.2,156.4 854.5,156.4 854.7,156.4 855,156.4 855.2,156.4 855.4,156.4 855.7,156.4 855.9,156.4 856.2,156.4 856.4,156.4 856.6,156.4 856.9,156.4 857.1,156.4 857.4,156.4 857.6,156.4 857.8,156.4 858.1,156.4 858.3,156.4 858.6,156.4 858.8,156.4 859,156.4 859.3,156.4 859.5,156.4 859.8,156.4 860,156.4 860.9,260.1 861.4,261.2 861.8,262.2 862.3,262.9 862.8,263.5 863.3,263.9 863.8,264.3 864.2,264.6 864.7,264.8 865.2,265 865.7,265.2 866.2,265.3 866.7,265.4 867.1,265.4 867.6,265.5 868.1,265.5 868.6,265.6 869.1,265.6 869.5,265.6 870,265.7 870.5,265.7 871,265.7 871.5,265.7 872,265.7 872.4,265.7 872.9,265.7 873.4,265.7 873.9,265.7 874.4,265.7 874.8,265.7 875.3,265.7 875.8,265.7 876.3,265.7 876.8,265.7 877.2,265.7 877.7,265.7 878.2,265.7 878.7,265.7 879.2,265.7 879.7,265.7 880.1,265.7 880.6,265.7 881.1,265.7 881.6,265.7 882.1,265.7 882.5,265.7 883,265.7 883.5,265.7 884,265.7 884.5,265.7 885,265.7 885.4,265.7 885.9,265.7 886.4,265.7 886.9,265.7 887.4,265.7 887.8,265.7 888.3,265.7 888.8,265.7 889.3,265.7 889.4,252.2 889.5,225.1 889.6,208 889.7,197.2 889.9,190.2 890,185.6 890.1,182.4 890.2,180.2 890.3,178.6 890.5,177.3 890.6,176.3 890.7,175.4 890.8,174.7 890.9,174 891.1,173.3 891.2,172.8 891.3,172.2 891.4,171.7 891.6,171.2 891.7,170.7 891.8,170.3 891.9,169.9 892,169.5 892.2,169.1 892.3,168.7 892.5,168.1 892.8,167.5 893,166.9 893.2,166.4 893.5,165.9 893.7,165.5 894,165.1 894.2,164.8 894.4,164.5 894.7,164.2 894.9,163.9 895.2,163.7 895.4,163.5 895.6,163.3 895.9,163.1 896.1,163 896.4,162.8 896.6,162.7 896.8,162.6 897.1,162.5 897.3,162.4 897.6,162.3 897.8,162.2 898.1,162.1 898.3,162.1 898.5,162 898.8,161.9 899,161.9 899.3,161.8 899.5,161.8 899.7,161.8 900,161.7 900.2,161.7 900.5,161.7 900.7,161.6 900.9,161.6 901.2,161.6 901.4,161.6 901.7,161.6 901.9,161.6 902.1,161.5 902.4,161.5 902.6,161.5 902.9,161.5 903.1,161.5 903.3,161.5 903.6,161.5 903.8,161.5 904.1,161.5 904.3,161.5 904.6,161.4 904.8,161.4 905,161.4 905.3,161.4 905.5,161.4 905.8,161.4 906,161.4 906.2,161.4 906.5,161.4 906.7,161.4 907,161.4 907.2,161.4 907.4,161.4 907.7,161.4 907.9,161.4 908.2,161.4 908.4,161.4 908.6,161.4 908.9,161.4 909.1,161.4 909.4,161.4 909.6,161.4 909.8,161.4 910.1,161.4 910.3,161.4 910.6,161.4 910.8,161.4 911.1,161.4 911.3,161.4 911.5,161.4 911.8,161.4 912,161.4 912.3,161.4 912.5,161.4 912.7,161.4 913,161.4 913.2,161.4 913.5,161.4 913.7,161.4 913.9,161.4 914.2,161.4 914.4,161.4 914.7,161.4 914.9,161.4 915.1,161.4 915.4,161.4 915.6,161.4 915.9,161.4 916.1,161.4 916.3,161.4 916.6,161.4 916.8,161.4 917.1,161.4 917.3,161.4 917.6,161.4 917.8,161.4 918,161.4 918.3,161.4 918.5,161.4 918.8,161.4 919,161.4 919.2,161.4 919.5,161.4 919.7,161.4 920,161.4 920.2,161.4 920.4,161.4 920.7,161.4 920.9,161.4 921.2,161.4 921.4,161.4 921.6,161.4 921.9,161.4 922.1,161.4 922.4,161.4 922.6,161.4 922.8,161.4 923.1,161.4 923.3,161.4 923.6,161.4 923.8,161.4 924.1,161.4 924.3,161.4 924.5,161.4 924.8,161.4 925,161.4 925.3,161.4 925.5,161.4 925.7,161.4 926,161.4 926.2,161.4 926.5,161.4 926.7,161.4 926.9,161.4 927.2,161.4 927.4,161.4" fill="none" stroke="#1010d0" stroke-width="4.0" stroke-linejoin="round" stroke-linecap="round" />
</g>
<path d="M639.1 295.5V288.9M735.4 295.5V288.9M831.7 295.5V288.9" stroke="#000" stroke-width="2.4" fill="none"/>
<path d="M590.9 295.5V291.8M687.2 295.5V291.8M783.5 295.5V291.8M879.9 295.5V291.8" stroke="#000" stroke-width="2.4" fill="none"/>
<path d="M542.8 267.2H549.4M542.8 210.8H549.4M542.8 154.4H549.4M542.8 98H549.4M542.8 41.6H549.4" stroke="#000" stroke-width="2.4" fill="none"/>
<path d="M542.8 239H546.5M542.8 182.6H546.5M542.8 126.2H546.5M542.8 69.8H546.5" stroke="#000" stroke-width="2.4" fill="none"/>
<text x="542.8" y="316.4" font-size="17.2" text-anchor="middle" >0</text>
<text x="639.1" y="316.4" font-size="17.2" text-anchor="middle" >100</text>
<text x="735.4" y="316.4" font-size="17.2" text-anchor="middle" >200</text>
<text x="831.7" y="316.4" font-size="17.2" text-anchor="middle" >300</text>
<text x="928" y="316.4" font-size="17.2" text-anchor="middle" >400</text>
<text x="536.3" y="271.8" font-size="17.2" text-anchor="end" >0</text>
<text x="536.3" y="215.4" font-size="17.2" text-anchor="end" >5</text>
<text x="536.3" y="159" font-size="17.2" text-anchor="end" >10</text>
<text x="536.3" y="102.6" font-size="17.2" text-anchor="end" >15</text>
<text x="536.3" y="46.2" font-size="17.2" text-anchor="end" >20</text>
<text x="735.4" y="347.4" font-size="18.5" text-anchor="middle" >Irradiation time (sec)</text>
<text transform="translate(490.3 168) rotate(-90)" font-size="18.5" text-anchor="middle">Current density (&#956;A&#183;cm<tspan font-size="11" dy="-8">-2</tspan><tspan dy="8">)</tspan></text>
<text x="551.2" y="47" font-size="32" text-anchor="start" >(b)</text>
<line x1="770" y1="32.2" x2="804.5" y2="32.2" stroke="#000000" stroke-width="2.6" stroke-linecap="round"/>
<text x="809.2" y="38" font-size="16.1" text-anchor="start" class="lg">Zn<tspan font-size="10.3" dy="5.3">0.5</tspan><tspan dy="-5.3">Cd</tspan><tspan font-size="10.3" dy="5.3">0.5</tspan><tspan dy="-5.3">S</tspan></text>
<line x1="770" y1="57.7" x2="804.5" y2="57.7" stroke="#d81c1c" stroke-width="2.6" stroke-linecap="round"/>
<text x="809.2" y="63.5" font-size="16.1" text-anchor="start" class="lg"><tspan letter-spacing="0.3" font-size="16.1">Pt/</tspan>Zn<tspan font-size="10.3" dy="5.3">0.5</tspan><tspan dy="-5.3">Cd</tspan><tspan font-size="10.3" dy="5.3">0.5</tspan><tspan dy="-5.3">S</tspan></text>
<line x1="770" y1="83.1" x2="804.5" y2="83.1" stroke="#e426dc" stroke-width="2.6" stroke-linecap="round"/>
<text x="809.2" y="88.9" font-size="16.1" text-anchor="start" class="lg"><tspan letter-spacing="0.3" font-size="16.1">Pd/</tspan>Zn<tspan font-size="10.3" dy="5.3">0.5</tspan><tspan dy="-5.3">Cd</tspan><tspan font-size="10.3" dy="5.3">0.5</tspan><tspan dy="-5.3">S</tspan></text>
<line x1="770" y1="108.5" x2="804.5" y2="108.5" stroke="#1010d0" stroke-width="3.4" stroke-linecap="round"/>
<text x="809.2" y="114.3" font-size="16.1" text-anchor="start" class="lg"><tspan letter-spacing="0.3" font-size="16.1">PtPd/</tspan>Zn<tspan font-size="10.3" dy="5.3">0.5</tspan><tspan dy="-5.3">Cd</tspan><tspan font-size="10.3" dy="5.3">0.5</tspan><tspan dy="-5.3">S</tspan></text>
</g>
<g id="panel-c">
<path d="M447 486.9h6.6v6.6h-6.6zM416.2 477.4h6.6v6.6h-6.6zM385.9 470.5h6.6v6.6h-6.6zM351.7 467.9h6.6v6.6h-6.6zM311 470.5h6.6v6.6h-6.6zM271.4 474.9h6.6v6.6h-6.6zM235.3 481h6.6v6.6h-6.6zM203.3 490.8h6.6v6.6h-6.6zM176.6 504.8h6.6v6.6h-6.6zM154.6 520.7h6.6v6.6h-6.6zM138 537.3h6.6v6.6h-6.6zM125.5 551.8h6.6v6.6h-6.6zM116.2 565.1h6.6v6.6h-6.6zM109 577.3h6.6v6.6h-6.6zM103.2 587.5h6.6v6.6h-6.6zM99.4 596.2h6.6v6.6h-6.6zM96.5 603.4h6.6v6.6h-6.6zM94.3 609.2h6.6v6.6h-6.6zM93 614.1h6.6v6.6h-6.6zM92 618.1h6.6v6.6h-6.6zM91.4 621.6h6.6v6.6h-6.6zM90.9 624.5h6.6v6.6h-6.6zM90.6 626.9h6.6v6.6h-6.6zM90.4 628.9h6.6v6.6h-6.6zM90.2 630.6h6.6v6.6h-6.6zM90.1 632.1h6.6v6.6h-6.6zM90 633.3h6.6v6.6h-6.6zM89.9 634.3h6.6v6.6h-6.6zM89.9 635.1h6.6v6.6h-6.6zM89.9 635.8h6.6v6.6h-6.6zM89.8 636.4h6.6v6.6h-6.6zM89.8 637h6.6v6.6h-6.6zM89.8 637.4h6.6v6.6h-6.6zM89.8 637.7h6.6v6.6h-6.6zM89.8 638h6.6v6.6h-6.6zM89.8 638.3h6.6v6.6h-6.6zM89.8 638.5h6.6v6.6h-6.6zM89.8 638.7h6.6v6.6h-6.6zM89.8 638.8h6.6v6.6h-6.6zM89.8 638.9h6.6v6.6h-6.6zM89.8 639h6.6v6.6h-6.6zM89.8 639.1h6.6v6.6h-6.6zM89.8 639.2h6.6v6.6h-6.6z" fill="#000000"/>
<path d="M402.3 545.3a3.5 3.5 0 1 0 7 0a3.5 3.5 0 1 0 -7 0zM385.7 534.2a3.5 3.5 0 1 0 7 0a3.5 3.5 0 1 0 -7 0zM363.4 522a3.5 3.5 0 1 0 7 0a3.5 3.5 0 1 0 -7 0zM340.1 513.9a3.5 3.5 0 1 0 7 0a3.5 3.5 0 1 0 -7 0zM315.2 509.8a3.5 3.5 0 1 0 7 0a3.5 3.5 0 1 0 -7 0zM285.5 508.1a3.5 3.5 0 1 0 7 0a3.5 3.5 0 1 0 -7 0zM256.7 508.9a3.5 3.5 0 1 0 7 0a3.5 3.5 0 1 0 -7 0zM228.4 512.4a3.5 3.5 0 1 0 7 0a3.5 3.5 0 1 0 -7 0zM202.3 519.1a3.5 3.5 0 1 0 7 0a3.5 3.5 0 1 0 -7 0zM178.7 529a3.5 3.5 0 1 0 7 0a3.5 3.5 0 1 0 -7 0zM158.7 540a3.5 3.5 0 1 0 7 0a3.5 3.5 0 1 0 -7 0zM142.2 551a3.5 3.5 0 1 0 7 0a3.5 3.5 0 1 0 -7 0zM129.7 562.6a3.5 3.5 0 1 0 7 0a3.5 3.5 0 1 0 -7 0zM119.5 573.9a3.5 3.5 0 1 0 7 0a3.5 3.5 0 1 0 -7 0zM112.3 583.5a3.5 3.5 0 1 0 7 0a3.5 3.5 0 1 0 -7 0zM105.9 592.2a3.5 3.5 0 1 0 7 0a3.5 3.5 0 1 0 -7 0zM101.5 601a3.5 3.5 0 1 0 7 0a3.5 3.5 0 1 0 -7 0zM97.5 607.7a3.5 3.5 0 1 0 7 0a3.5 3.5 0 1 0 -7 0zM95.2 613.3a3.5 3.5 0 1 0 7 0a3.5 3.5 0 1 0 -7 0zM93.6 618.1a3.5 3.5 0 1 0 7 0a3.5 3.5 0 1 0 -7 0zM92.4 622a3.5 3.5 0 1 0 7 0a3.5 3.5 0 1 0 -7 0zM91.6 625.4a3.5 3.5 0 1 0 7 0a3.5 3.5 0 1 0 -7 0zM91 628.2a3.5 3.5 0 1 0 7 0a3.5 3.5 0 1 0 -7 0zM90.6 630.5a3.5 3.5 0 1 0 7 0a3.5 3.5 0 1 0 -7 0zM90.3 632.5a3.5 3.5 0 1 0 7 0a3.5 3.5 0 1 0 -7 0zM90.1 634.2a3.5 3.5 0 1 0 7 0a3.5 3.5 0 1 0 -7 0zM89.9 635.6a3.5 3.5 0 1 0 7 0a3.5 3.5 0 1 0 -7 0zM89.8 636.7a3.5 3.5 0 1 0 7 0a3.5 3.5 0 1 0 -7 0zM89.8 637.7a3.5 3.5 0 1 0 7 0a3.5 3.5 0 1 0 -7 0zM89.7 638.6a3.5 3.5 0 1 0 7 0a3.5 3.5 0 1 0 -7 0zM89.7 639.3a3.5 3.5 0 1 0 7 0a3.5 3.5 0 1 0 -7 0zM89.7 639.8a3.5 3.5 0 1 0 7 0a3.5 3.5 0 1 0 -7 0zM89.6 640.3a3.5 3.5 0 1 0 7 0a3.5 3.5 0 1 0 -7 0zM89.6 640.7a3.5 3.5 0 1 0 7 0a3.5 3.5 0 1 0 -7 0zM89.6 641.1a3.5 3.5 0 1 0 7 0a3.5 3.5 0 1 0 -7 0zM89.6 641.4a3.5 3.5 0 1 0 7 0a3.5 3.5 0 1 0 -7 0zM89.6 641.6a3.5 3.5 0 1 0 7 0a3.5 3.5 0 1 0 -7 0zM89.6 641.8a3.5 3.5 0 1 0 7 0a3.5 3.5 0 1 0 -7 0zM89.6 642a3.5 3.5 0 1 0 7 0a3.5 3.5 0 1 0 -7 0zM89.6 642.1a3.5 3.5 0 1 0 7 0a3.5 3.5 0 1 0 -7 0zM89.6 642.3a3.5 3.5 0 1 0 7 0a3.5 3.5 0 1 0 -7 0zM89.6 642.4a3.5 3.5 0 1 0 7 0a3.5 3.5 0 1 0 -7 0zM89.6 642.4a3.5 3.5 0 1 0 7 0a3.5 3.5 0 1 0 -7 0zM89.6 642.5a3.5 3.5 0 1 0 7 0a3.5 3.5 0 1 0 -7 0z" fill="#e01515"/>
<path d="M405.8 547.4L409.9 554.4L401.7 554.4zM391.3 536.9L395.4 543.9L387.2 543.9zM374.1 529.7L378.2 536.7L370 536.7zM355 523.3L359.1 530.3L350.9 530.3zM333.2 518.9L337.3 525.9L329.1 525.9zM310.2 516.6L314.3 523.6L306.1 523.6zM284.1 516L288.2 523L280 523zM258.5 516.8L262.6 523.8L254.4 523.8zM232.7 518.9L236.8 525.9L228.6 525.9zM207.2 524.1L211.3 531.1L203.1 531.1zM185.7 531.3L189.8 538.3L181.6 538.3zM168.3 539.8L172.4 546.8L164.2 546.8zM152.9 549.3L157 556.3L148.8 556.3zM140.4 559.5L144.5 566.5L136.3 566.5zM130.6 569.7L134.7 576.7L126.5 576.7zM122.4 579.2L126.5 586.2L118.3 586.2zM116.1 588L120.2 595L112 595zM110.8 595.8L114.9 602.8L106.7 602.8zM105.2 602.7L109.3 609.7L101.1 609.7zM101.7 608.6L105.8 615.6L97.6 615.6zM99.1 613.5L103.2 620.5L95 620.5zM97.4 617.6L101.5 624.6L93.3 624.6zM96.1 621L100.2 628L92 628zM95.2 624L99.3 631L91.1 631zM94.6 626.4L98.7 633.4L90.5 633.4zM94.2 628.4L98.3 635.4L90.1 635.4zM93.8 630.2L97.9 637.2L89.7 637.2zM93.6 631.6L97.7 638.6L89.5 638.6zM93.5 632.8L97.6 639.8L89.4 639.8zM93.4 633.8L97.5 640.8L89.3 640.8zM93.3 634.7L97.4 641.7L89.2 641.7zM93.2 635.4L97.3 642.4L89.1 642.4zM93.2 636L97.3 643L89.1 643zM93.2 636.5L97.3 643.5L89.1 643.5zM93.1 637L97.2 644L89 644zM93.1 637.3L97.2 644.3L89 644.3zM93.1 637.6L97.2 644.6L89 644.6zM93.1 637.9L97.2 644.9L89 644.9zM93.1 638.1L97.2 645.1L89 645.1zM93.1 638.3L97.2 645.3L89 645.3zM93.1 638.4L97.2 645.4L89 645.4zM93.1 638.5L97.2 645.5L89 645.5zM93.1 638.6L97.2 645.6L89 645.6zM93.1 638.7L97.2 645.7L89 645.7zM93.1 638.8L97.2 645.8L89 645.8z" fill="#e426dc"/>
<path d="M384.3 575.1L388.6 567.8L380 567.8zM371.8 568.2L376.1 560.9L367.5 560.9zM358.8 560.3L363.1 553L354.5 553zM344.2 550.7L348.5 543.4L339.9 543.4zM329.1 540.9L333.4 533.6L324.8 533.6zM310.8 535L315.1 527.7L306.5 527.7zM287.6 532.7L291.9 525.4L283.3 525.4zM265.2 532.1L269.5 524.8L260.9 524.8zM241.5 533.5L245.8 526.2L237.2 526.2zM219.7 537L224 529.7L215.4 529.7zM199.4 542L203.7 534.7L195.1 534.7zM179.9 548.6L184.2 541.3L175.6 541.3zM163.1 557.3L167.4 550L158.8 550zM148.6 566.9L152.9 559.6L144.3 559.6zM137 576.2L141.3 568.9L132.7 568.9zM127.7 585.5L132 578.2L123.4 578.2zM119.5 594.2L123.8 586.9L115.2 586.9zM113.7 601.8L118 594.5L109.4 594.5zM107.4 609.1L111.7 601.8L103.1 601.8zM103.2 615.2L107.5 607.9L98.9 607.9zM100.2 620.3L104.5 613L95.9 613zM98.1 624.6L102.4 617.3L93.8 617.3zM96.6 628.2L100.9 620.9L92.3 620.9zM95.6 631.3L99.9 624L91.3 624zM94.9 633.8L99.2 626.5L90.6 626.5zM94.3 635.9L98.6 628.6L90 628.6zM94 637.7L98.3 630.4L89.7 630.4zM93.7 639.3L98 632L89.4 632zM93.5 640.5L97.8 633.2L89.2 633.2zM93.4 641.6L97.7 634.3L89.1 634.3zM93.3 642.5L97.6 635.2L89 635.2zM93.3 643.2L97.6 635.9L89 635.9zM93.2 643.9L97.5 636.6L88.9 636.6zM93.2 644.4L97.5 637.1L88.9 637.1zM93.2 644.9L97.5 637.6L88.9 637.6zM93.1 645.2L97.4 637.9L88.8 637.9zM93.1 645.5L97.4 638.2L88.8 638.2zM93.1 645.8L97.4 638.5L88.8 638.5zM93.1 646L97.4 638.7L88.8 638.7zM93.1 646.2L97.4 638.9L88.8 638.9zM93.1 646.4L97.4 639.1L88.8 639.1zM93.1 646.5L97.4 639.2L88.8 639.2zM93.1 646.6L97.4 639.3L88.8 639.3zM93.1 646.7L97.4 639.4L88.8 639.4zM93.1 646.8L97.4 639.5L88.8 639.5z" fill="#1010d0"/>
<rect x="76" y="374.9" width="384.3" height="282.4" fill="none" stroke="#000" stroke-width="3"/>
<path d="M93.1 657.3V650.7M180.4 657.3V650.7M267.8 657.3V650.7M355.1 657.3V650.7M442.5 657.3V650.7" stroke="#000" stroke-width="2.4" fill="none"/>
<path d="M136.8 657.3V653.6M224.1 657.3V653.6M311.5 657.3V653.6M398.8 657.3V653.6" stroke="#000" stroke-width="2.4" fill="none"/>
<path d="M76 642.9H82.6M76 600.6H82.6M76 558.3H82.6M76 516H82.6M76 473.7H82.6M76 431.4H82.6M76 389.1H82.6" stroke="#000" stroke-width="2.4" fill="none"/>
<path d="M76 621.8H79.7M76 579.4H79.7M76 537.1H79.7M76 494.9H79.7M76 452.5H79.7M76 410.2H79.7" stroke="#000" stroke-width="2.4" fill="none"/>
<text x="93.1" y="677.5" font-size="17.2" text-anchor="middle" >0.0</text>
<text x="180.4" y="677.5" font-size="17.2" text-anchor="middle" >5.0k</text>
<text x="267.8" y="677.5" font-size="17.2" text-anchor="middle" >10.0k</text>
<text x="355.1" y="677.5" font-size="17.2" text-anchor="middle" >15.0k</text>
<text x="442.5" y="677.5" font-size="17.2" text-anchor="middle" >20.0k</text>
<text x="69.4" y="647.5" font-size="17.2" text-anchor="end" >0.0</text>
<text x="69.4" y="605.2" font-size="17.2" text-anchor="end" >3.0k</text>
<text x="69.4" y="562.9" font-size="17.2" text-anchor="end" >6.0k</text>
<text x="69.4" y="520.6" font-size="17.2" text-anchor="end" >9.0k</text>
<text x="69.4" y="478.3" font-size="17.2" text-anchor="end" >12.0k</text>
<text x="69.4" y="436" font-size="17.2" text-anchor="end" >15.0k</text>
<text x="69.4" y="393.7" font-size="17.2" text-anchor="end" >18.0k</text>
<text x="268.1" y="708.5" font-size="18.5" text-anchor="middle" >Z' (ohm)</text>
<text transform="translate(17 528) rotate(-90)" font-size="18.5" text-anchor="middle">-Z'' (ohm)</text>
<text x="86" y="409" font-size="32" text-anchor="start" >(c)</text>
<path d="M327.2 378.7h6.6v6.6h-6.6z" fill="#000000"/>
<path d="M327 406.9a3.5 3.5 0 1 0 7 0a3.5 3.5 0 1 0 -7 0z" fill="#e01515"/>
<path d="M330.5 427.3L334.6 434.3L326.4 434.3z" fill="#e426dc"/>
<path d="M330.5 460.6L334.8 453.3L326.2 453.3z" fill="#1010d0"/>
<text x="350" y="386.8" font-size="14.7" text-anchor="start" class="lg">Zn<tspan font-size="9.4" dy="4.9">0.5</tspan><tspan dy="-4.9">Cd</tspan><tspan font-size="9.4" dy="4.9">0.5</tspan><tspan dy="-4.9">S</tspan></text>
<text x="350" y="411.3" font-size="14.7" text-anchor="start" class="lg"><tspan letter-spacing="0.6" font-size="15.2">Pt/</tspan>Zn<tspan font-size="9.4" dy="4.9">0.5</tspan><tspan dy="-4.9">Cd</tspan><tspan font-size="9.4" dy="4.9">0.5</tspan><tspan dy="-4.9">S</tspan></text>
<text x="350" y="435.8" font-size="14.7" text-anchor="start" class="lg"><tspan letter-spacing="0.6" font-size="15.2">Pd/</tspan>Zn<tspan font-size="9.4" dy="4.9">0.5</tspan><tspan dy="-4.9">Cd</tspan><tspan font-size="9.4" dy="4.9">0.5</tspan><tspan dy="-4.9">S</tspan></text>
<text x="350" y="460.3" font-size="14.7" text-anchor="start" class="lg"><tspan letter-spacing="0.6" font-size="15.2">PtPd/</tspan>Zn<tspan font-size="9.4" dy="4.9">0.5</tspan><tspan dy="-4.9">Cd</tspan><tspan font-size="9.4" dy="4.9">0.5</tspan><tspan dy="-4.9">S</tspan></text>
<path d="M263.9 628.8H281.7L287.9 624.6L300.6 632.4L313.3 624.6L325.7 632.4L336.5 624.6L340.7 628.8H357.3M357.3 616.6H436.3V640.6H425.2L419.6 636.8L408.5 643.9L396.3 636.8L385.1 643.9L374 636.8L368.5 640.6H357.3ZM436.3 628.8H454.1M382.3 608.8L394 616.6L382.3 623.9M387.8 608.8L399.6 616.6L387.8 623.9" fill="none" stroke="#111" stroke-width="1.3" stroke-linejoin="miter"/>
</g>
<g id="panel-d">
<rect x="545" y="374.7" width="384.4" height="282.5" fill="none" stroke="#000" stroke-width="3"/>
<clipPath id="clipD"><rect x="543.5" y="374.7" width="387.4" height="282.5"/></clipPath>
<g clip-path="url(#clipD)">
<polyline points="545,640.1 545.5,640.2 546,640.3 546.5,640.4 547,640.5 547.5,640.6 548,640.7 548.5,640.7 549,640.8 549.5,640.8 550,640.9 550.5,640.9 551,640.9 551.5,640.9 552,640.9 552.5,640.9 553,640.9 553.5,640.9 554,640.9 554.5,640.8 555,640.8 555.5,640.8 556,640.7 556.5,640.7 557,640.6 557.5,640.6 558,640.5 558.5,640.5 559,640.4 559.5,640.4 560,640.3 560.5,640.3 561,640.2 561.5,640.2 562,640.1 562.5,640.1 563,640 563.5,640 564,640 564.5,640 565,639.9 565.5,639.9 566,639.9 566.5,639.9 567,639.9 567.5,639.9 568,640 568.5,640 569,640 569.5,640.1 570,640.1 570.5,640.2 571,640.3 571.5,640.4 572,640.5 572.5,640.6 573,640.7 573.5,640.8 574,640.9 574.5,641 575,641.1 575.5,641.2 576,641.3 576.5,641.4 577,641.4 577.5,641.5 578,641.5 578.5,641.5 579,641.5 579.5,641.4 580,641.4 580.5,641.3 581,641.2 581.5,641.2 582,641.1 582.5,641 583,640.8 583.5,640.7 584,640.6 584.5,640.5 585,640.4 585.5,640.3 586,640.2 586.5,640.1 587,640.1 587.5,640 588,640 588.5,639.9 589,639.9 589.5,639.8 590,639.8 590.5,639.8 591,639.8 591.5,639.8 592,639.8 592.5,639.8 593,639.8 593.5,639.8 594,639.8 594.5,639.8 595,639.9 595.5,639.9 596,639.9 596.5,639.9 597,639.9 597.5,640 598,640 598.5,640 599,640 599.5,640.1 600,640.1 600.5,640.1 601,640.1 601.5,640.2 602,640.2 602.5,640.2 603,640.2 603.5,640.3 604,640.3 604.5,640.3 605,640.3 605.5,640.3 606,640.3 606.5,640.4 607,640.4 607.5,640.4 608,640.4 608.5,640.4 609,640.4 609.5,640.4 610,640.4 610.5,640.4 611,640.4 611.5,640.3 612,640.3 612.5,640.3 613,640.3 613.5,640.3 614,640.2 614.5,640.2 615,640.2 615.5,640.1 616,640.1 616.5,640 617,640 617.5,639.9 618,639.9 618.5,639.8 619,639.8 619.5,639.7 620,639.6 620.5,639.5 621,639.4 621.5,639.4 622,639.3 622.5,639.2 623,639.1 623.5,639 624,638.8 624.5,638.7 625,638.6 625.5,638.6 626,638.5 626.5,638.4 627,638.3 627.5,638.3 628,638.2 628.5,638.2 629,638.2 629.5,638.2 630,638.2 630.5,638.2 631,638.3 631.5,638.4 632,638.4 632.5,638.5 633,638.6 633.5,638.8 634,638.9 634.5,639 635,639.1 635.5,639.2 636,639.3 636.5,639.4 637,639.5 637.5,639.6 638,639.7 638.5,639.8 639,639.9 639.5,639.9 640,640 640.5,640 641,640.1 641.5,640.1 642,640.1 642.5,640.2 643,640.2 643.5,640.2 644,640.2 644.5,640.2 645,640.2 645.5,640.2 646,640.1 646.5,640.1 647,640.1 647.5,640.1 648,640 648.5,640 649,640 649.5,639.9 650,639.9 650.5,639.9 651,639.8 651.5,639.8 652,639.7 652.5,639.7 653,639.6 653.5,639.6 654,639.6 654.5,639.5 655,639.5 655.5,639.5 656,639.5 656.5,639.4 657,639.4 657.5,639.4 658,639.4 658.5,639.4 659,639.4 659.5,639.4 660,639.4 660.5,639.4 661,639.5 661.5,639.5 662,639.6 662.5,639.6 663,639.7 663.5,639.7 664,639.8 664.5,639.8 665,639.9 665.5,640 666,640 666.5,640.1 667,640.2 667.5,640.2 668,640.3 668.5,640.3 669,640.4 669.5,640.4 670,640.5 670.5,640.5 671,640.6 671.5,640.6 672,640.6 672.5,640.6 673,640.6 673.5,640.6 674,640.6 674.5,640.6 675,640.6 675.5,640.6 676,640.5 676.5,640.5 677,640.4 677.5,640.3 678,640.2 678.5,640.1 679,640 679.5,639.9 680,639.8 680.5,639.7 681,639.5 681.5,639.4 682,639.2 682.5,639 683,638.9 683.5,638.7 684,638.6 684.5,638.4 685,638.3 685.5,638.2 686,638.1 686.5,638 687,637.9 687.5,637.8 688,637.8 688.5,637.8 689,637.8 689.5,637.8 690,637.8 690.5,637.8 691,637.9 691.5,637.9 692,638 692.5,638.1 693,638.1 693.5,638.2 694,638.3 694.5,638.4 695,638.5 695.5,638.5 696,638.6 696.5,638.7 697,638.8 697.5,638.8 698,638.9 698.5,638.9 699,638.9 699.5,638.9 700,638.9 700.5,638.9 701,638.9 701.5,638.8 702,638.8 702.5,638.7 703,638.6 703.5,638.4 704,638.3 704.5,638.1 705,637.9 705.5,637.7 706,637.5 706.5,637.3 707,637.2 707.5,637 708,636.8 708.5,636.7 709,636.6 709.5,636.6 710,636.6 710.5,636.7 711,636.8 711.5,637 712,637.3 712.5,637.7 713,638.1 713.5,638.5 714,638.9 714.5,639.4 715,639.9 715.5,640.3 716,640.7 716.5,641.1 717,641.4 717.5,641.7 718,641.8 718.5,641.9 719,641.8 719.5,641.7 720,641.5 720.5,641.3 721,641 721.5,640.7 722,640.4 722.5,640 723,639.7 723.5,639.3 724,639 724.5,638.7 725,638.5 725.5,638.3 726,638.1 726.5,638 727,637.9 727.5,637.8 728,637.7 728.5,637.6 729,637.6 729.5,637.5 730,637.5 730.5,637.4 731,637.4 731.5,637.3 732,637.2 732.5,637.2 733,637.1 733.5,637 734,637 734.5,636.9 735,636.9 735.5,636.8 736,636.8 736.5,636.8 737,636.8 737.5,636.8 738,636.8 738.5,636.8 739,636.8 739.5,636.9 740,636.9 740.5,637 741,637 741.5,637 742,637 742.5,637 743,637 743.5,636.9 744,636.9 744.5,636.7 745,636.6 745.5,636.5 746,636.3 746.5,636.2 747,636 747.5,635.8 748,635.7 748.5,635.5 749,635.4 749.5,635.3 750,635.2 750.5,635.1 751,635.1 751.5,635 752,635 752.5,635 753,635 753.5,635 754,635 754.5,635 755,635 755.5,635 756,634.9 756.5,634.9 757,634.8 757.5,634.7 758,634.5 758.5,634.4 759,634.2 759.5,634.1 760,633.9 760.5,633.7 761,633.6 761.5,633.4 762,633.2 762.5,633.1 763,632.9 763.5,632.8 764,632.7 764.5,632.6 765,632.5 765.5,632.4 766,632.4 766.5,632.3 767,632.2 767.5,632.2 768,632.1 768.5,632.1 769,632.1 769.5,632 770,632 770.5,631.9 771,631.9 771.5,631.9 772,631.8 772.5,631.8 773,631.7 773.5,631.7 774,631.6 774.5,631.6 775,631.5 775.5,631.4 776,631.3 776.5,631.3 777,631.2 777.5,631.1 778,631 778.5,630.9 779,630.8 779.5,630.7 780,630.6 780.5,630.5 781,630.4 781.5,630.3 782,630.2 782.5,630.2 783,630.1 783.5,630 784,630 784.5,629.9 785,629.9 785.5,629.8 786,629.8 786.5,629.8 787,629.8 787.5,629.8 788,629.9 788.5,629.9 789,630 789.5,630.1 790,630.2 790.5,630.3 791,630.5 791.5,630.6 792,630.8 792.5,631.1 793,631.3 793.5,631.6 794,631.8 794.5,632.1 795,632.4 795.5,632.7 796,632.9 796.5,633.2 797,633.4 797.5,633.6 798,633.9 798.5,634 799,634.2 799.5,634.4 800,634.5 800.5,634.7 801,634.8 801.5,634.9 802,635 802.5,635.2 803,635.3 803.5,635.4 804,635.5 804.5,635.7 805,635.8 805.5,635.9 806,636 806.5,636.2 807,636.3 807.5,636.4 808,636.5 808.5,636.6 809,636.7 809.5,636.8 810,637 810.5,637.1 811,637.2 811.5,637.3 812,637.3 812.5,637.4 813,637.5 813.5,637.6 814,637.7 814.5,637.8 815,637.8 815.5,637.9 816,638 816.5,638.1 817,638.1 817.5,638.2 818,638.2 818.5,638.3 819,638.4 819.5,638.4 820,638.5 820.5,638.5 821,638.5 821.5,638.6 822,638.6 822.5,638.6 823,638.7 823.5,638.7 824,638.7 824.5,638.7 825,638.8 825.5,638.8 826,638.8 826.5,638.8 827,638.9 827.5,638.9 828,638.9 828.5,638.9 829,638.9 829.5,639 830,639 830.5,639 831,639.1 831.5,639.1 832,639.1 832.5,639.1 833,639.2 833.5,639.2 834,639.2 834.5,639.3 835,639.3 835.5,639.3 836,639.4 836.5,639.4 837,639.4 837.5,639.5 838,639.5 838.5,639.5 839,639.6 839.5,639.6 840,639.6 840.5,639.6 841,639.7 841.5,639.7 842,639.7 842.5,639.7 843,639.7 843.5,639.8 844,639.8 844.5,639.8 845,639.8 845.5,639.8 846,639.8 846.5,639.8 847,639.8 847.5,639.8 848,639.9 848.5,639.9 849,639.9 849.5,639.9 850,639.9 850.5,639.9 851,639.9 851.5,639.9 852,639.9 852.5,639.9 853,639.9 853.5,639.9 854,639.9 854.5,639.9 855,639.9 855.5,639.9 856,639.9 856.5,639.9 857,639.9 857.5,639.9 858,639.9 858.5,639.9 859,639.9 859.5,639.9 860,639.9 860.5,639.9 861,639.9 861.5,639.9 862,639.9 862.5,639.9 863,639.9 863.5,639.8 864,639.8 864.5,639.8 865,639.8 865.5,639.7 866,639.7 866.5,639.7 867,639.7 867.5,639.6 868,639.6 868.5,639.6 869,639.6 869.5,639.5 870,639.5 870.5,639.5 871,639.5 871.5,639.5 872,639.5 872.5,639.5 873,639.6 873.5,639.6 874,639.7 874.5,639.7 875,639.8 875.5,639.9 876,640 876.5,640.1 877,640.2 877.5,640.4 878,640.5 878.5,640.6 879,640.8 879.5,640.9 880,641 880.5,641.1 881,641.2 881.5,641.3 882,641.3 882.5,641.4 883,641.4 883.5,641.3 884,641.3 884.5,641.3 885,641.2 885.5,641.1 886,641 886.5,640.9 887,640.8 887.5,640.7 888,640.6 888.5,640.5 889,640.4 889.5,640.3 890,640.2 890.5,640.1 891,640 891.5,639.9 892,639.8 892.5,639.7 893,639.7 893.5,639.6 894,639.6 894.5,639.5 895,639.5 895.5,639.5 896,639.5 896.5,639.5 897,639.5 897.5,639.5 898,639.5 898.5,639.5 899,639.6 899.5,639.6 900,639.6 900.5,639.7 901,639.7 901.5,639.8 902,639.8 902.5,639.8 903,639.9 903.5,639.9 904,639.9 904.5,639.9 905,640 905.5,640 906,640 906.5,640 907,640 907.5,640 908,640 908.5,640 909,640 909.5,639.9 910,639.9 910.5,639.9 911,639.9 911.5,639.9 912,639.8 912.5,639.8 913,639.8 913.5,639.8 914,639.7 914.5,639.7 915,639.7 915.5,639.7 916,639.6 916.5,639.6 917,639.6 917.5,639.5 918,639.5 918.5,639.5 919,639.5 919.5,639.5 920,639.4 920.5,639.4 921,639.4 921.5,639.4 922,639.4 922.5,639.4 923,639.4 923.5,639.4 924,639.4 924.5,639.4 925,639.4 925.5,639.4 926,639.5 926.5,639.5 927,639.5 927.5,639.6 928,639.6 928.5,639.7 929,639.7 929.4,639.8" fill="none" stroke="#000000" stroke-width="2.8" stroke-linejoin="round" stroke-linecap="round" />
<polyline points="545,640.4 545.5,640.7 546,640.9 546.5,641.1 547,641.2 547.5,641.2 548,641.3 548.5,641.2 549,641.2 549.5,641.1 550,641 550.5,640.8 551,640.7 551.5,640.5 552,640.3 552.5,640.1 553,639.9 553.5,639.7 554,639.6 554.5,639.4 555,639.2 555.5,639.1 556,639 556.5,638.9 557,638.8 557.5,638.8 558,638.8 558.5,638.9 559,639 559.5,639.1 560,639.2 560.5,639.4 561,639.6 561.5,639.8 562,640 562.5,640.1 563,640.3 563.5,640.5 564,640.6 564.5,640.8 565,640.9 565.5,640.9 566,641 566.5,641 567,641 567.5,641.1 568,641 568.5,641 569,641 569.5,641 570,640.9 570.5,640.9 571,640.8 571.5,640.8 572,640.7 572.5,640.7 573,640.6 573.5,640.6 574,640.5 574.5,640.5 575,640.4 575.5,640.3 576,640.2 576.5,640.2 577,640.1 577.5,640 578,639.9 578.5,639.8 579,639.7 579.5,639.6 580,639.5 580.5,639.4 581,639.4 581.5,639.3 582,639.3 582.5,639.2 583,639.3 583.5,639.3 584,639.3 584.5,639.4 585,639.5 585.5,639.6 586,639.8 586.5,639.9 587,640.1 587.5,640.2 588,640.4 588.5,640.5 589,640.7 589.5,640.8 590,641 590.5,641.1 591,641.2 591.5,641.2 592,641.3 592.5,641.3 593,641.3 593.5,641.3 594,641.2 594.5,641.2 595,641.1 595.5,641.1 596,641 596.5,640.9 597,640.8 597.5,640.7 598,640.6 598.5,640.5 599,640.3 599.5,640.2 600,640.1 600.5,640 601,639.9 601.5,639.8 602,639.7 602.5,639.6 603,639.5 603.5,639.4 604,639.4 604.5,639.3 605,639.3 605.5,639.3 606,639.3 606.5,639.3 607,639.3 607.5,639.4 608,639.4 608.5,639.5 609,639.6 609.5,639.6 610,639.7 610.5,639.8 611,639.9 611.5,640 612,640.1 612.5,640.2 613,640.3 613.5,640.4 614,640.5 614.5,640.6 615,640.6 615.5,640.7 616,640.7 616.5,640.8 617,640.8 617.5,640.8 618,640.9 618.5,640.9 619,641 619.5,641 620,641 620.5,641.1 621,641.2 621.5,641.3 622,641.4 622.5,641.5 623,641.6 623.5,641.7 624,641.8 624.5,641.9 625,642 625.5,642.1 626,642.2 626.5,642.2 627,642.2 627.5,642.2 628,642.2 628.5,642.1 629,641.9 629.5,641.7 630,641.5 630.5,641.3 631,641 631.5,640.8 632,640.5 632.5,640.3 633,640 633.5,639.8 634,639.6 634.5,639.5 635,639.4 635.5,639.3 636,639.3 636.5,639.3 637,639.3 637.5,639.4 638,639.5 638.5,639.6 639,639.7 639.5,639.8 640,640 640.5,640.1 641,640.2 641.5,640.4 642,640.5 642.5,640.6 643,640.6 643.5,640.7 644,640.7 644.5,640.8 645,640.8 645.5,640.8 646,640.7 646.5,640.7 647,640.6 647.5,640.5 648,640.5 648.5,640.3 649,640.2 649.5,640.1 650,639.9 650.5,639.8 651,639.6 651.5,639.4 652,639.2 652.5,639 653,638.8 653.5,638.7 654,638.5 654.5,638.4 655,638.2 655.5,638.1 656,638 656.5,638 657,638 657.5,638 658,638.1 658.5,638.2 659,638.3 659.5,638.5 660,638.7 660.5,638.9 661,639.1 661.5,639.3 662,639.5 662.5,639.7 663,639.9 663.5,640.1 664,640.2 664.5,640.3 665,640.4 665.5,640.4 666,640.4 666.5,640.3 667,640.3 667.5,640.2 668,640 668.5,639.9 669,639.7 669.5,639.5 670,639.3 670.5,639 671,638.7 671.5,638.4 672,638.2 672.5,637.9 673,637.7 673.5,637.5 674,637.4 674.5,637.4 675,637.5 675.5,637.6 676,637.8 676.5,638 677,638.3 677.5,638.6 678,638.8 678.5,639.1 679,639.3 679.5,639.4 680,639.5 680.5,639.5 681,639.5 681.5,639.4 682,639.3 682.5,639.1 683,639 683.5,638.8 684,638.6 684.5,638.5 685,638.3 685.5,638.2 686,638.2 686.5,638.2 687,638.2 687.5,638.2 688,638.3 688.5,638.4 689,638.6 689.5,638.7 690,638.9 690.5,639.1 691,639.2 691.5,639.4 692,639.5 692.5,639.6 693,639.7 693.5,639.8 694,639.9 694.5,639.9 695,639.9 695.5,639.9 696,639.8 696.5,639.7 697,639.6 697.5,639.5 698,639.3 698.5,639.1 699,638.8 699.5,638.6 700,638.3 700.5,638 701,637.6 701.5,637.3 702,637 702.5,636.6 703,636.3 703.5,636 704,635.7 704.5,635.5 705,635.3 705.5,635.1 706,635 706.5,634.9 707,634.9 707.5,634.9 708,635 708.5,635.2 709,635.4 709.5,635.6 710,635.8 710.5,636.1 711,636.4 711.5,636.7 712,637 712.5,637.2 713,637.5 713.5,637.7 714,637.8 714.5,638 715,638.1 715.5,638.2 716,638.3 716.5,638.3 717,638.3 717.5,638.3 718,638.3 718.5,638.2 719,638.2 719.5,638.1 720,638 720.5,637.8 721,637.7 721.5,637.5 722,637.4 722.5,637.2 723,637.1 723.5,636.9 724,636.8 724.5,636.7 725,636.7 725.5,636.6 726,636.6 726.5,636.6 727,636.6 727.5,636.6 728,636.6 728.5,636.6 729,636.6 729.5,636.6 730,636.6 730.5,636.6 731,636.6 731.5,636.5 732,636.5 732.5,636.4 733,636.3 733.5,636.2 734,636.1 734.5,636 735,635.9 735.5,635.9 736,635.8 736.5,635.7 737,635.7 737.5,635.6 738,635.6 738.5,635.6 739,635.6 739.5,635.6 740,635.6 740.5,635.6 741,635.5 741.5,635.4 742,635.3 742.5,635.1 743,634.9 743.5,634.7 744,634.4 744.5,634.1 745,633.8 745.5,633.6 746,633.3 746.5,633.2 747,633 747.5,633 748,633 748.5,633.1 749,633.2 749.5,633.4 750,633.5 750.5,633.7 751,633.9 751.5,634.1 752,634.3 752.5,634.4 753,634.4 753.5,634.4 754,634.4 754.5,634.3 755,634.2 755.5,634 756,633.8 756.5,633.6 757,633.3 757.5,633.1 758,632.8 758.5,632.5 759,632.3 759.5,632 760,631.7 760.5,631.3 761,631 761.5,630.7 762,630.4 762.5,630.1 763,629.7 763.5,629.4 764,629 764.5,628.7 765,628.5 765.5,628.2 766,628.1 766.5,628 767,627.9 767.5,628 768,628.1 768.5,628.2 769,628.4 769.5,628.6 770,628.9 770.5,629.1 771,629.3 771.5,629.5 772,629.7 772.5,629.8 773,629.9 773.5,629.9 774,629.9 774.5,629.9 775,629.8 775.5,629.6 776,629.5 776.5,629.3 777,629.2 777.5,629 778,628.8 778.5,628.6 779,628.5 779.5,628.3 780,628.1 780.5,627.9 781,627.7 781.5,627.5 782,627.3 782.5,627.1 783,626.8 783.5,626.6 784,626.4 784.5,626.1 785,625.8 785.5,625.6 786,625.3 786.5,625.1 787,624.9 787.5,624.8 788,624.7 788.5,624.8 789,625 789.5,625.3 790,625.6 790.5,626 791,626.5 791.5,627 792,627.5 792.5,628 793,628.4 793.5,628.9 794,629.3 794.5,629.7 795,630.2 795.5,630.6 796,631 796.5,631.4 797,631.8 797.5,632.2 798,632.6 798.5,633 799,633.3 799.5,633.6 800,633.9 800.5,634.2 801,634.4 801.5,634.6 802,634.7 802.5,634.8 803,634.8 803.5,634.8 804,634.7 804.5,634.5 805,634.2 805.5,634 806,633.7 806.5,633.4 807,633.1 807.5,632.8 808,632.5 808.5,632.4 809,632.2 809.5,632.2 810,632.2 810.5,632.4 811,632.6 811.5,632.9 812,633.2 812.5,633.6 813,633.9 813.5,634.3 814,634.7 814.5,635.1 815,635.4 815.5,635.7 816,636 816.5,636.2 817,636.3 817.5,636.5 818,636.5 818.5,636.6 819,636.6 819.5,636.7 820,636.7 820.5,636.7 821,636.7 821.5,636.7 822,636.8 822.5,636.8 823,636.9 823.5,637 824,637 824.5,637.1 825,637.2 825.5,637.3 826,637.4 826.5,637.5 827,637.6 827.5,637.6 828,637.7 828.5,637.8 829,637.8 829.5,637.9 830,637.9 830.5,637.9 831,637.9 831.5,637.9 832,637.8 832.5,637.8 833,637.7 833.5,637.6 834,637.4 834.5,637.3 835,637.1 835.5,636.9 836,636.7 836.5,636.4 837,636.2 837.5,635.9 838,635.7 838.5,635.4 839,635.2 839.5,635 840,634.9 840.5,634.9 841,634.9 841.5,635 842,635.1 842.5,635.3 843,635.6 843.5,635.9 844,636.2 844.5,636.6 845,636.9 845.5,637.3 846,637.6 846.5,638 847,638.2 847.5,638.5 848,638.8 848.5,639 849,639.2 849.5,639.4 850,639.6 850.5,639.7 851,639.9 851.5,640 852,640.1 852.5,640.2 853,640.2 853.5,640.3 854,640.4 854.5,640.4 855,640.4 855.5,640.5 856,640.5 856.5,640.5 857,640.5 857.5,640.5 858,640.4 858.5,640.4 859,640.4 859.5,640.3 860,640.3 860.5,640.2 861,640.2 861.5,640.1 862,640.1 862.5,640 863,640 863.5,639.9 864,639.9 864.5,639.8 865,639.8 865.5,639.7 866,639.7 866.5,639.6 867,639.6 867.5,639.6 868,639.6 868.5,639.6 869,639.6 869.5,639.6 870,639.6 870.5,639.7 871,639.7 871.5,639.7 872,639.8 872.5,639.8 873,639.9 873.5,639.9 874,640 874.5,640 875,640 875.5,640.1 876,640.1 876.5,640.2 877,640.2 877.5,640.2 878,640.2 878.5,640.2 879,640.2 879.5,640.2 880,640.2 880.5,640.2 881,640.2 881.5,640.1 882,640.1 882.5,640.1 883,640 883.5,640 884,639.9 884.5,639.9 885,639.9 885.5,639.8 886,639.8 886.5,639.7 887,639.7 887.5,639.6 888,639.6 888.5,639.6 889,639.5 889.5,639.5 890,639.5 890.5,639.4 891,639.4 891.5,639.4 892,639.4 892.5,639.4 893,639.4 893.5,639.5 894,639.5 894.5,639.5 895,639.5 895.5,639.5 896,639.6 896.5,639.6 897,639.6 897.5,639.7 898,639.7 898.5,639.8 899,639.8 899.5,639.8 900,639.9 900.5,639.9 901,639.9 901.5,640 902,640 902.5,640 903,640 903.5,640.1 904,640.1 904.5,640.1 905,640.1 905.5,640.1 906,640.1 906.5,640.1 907,640.1 907.5,640.1 908,640.1 908.5,640 909,640 909.5,640 910,640 910.5,640 911,639.9 911.5,639.9 912,639.9 912.5,639.8 913,639.8 913.5,639.8 914,639.8 914.5,639.7 915,639.7 915.5,639.7 916,639.6 916.5,639.6 917,639.6 917.5,639.5 918,639.5 918.5,639.5 919,639.5 919.5,639.5 920,639.4 920.5,639.4 921,639.4 921.5,639.4 922,639.4 922.5,639.4 923,639.4 923.5,639.4 924,639.4 924.5,639.4 925,639.4 925.5,639.4 926,639.5 926.5,639.5 927,639.5 927.5,639.6 928,639.6 928.5,639.6 929,639.7 929.4,639.8" fill="none" stroke="#d81c1c" stroke-width="2.8" stroke-linejoin="round" stroke-linecap="round" />
<polyline points="545,640.6 545.5,640.6 546,640.6 546.5,640.6 547,640.6 547.5,640.6 548,640.6 548.5,640.6 549,640.6 549.5,640.6 550,640.6 550.5,640.6 551,640.6 551.5,640.6 552,640.6 552.5,640.6 553,640.6 553.5,640.6 554,640.6 554.5,640.6 555,640.6 555.5,640.6 556,640.6 556.5,640.6 557,640.6 557.5,640.6 558,640.5 558.5,640.5 559,640.5 559.5,640.5 560,640.5 560.5,640.5 561,640.5 561.5,640.5 562,640.5 562.5,640.5 563,640.5 563.5,640.5 564,640.5 564.5,640.5 565,640.5 565.5,640.5 566,640.5 566.5,640.5 567,640.4 567.5,640.4 568,640.4 568.5,640.4 569,640.4 569.5,640.4 570,640.4 570.5,640.4 571,640.4 571.5,640.4 572,640.3 572.5,640.3 573,640.3 573.5,640.3 574,640.2 574.5,640.2 575,640.2 575.5,640.1 576,640.1 576.5,640.1 577,640 577.5,640 578,639.9 578.5,639.9 579,639.8 579.5,639.8 580,639.7 580.5,639.7 581,639.6 581.5,639.5 582,639.5 582.5,639.4 583,639.3 583.5,639.2 584,639.1 584.5,639 585,638.8 585.5,638.7 586,638.6 586.5,638.4 587,638.3 587.5,638.1 588,638 588.5,637.8 589,637.7 589.5,637.5 590,637.4 590.5,637.2 591,637.1 591.5,636.9 592,636.7 592.5,636.6 593,636.4 593.5,636.2 594,636 594.5,635.8 595,635.6 595.5,635.4 596,635.2 596.5,635 597,634.8 597.5,634.6 598,634.4 598.5,634.2 599,634 599.5,633.8 600,633.6 600.5,633.5 601,633.3 601.5,633.1 602,632.9 602.5,632.7 603,632.5 603.5,632.4 604,632.2 604.5,632 605,631.8 605.5,631.6 606,631.5 606.5,631.3 607,631.1 607.5,630.9 608,630.8 608.5,630.6 609,630.4 609.5,630.3 610,630.1 610.5,629.9 611,629.8 611.5,629.6 612,629.4 612.5,629.3 613,629.1 613.5,629 614,628.8 614.5,628.6 615,628.5 615.5,628.3 616,628.2 616.5,628 617,627.9 617.5,627.7 618,627.6 618.5,627.5 619,627.3 619.5,627.2 620,627.1 620.5,627 621,626.9 621.5,626.8 622,626.7 622.5,626.6 623,626.4 623.5,626.3 624,626.2 624.5,626.1 625,626 625.5,625.9 626,625.8 626.5,625.8 627,625.7 627.5,625.6 628,625.6 628.5,625.5 629,625.5 629.5,625.4 630,625.4 630.5,625.4 631,625.4 631.5,625.4 632,625.4 632.5,625.4 633,625.4 633.5,625.5 634,625.5 634.5,625.5 635,625.6 635.5,625.6 636,625.6 636.5,625.7 637,625.7 637.5,625.7 638,625.8 638.5,625.8 639,625.9 639.5,625.9 640,626 640.5,626 641,626.1 641.5,626.1 642,626.2 642.5,626.3 643,626.4 643.5,626.5 644,626.6 644.5,626.7 645,626.9 645.5,627 646,627.1 646.5,627.3 647,627.4 647.5,627.5 648,627.7 648.5,627.8 649,627.9 649.5,628 650,628.1 650.5,628.1 651,628.2 651.5,628.2 652,628.2 652.5,628.2 653,628.2 653.5,628.1 654,628.1 654.5,628 655,628 655.5,627.9 656,627.9 656.5,627.8 657,627.7 657.5,627.6 658,627.5 658.5,627.4 659,627.3 659.5,627.2 660,627.1 660.5,627 661,626.9 661.5,626.9 662,626.8 662.5,626.7 663,626.6 663.5,626.5 664,626.4 664.5,626.3 665,626.2 665.5,626.1 666,626 666.5,625.9 667,625.8 667.5,625.7 668,625.6 668.5,625.5 669,625.4 669.5,625.3 670,625.2 670.5,625.1 671,624.9 671.5,624.8 672,624.7 672.5,624.6 673,624.5 673.5,624.4 674,624.3 674.5,624.1 675,624 675.5,623.9 676,623.8 676.5,623.7 677,623.5 677.5,623.4 678,623.3 678.5,623.2 679,623.1 679.5,623 680,622.9 680.5,622.8 681,622.7 681.5,622.6 682,622.5 682.5,622.4 683,622.3 683.5,622.1 684,622 684.5,621.9 685,621.8 685.5,621.7 686,621.5 686.5,621.4 687,621.3 687.5,621.1 688,621 688.5,620.8 689,620.6 689.5,620.4 690,620.3 690.5,620.1 691,619.8 691.5,619.6 692,619.3 692.5,619 693,618.7 693.5,618.4 694,618 694.5,617.7 695,617.3 695.5,616.9 696,616.5 696.5,616.1 697,615.7 697.5,615.2 698,614.8 698.5,614.3 699,613.8 699.5,613.2 700,612.6 700.5,611.9 701,611.3 701.5,610.5 702,609.8 702.5,609.1 703,608.3 703.5,607.6 704,606.9 704.5,606.2 705,605.5 705.5,604.8 706,604.1 706.5,603.4 707,602.7 707.5,602 708,601.3 708.5,600.6 709,599.9 709.5,599.3 710,598.7 710.5,598.1 711,597.6 711.5,597.1 712,596.7 712.5,596.2 713,595.8 713.5,595.4 714,595 714.5,594.6 715,594.2 715.5,593.9 716,593.5 716.5,593.2 717,592.8 717.5,592.5 718,592.2 718.5,591.8 719,591.5 719.5,591.2 720,590.8 720.5,590.5 721,590.2 721.5,589.9 722,589.6 722.5,589.4 723,589.1 723.5,588.8 724,588.6 724.5,588.3 725,588 725.5,587.8 726,587.5 726.5,587.2 727,586.9 727.5,586.6 728,586.3 728.5,586 729,585.6 729.5,585.3 730,584.9 730.5,584.4 731,584 731.5,583.6 732,583.1 732.5,582.6 733,582 733.5,581.4 734,580.8 734.5,580.2 735,579.5 735.5,578.8 736,578.1 736.5,577.3 737,576.4 737.5,575.5 738,574.4 738.5,573.2 739,572 739.5,570.7 740,569.4 740.5,568 741,566.6 741.5,565.2 742,563.8 742.5,562.5 743,561.1 743.5,559.8 744,558.3 744.5,556.8 745,555.3 745.5,553.8 746,552.3 746.5,550.9 747,549.5 747.5,548.2 748,547 748.5,546 749,544.9 749.5,543.8 750,542.8 750.5,541.9 751,541 751.5,540.3 752,539.7 752.5,539.3 753,539 753.5,538.7 754,538.5 754.5,538.3 755,538.2 755.5,538.1 756,538.1 756.5,538.3 757,538.6 757.5,538.9 758,539.3 758.5,539.7 759,540.1 759.5,540.4 760,540.7 760.5,540.9 761,540.9 761.5,540.8 762,540.7 762.5,540.5 763,540.3 763.5,540.1 764,539.8 764.5,539.6 765,539.4 765.5,539.3 766,539.2 766.5,539.2 767,539.2 767.5,539.2 768,539.2 768.5,539.2 769,539.2 769.5,539.2 770,539.2 770.5,539.2 771,539.4 771.5,539.8 772,540.5 772.5,541.3 773,542.2 773.5,543.2 774,544.2 774.5,545.2 775,546.2 775.5,547.3 776,548.4 776.5,549.7 777,551.1 777.5,552.5 778,553.9 778.5,555.5 779,557 779.5,558.7 780,560.3 780.5,561.9 781,563.6 781.5,565.3 782,567.1 782.5,569 783,570.9 783.5,572.9 784,574.9 784.5,577 785,579.1 785.5,581.2 786,583.3 786.5,585.3 787,587.4 787.5,589.4 788,591.4 788.5,593.5 789,595.6 789.5,597.7 790,599.9 790.5,601.9 791,604 791.5,605.9 792,607.8 792.5,609.5 793,611.2 793.5,612.8 794,614.5 794.5,616.1 795,617.6 795.5,619.1 796,620.5 796.5,621.8 797,623 797.5,624.1 798,625 798.5,625.8 799,626.6 799.5,627.3 800,628 800.5,628.6 801,629.2 801.5,629.8 802,630.3 802.5,630.8 803,631.3 803.5,631.8 804,632.2 804.5,632.6 805,632.9 805.5,633.3 806,633.6 806.5,633.9 807,634.2 807.5,634.5 808,634.8 808.5,635.1 809,635.3 809.5,635.5 810,635.7 810.5,635.9 811,636.1 811.5,636.3 812,636.4 812.5,636.6 813,636.8 813.5,636.9 814,637.1 814.5,637.3 815,637.4 815.5,637.6 816,637.7 816.5,637.8 817,638 817.5,638.1 818,638.2 818.5,638.3 819,638.4 819.5,638.5 820,638.6 820.5,638.7 821,638.8 821.5,638.9 822,638.9 822.5,638.9 823,639 823.5,639 824,639 824.5,639 825,639 825.5,639.1 826,639.1 826.5,639.1 827,639.1 827.5,639.1 828,639.1 828.5,639.1 829,639.2 829.5,639.2 830,639.2 830.5,639.2 831,639.2 831.5,639.2 832,639.2 832.5,639.2 833,639.2 833.5,639.3 834,639.3 834.5,639.3 835,639.3 835.5,639.3 836,639.3 836.5,639.3 837,639.3 837.5,639.3 838,639.3 838.5,639.3 839,639.3 839.5,639.4 840,639.4 840.5,639.4 841,639.4 841.5,639.4 842,639.4 842.5,639.4 843,639.4 843.5,639.4 844,639.4 844.5,639.4 845,639.4 845.5,639.4 846,639.4 846.5,639.4 847,639.4 847.5,639.4 848,639.5 848.5,639.5 849,639.5 849.5,639.5 850,639.5 850.5,639.5 851,639.5 851.5,639.5 852,639.5 852.5,639.5 853,639.5 853.5,639.5 854,639.5 854.5,639.5 855,639.5 855.5,639.5 856,639.5 856.5,639.5 857,639.5 857.5,639.5 858,639.5 858.5,639.5 859,639.5 859.5,639.5 860,639.5 860.5,639.5 861,639.5 861.5,639.5 862,639.5 862.5,639.5 863,639.5 863.5,639.5 864,639.5 864.5,639.5 865,639.5 865.5,639.5 866,639.5 866.5,639.5 867,639.5 867.5,639.5 868,639.5 868.5,639.5 869,639.5 869.5,639.5 870,639.5 870.5,639.5 871,639.5 871.5,639.5 872,639.5 872.5,639.5 873,639.5 873.5,639.5 874,639.5 874.5,639.5 875,639.5 875.5,639.5 876,639.5 876.5,639.5 877,639.5 877.5,639.5 878,639.5 878.5,639.5 879,639.5 879.5,639.5 880,639.5 880.5,639.5 881,639.5 881.5,639.5 882,639.5 882.5,639.5 883,639.5 883.5,639.5 884,639.5 884.5,639.5 885,639.5 885.5,639.5 886,639.5 886.5,639.5 887,639.5 887.5,639.5 888,639.5 888.5,639.5 889,639.5 889.5,639.5 890,639.5 890.5,639.5 891,639.5 891.5,639.5 892,639.5 892.5,639.5 893,639.5 893.5,639.5 894,639.5 894.5,639.5 895,639.5 895.5,639.5 896,639.5 896.5,639.5 897,639.5 897.5,639.5 898,639.5 898.5,639.5 899,639.5 899.5,639.5 900,639.5 900.5,639.5 901,639.5 901.5,639.5 902,639.5 902.5,639.5 903,639.5 903.5,639.5 904,639.5 904.5,639.5 905,639.5 905.5,639.5 906,639.5 906.5,639.5 907,639.5 907.5,639.5 908,639.5 908.5,639.5 909,639.5 909.5,639.5 910,639.5 910.5,639.5 911,639.5 911.5,639.5 912,639.5 912.5,639.5 913,639.5 913.5,639.5 914,639.5 914.5,639.5 915,639.4 915.5,639.4 916,639.4 916.5,639.4 917,639.4 917.5,639.4 918,639.4 918.5,639.4 919,639.4 919.5,639.4 920,639.4 920.5,639.4 921,639.4 921.5,639.4 922,639.4 922.5,639.4 923,639.4 923.5,639.4 924,639.4 924.5,639.4 925,639.4 925.5,639.4 926,639.4 926.5,639.4 927,639.4 927.5,639.4 928,639.4 928.5,639.4 929,639.4 929.2,639.4" fill="none" stroke="#e426dc" stroke-width="2.9" stroke-linejoin="round" stroke-linecap="round" />
<polyline points="545,640.6 545.5,640.6 546,640.6 546.5,640.6 547,640.6 547.5,640.6 548,640.6 548.5,640.6 549,640.6 549.5,640.6 550,640.6 550.5,640.6 551,640.6 551.5,640.6 552,640.6 552.5,640.6 553,640.6 553.5,640.6 554,640.6 554.5,640.6 555,640.6 555.5,640.6 556,640.6 556.5,640.6 557,640.6 557.5,640.6 558,640.5 558.5,640.5 559,640.5 559.5,640.5 560,640.5 560.5,640.5 561,640.5 561.5,640.5 562,640.5 562.5,640.5 563,640.5 563.5,640.5 564,640.5 564.5,640.5 565,640.5 565.5,640.5 566,640.5 566.5,640.5 567,640.4 567.5,640.4 568,640.4 568.5,640.4 569,640.4 569.5,640.4 570,640.4 570.5,640.4 571,640.4 571.5,640.4 572,640.3 572.5,640.3 573,640.3 573.5,640.3 574,640.2 574.5,640.2 575,640.2 575.5,640.1 576,640.1 576.5,640 577,640 577.5,640 578,639.9 578.5,639.9 579,639.8 579.5,639.8 580,639.7 580.5,639.7 581,639.6 581.5,639.5 582,639.5 582.5,639.4 583,639.3 583.5,639.2 584,639.1 584.5,639 585,638.9 585.5,638.8 586,638.7 586.5,638.5 587,638.4 587.5,638.3 588,638.1 588.5,638 589,637.9 589.5,637.7 590,637.6 590.5,637.5 591,637.3 591.5,637.2 592,637 592.5,636.8 593,636.7 593.5,636.5 594,636.3 594.5,636.1 595,635.9 595.5,635.8 596,635.6 596.5,635.4 597,635.2 597.5,635 598,634.9 598.5,634.7 599,634.5 599.5,634.4 600,634.2 600.5,634.1 601,633.9 601.5,633.7 602,633.6 602.5,633.4 603,633.3 603.5,633.1 604,633 604.5,632.8 605,632.7 605.5,632.5 606,632.4 606.5,632.2 607,632.1 607.5,631.9 608,631.8 608.5,631.7 609,631.5 609.5,631.4 610,631.2 610.5,631.1 611,630.9 611.5,630.8 612,630.6 612.5,630.5 613,630.3 613.5,630.2 614,630 614.5,629.8 615,629.7 615.5,629.5 616,629.3 616.5,629.2 617,629 617.5,628.9 618,628.8 618.5,628.6 619,628.5 619.5,628.5 620,628.4 620.5,628.3 621,628.3 621.5,628.3 622,628.2 622.5,628.2 623,628.1 623.5,628.1 624,628.1 624.5,628 625,628 625.5,628 626,628 626.5,627.9 627,627.9 627.5,627.9 628,627.9 628.5,627.8 629,627.8 629.5,627.8 630,627.8 630.5,627.7 631,627.7 631.5,627.7 632,627.7 632.5,627.6 633,627.6 633.5,627.5 634,627.5 634.5,627.5 635,627.4 635.5,627.4 636,627.3 636.5,627.3 637,627.3 637.5,627.2 638,627.2 638.5,627.1 639,627.1 639.5,627 640,626.9 640.5,626.9 641,626.8 641.5,626.7 642,626.6 642.5,626.5 643,626.4 643.5,626.3 644,626.1 644.5,626 645,625.8 645.5,625.6 646,625.4 646.5,625.2 647,624.9 647.5,624.6 648,624.3 648.5,623.8 649,623.4 649.5,622.9 650,622.3 650.5,621.8 651,621.2 651.5,620.6 652,619.9 652.5,619.2 653,618.5 653.5,617.6 654,616.7 654.5,615.7 655,614.7 655.5,613.7 656,612.6 656.5,611.5 657,610.5 657.5,609.4 658,608.3 658.5,607.2 659,606.1 659.5,604.9 660,603.7 660.5,602.4 661,601.2 661.5,599.9 662,598.7 662.5,597.5 663,596.3 663.5,595.2 664,594.2 664.5,593.2 665,592.3 665.5,591.4 666,590.6 666.5,589.8 667,589 667.5,588.2 668,587.4 668.5,586.7 669,586 669.5,585.4 670,584.7 670.5,584.1 671,583.5 671.5,582.9 672,582.3 672.5,581.7 673,581.1 673.5,580.5 674,580 674.5,579.4 675,578.9 675.5,578.4 676,577.9 676.5,577.4 677,577 677.5,576.6 678,576.1 678.5,575.8 679,575.4 679.5,575.1 680,574.8 680.5,574.5 681,574.2 681.5,573.9 682,573.7 682.5,573.4 683,573.2 683.5,573 684,572.8 684.5,572.5 685,572.3 685.5,572.1 686,571.9 686.5,571.6 687,571.4 687.5,571.2 688,570.9 688.5,570.6 689,570.4 689.5,570.2 690,569.9 690.5,569.7 691,569.4 691.5,569.2 692,568.9 692.5,568.6 693,568.3 693.5,568 694,567.6 694.5,567.1 695,566.6 695.5,566 696,565.4 696.5,564.6 697,563.8 697.5,563 698,562.1 698.5,561.1 699,560.1 699.5,559.1 700,558 700.5,556.7 701,555.3 701.5,553.8 702,552.3 702.5,550.6 703,549 703.5,547.3 704,545.5 704.5,543.6 705,541.6 705.5,539.5 706,537.4 706.5,535.3 707,533.2 707.5,531.2 708,529.3 708.5,527.5 709,525.6 709.5,523.8 710,521.9 710.5,520.1 711,518.4 711.5,516.9 712,515.4 712.5,514.1 713,513.1 713.5,512.2 714,511.4 714.5,510.7 715,510 715.5,509.3 716,508.7 716.5,508.2 717,507.7 717.5,507.2 718,506.7 718.5,506.3 719,505.8 719.5,505.4 720,505 720.5,504.6 721,504.3 721.5,503.9 722,503.6 722.5,503.3 723,503 723.5,502.6 724,502.3 724.5,501.9 725,501.5 725.5,501.1 726,500.8 726.5,500.4 727,500 727.5,499.6 728,499.1 728.5,498.7 729,498.3 729.5,497.8 730,497.3 730.5,496.8 731,496.3 731.5,495.7 732,495.1 732.5,494.6 733,493.9 733.5,493.3 734,492.6 734.5,491.9 735,491.1 735.5,490.3 736,489.5 736.5,488.6 737,487.6 737.5,486.6 738,485.4 738.5,484.2 739,482.9 739.5,481.4 740,479.9 740.5,478.3 741,476.7 741.5,474.9 742,473 742.5,470.9 743,468.5 743.5,465.8 744,463 744.5,460 745,457 745.5,453.9 746,450.8 746.5,447.7 747,444.8 747.5,441.9 748,438.8 748.5,435.7 749,432.6 749.5,429.4 750,426.4 750.5,423.5 751,420.7 751.5,418.2 752,415.7 752.5,413.1 753,410.7 753.5,408.6 754,406.8 754.5,405.5 755,404.5 755.5,403.6 756,402.8 756.5,402.2 757,401.9 757.5,401.8 758,402 758.5,402.3 759,402.7 759.5,403.1 760,403.6 760.5,404 761,404.4 761.5,404.8 762,405.2 762.5,405.6 763,406 763.5,406.3 764,406.4 764.5,406.3 765,405.9 765.5,405.4 766,404.6 766.5,403.9 767,403.1 767.5,402.3 768,401.4 768.5,400.3 769,399.3 769.5,398.4 770,397.8 770.5,397.4 771,396.9 771.5,396.6 772,396.5 772.5,396.6 773,397 773.5,397.6 774,398.4 774.5,399.3 775,400.4 775.5,401.9 776,403.9 776.5,406.2 777,408.6 777.5,411 778,413.3 778.5,415.6 779,417.9 779.5,420.2 780,422.6 780.5,425.1 781,427.7 781.5,430.3 782,433 782.5,435.9 783,438.8 783.5,441.9 784,445.1 784.5,448.4 785,451.8 785.5,455.3 786,458.9 786.5,462.6 787,466.6 787.5,470.7 788,475 788.5,479.4 789,484 789.5,488.6 790,493.4 790.5,498.3 791,503.4 791.5,508.6 792,513.8 792.5,518.9 793,524.1 793.5,529.5 794,534.9 794.5,540.3 795,545.5 795.5,550.3 796,554.7 796.5,559 797,563.1 797.5,567 798,570.8 798.5,574.4 799,577.9 799.5,581.1 800,584.1 800.5,587 801,589.6 801.5,592.2 802,594.6 802.5,596.9 803,599 803.5,601 804,602.9 804.5,604.7 805,606.4 805.5,608.1 806,609.7 806.5,611.3 807,612.8 807.5,614.2 808,615.5 808.5,616.8 809,618 809.5,619.2 810,620.2 810.5,621.3 811,622.3 811.5,623.2 812,624.1 812.5,625 813,625.9 813.5,626.7 814,627.4 814.5,628.1 815,628.8 815.5,629.4 816,630 816.5,630.5 817,631.1 817.5,631.6 818,632.1 818.5,632.6 819,633 819.5,633.5 820,633.9 820.5,634.2 821,634.6 821.5,634.9 822,635.2 822.5,635.4 823,635.6 823.5,635.8 824,636 824.5,636.2 825,636.3 825.5,636.5 826,636.7 826.5,636.8 827,637 827.5,637.1 828,637.2 828.5,637.3 829,637.4 829.5,637.5 830,637.6 830.5,637.7 831,637.8 831.5,637.8 832,637.9 832.5,637.9 833,638 833.5,638 834,638.1 834.5,638.1 835,638.2 835.5,638.2 836,638.3 836.5,638.3 837,638.4 837.5,638.4 838,638.4 838.5,638.5 839,638.5 839.5,638.6 840,638.6 840.5,638.6 841,638.7 841.5,638.7 842,638.7 842.5,638.8 843,638.8 843.5,638.8 844,638.8 844.5,638.9 845,638.9 845.5,638.9 846,638.9 846.5,638.9 847,638.9 847.5,639 848,639 848.5,639 849,639 849.5,639 850,639 850.5,639 851,639 851.5,639 852,639 852.5,639.1 853,639.1 853.5,639.1 854,639.1 854.5,639.1 855,639.1 855.5,639.1 856,639.1 856.5,639.1 857,639.1 857.5,639.1 858,639.1 858.5,639.1 859,639.2 859.5,639.2 860,639.2 860.5,639.2 861,639.2 861.5,639.2 862,639.2 862.5,639.2 863,639.2 863.5,639.2 864,639.2 864.5,639.2 865,639.2 865.5,639.2 866,639.2 866.5,639.2 867,639.2 867.5,639.2 868,639.3 868.5,639.3 869,639.3 869.5,639.3 870,639.3 870.5,639.3 871,639.3 871.5,639.3 872,639.3 872.5,639.3 873,639.3 873.5,639.3 874,639.3 874.5,639.3 875,639.3 875.5,639.3 876,639.3 876.5,639.3 877,639.3 877.5,639.3 878,639.3 878.5,639.3 879,639.3 879.5,639.3 880,639.3 880.5,639.3 881,639.3 881.5,639.3 882,639.3 882.5,639.3 883,639.3 883.5,639.3 884,639.3 884.5,639.3 885,639.3 885.5,639.3 886,639.3 886.5,639.3 887,639.3 887.5,639.3 888,639.3 888.5,639.3 889,639.3 889.5,639.3 890,639.3 890.5,639.3 891,639.3 891.5,639.3 892,639.3 892.5,639.3 893,639.3 893.5,639.3 894,639.3 894.5,639.3 895,639.3 895.5,639.3 896,639.3 896.5,639.3 897,639.3 897.5,639.3 898,639.3 898.5,639.3 899,639.3 899.5,639.3 900,639.3 900.5,639.3 901,639.3 901.5,639.3 902,639.3 902.5,639.3 903,639.3 903.5,639.3 904,639.3 904.5,639.3 905,639.3 905.5,639.3 906,639.3 906.5,639.3 907,639.3 907.5,639.3 908,639.3 908.5,639.3 909,639.3 909.5,639.3 910,639.3 910.5,639.3 911,639.3 911.5,639.3 912,639.3 912.5,639.3 913,639.3 913.5,639.3 914,639.3 914.5,639.3 915,639.3 915.5,639.3 916,639.3 916.5,639.3 917,639.3 917.5,639.3 918,639.3 918.5,639.3 919,639.3 919.5,639.2 920,639.2 920.5,639.2 921,639.2 921.5,639.2 922,639.2 922.5,639.2 923,639.2 923.5,639.2 924,639.2 924.5,639.2 925,639.2 925.5,639.2 926,639.2 926.5,639.2 927,639.2 927.5,639.2 928,639.2 928.5,639.2 929,639.2 929.2,639.2" fill="none" stroke="#1010d0" stroke-width="2.9" stroke-linejoin="round" stroke-linecap="round" />
</g>
<path d="M609.1 657.2V650.6M673.1 657.2V650.6M737.2 657.2V650.6M801.3 657.2V650.6M865.3 657.2V650.6" stroke="#000" stroke-width="2.4" fill="none"/>
<path d="M577 657.2V653.5M641.1 657.2V653.5M705.2 657.2V653.5M769.2 657.2V653.5M833.3 657.2V653.5M897.4 657.2V653.5" stroke="#000" stroke-width="2.4" fill="none"/>
<path d="M545 641.8H551.6M545 578.8H551.6M545 515.8H551.6M545 452.8H551.6M545 389.8H551.6" stroke="#000" stroke-width="2.4" fill="none"/>
<path d="M545 610.3H548.7M545 547.3H548.7M545 484.3H548.7M545 421.3H548.7" stroke="#000" stroke-width="2.4" fill="none"/>
<text x="545" y="677.7" font-size="17.2" text-anchor="middle" >300</text>
<text x="609.1" y="677.7" font-size="17.2" text-anchor="middle" >350</text>
<text x="673.1" y="677.7" font-size="17.2" text-anchor="middle" >400</text>
<text x="737.2" y="677.7" font-size="17.2" text-anchor="middle" >450</text>
<text x="801.3" y="677.7" font-size="17.2" text-anchor="middle" >500</text>
<text x="865.3" y="677.7" font-size="17.2" text-anchor="middle" >550</text>
<text x="929.4" y="677.7" font-size="17.2" text-anchor="middle" >600</text>
<text x="538" y="646.4" font-size="17.2" text-anchor="end" >0</text>
<text x="538" y="583.4" font-size="17.2" text-anchor="end" >40</text>
<text x="538" y="520.4" font-size="17.2" text-anchor="end" >80</text>
<text x="538" y="457.4" font-size="17.2" text-anchor="end" >120</text>
<text x="538" y="394.4" font-size="17.2" text-anchor="end" >160</text>
<text x="737.2" y="708.6" font-size="18.5" text-anchor="middle" >Wavelength / nm</text>
<text transform="translate(487.6 531) rotate(-90)" font-size="18.5" text-anchor="middle">Photovoltage / &#956;V</text>
<text x="556" y="409" font-size="32" text-anchor="start" >(d)</text>
<line x1="790" y1="396.4" x2="820.4" y2="396.4" stroke="#000000" stroke-width="2.5" stroke-linecap="round"/>
<text x="824.9" y="400.5" font-size="14.6" text-anchor="start" class="lg">Zn<tspan font-size="9.3" dy="4.8">0.5</tspan><tspan dy="-4.8">Cd</tspan><tspan font-size="9.3" dy="4.8">0.5</tspan><tspan dy="-4.8">S</tspan></text>
<line x1="790" y1="419.4" x2="820.4" y2="419.4" stroke="#d81c1c" stroke-width="2.5" stroke-linecap="round"/>
<text x="824.9" y="423.5" font-size="14.6" text-anchor="start" class="lg">Pt/Zn<tspan font-size="9.3" dy="4.8">0.5</tspan><tspan dy="-4.8">Cd</tspan><tspan font-size="9.3" dy="4.8">0.5</tspan><tspan dy="-4.8">S</tspan></text>
<line x1="790" y1="442.4" x2="820.4" y2="442.4" stroke="#e426dc" stroke-width="2.5" stroke-linecap="round"/>
<text x="824.9" y="446.5" font-size="14.6" text-anchor="start" class="lg">Pd/Zn<tspan font-size="9.3" dy="4.8">0.5</tspan><tspan dy="-4.8">Cd</tspan><tspan font-size="9.3" dy="4.8">0.5</tspan><tspan dy="-4.8">S</tspan></text>
<line x1="790" y1="465.4" x2="820.4" y2="465.4" stroke="#1010d0" stroke-width="2.5" stroke-linecap="round"/>
<text x="824.9" y="469.5" font-size="14.6" text-anchor="start" class="lg">PtPd/Zn<tspan font-size="9.3" dy="4.8">0.5</tspan><tspan dy="-4.8">Cd</tspan><tspan font-size="9.3" dy="4.8">0.5</tspan><tspan dy="-4.8">S</tspan></text>
</g>
</g>
</svg>
</body>
</html>
